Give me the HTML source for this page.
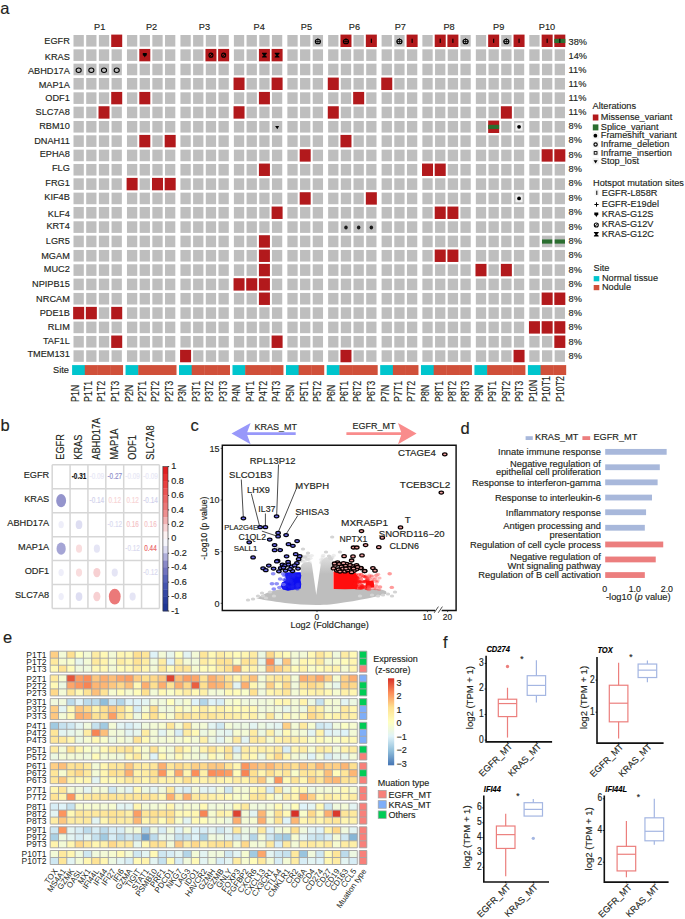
<!DOCTYPE html>
<html><head><meta charset="utf-8"><style>
html,body{margin:0;padding:0;background:#fff;}
svg{display:block;font-family:"Liberation Sans", sans-serif;}
</style></head><body>
<svg width="685" height="919" viewBox="0 0 685 919">
<rect width="685" height="919" fill="#fff"/>
<text x="0.30" y="14.00" font-size="16.5" text-anchor="start" fill="#231F20"  stroke="#231F20" stroke-width="0.15">a</text>
<text x="99.70" y="30.40" font-size="9.2" text-anchor="middle" fill="#231F20"  stroke="#231F20" stroke-width="0.15">P1</text>
<text x="151.60" y="30.40" font-size="9.2" text-anchor="middle" fill="#231F20"  stroke="#231F20" stroke-width="0.15">P2</text>
<text x="204.40" y="30.40" font-size="9.2" text-anchor="middle" fill="#231F20"  stroke="#231F20" stroke-width="0.15">P3</text>
<text x="259.20" y="30.40" font-size="9.2" text-anchor="middle" fill="#231F20"  stroke="#231F20" stroke-width="0.15">P4</text>
<text x="306.40" y="30.40" font-size="9.2" text-anchor="middle" fill="#231F20"  stroke="#231F20" stroke-width="0.15">P5</text>
<text x="354.40" y="30.40" font-size="9.2" text-anchor="middle" fill="#231F20"  stroke="#231F20" stroke-width="0.15">P6</text>
<text x="400.30" y="30.40" font-size="9.2" text-anchor="middle" fill="#231F20"  stroke="#231F20" stroke-width="0.15">P7</text>
<text x="449.00" y="30.40" font-size="9.2" text-anchor="middle" fill="#231F20"  stroke="#231F20" stroke-width="0.15">P8</text>
<text x="498.70" y="30.40" font-size="9.2" text-anchor="middle" fill="#231F20"  stroke="#231F20" stroke-width="0.15">P9</text>
<text x="547.00" y="30.40" font-size="9.2" text-anchor="middle" fill="#231F20"  stroke="#231F20" stroke-width="0.15">P10</text>
<text x="69.80" y="43.90" font-size="9.2" text-anchor="end" fill="#231F20"  stroke="#231F20" stroke-width="0.15">EGFR</text>
<text x="568.60" y="44.80" font-size="9.2" text-anchor="start" fill="#231F20"  stroke="#231F20" stroke-width="0.15">38%</text>
<rect x="73.50" y="35.00" width="10.30" height="11.60" fill="#BEBEBE" />
<rect x="86.19" y="35.00" width="10.30" height="11.60" fill="#BEBEBE" />
<rect x="98.87" y="35.00" width="10.30" height="11.60" fill="#BEBEBE" />
<rect x="111.21" y="34.60" width="11.00" height="12.40" fill="#B2191C" />
<rect x="126.96" y="35.00" width="10.30" height="11.60" fill="#BEBEBE" />
<rect x="139.65" y="35.00" width="10.30" height="11.60" fill="#BEBEBE" />
<rect x="152.34" y="35.00" width="10.30" height="11.60" fill="#BEBEBE" />
<rect x="165.03" y="35.00" width="10.30" height="11.60" fill="#BEBEBE" />
<rect x="180.43" y="35.00" width="10.30" height="11.60" fill="#BEBEBE" />
<rect x="193.11" y="35.00" width="10.30" height="11.60" fill="#BEBEBE" />
<rect x="205.80" y="35.00" width="10.30" height="11.60" fill="#BEBEBE" />
<rect x="218.49" y="35.00" width="10.30" height="11.60" fill="#BEBEBE" />
<rect x="233.89" y="35.00" width="10.30" height="11.60" fill="#BEBEBE" />
<rect x="246.58" y="35.00" width="10.30" height="11.60" fill="#BEBEBE" />
<rect x="259.27" y="35.00" width="10.30" height="11.60" fill="#BEBEBE" />
<rect x="271.95" y="35.00" width="10.30" height="11.60" fill="#BEBEBE" />
<rect x="287.36" y="35.00" width="10.30" height="11.60" fill="#BEBEBE" />
<rect x="300.04" y="35.00" width="10.30" height="11.60" fill="#BEBEBE" />
<rect x="312.73" y="35.00" width="10.30" height="11.60" fill="#BEBEBE" />
<ellipse cx="317.88" cy="41.50" rx="2.55" ry="2.3" fill="none" stroke="#000" stroke-width="1.1"/>
<path d="M315.28 41.50H320.48M317.88 38.20V43.90" stroke="#000" stroke-width="0.75"/>
<rect x="328.13" y="35.00" width="10.30" height="11.60" fill="#BEBEBE" />
<rect x="340.47" y="34.60" width="11.00" height="12.40" fill="#B2191C" />
<ellipse cx="345.97" cy="41.50" rx="2.55" ry="2.3" fill="none" stroke="#000" stroke-width="1.1"/>
<path d="M343.37 41.50H348.57M345.97 38.20V43.90" stroke="#000" stroke-width="0.75"/>
<rect x="353.51" y="35.00" width="10.30" height="11.60" fill="#BEBEBE" />
<rect x="365.84" y="34.60" width="11.00" height="12.40" fill="#B2191C" />
<rect x="370.79" y="38.70" width="1.1" height="4.2" fill="#000"/>
<rect x="381.60" y="35.00" width="10.30" height="11.60" fill="#BEBEBE" />
<rect x="394.28" y="35.00" width="10.30" height="11.60" fill="#BEBEBE" />
<ellipse cx="399.43" cy="41.50" rx="2.55" ry="2.3" fill="none" stroke="#000" stroke-width="1.1"/>
<path d="M396.83 41.50H402.03M399.43 38.20V43.90" stroke="#000" stroke-width="0.75"/>
<rect x="406.62" y="34.60" width="11.00" height="12.40" fill="#B2191C" />
<rect x="411.57" y="38.70" width="1.1" height="4.2" fill="#000"/>
<rect x="422.37" y="35.00" width="10.30" height="11.60" fill="#BEBEBE" />
<rect x="434.71" y="34.60" width="11.00" height="12.40" fill="#B2191C" />
<rect x="439.66" y="38.70" width="1.1" height="4.2" fill="#000"/>
<rect x="447.40" y="34.60" width="11.00" height="12.40" fill="#B2191C" />
<rect x="452.35" y="38.70" width="1.1" height="4.2" fill="#000"/>
<rect x="460.44" y="35.00" width="10.30" height="11.60" fill="#BEBEBE" />
<ellipse cx="465.58" cy="41.50" rx="2.55" ry="2.3" fill="none" stroke="#000" stroke-width="1.1"/>
<path d="M462.98 41.50H468.19M465.58 38.20V43.90" stroke="#000" stroke-width="0.75"/>
<rect x="475.84" y="35.00" width="10.30" height="11.60" fill="#BEBEBE" />
<rect x="488.17" y="34.60" width="11.00" height="12.40" fill="#B2191C" />
<rect x="493.12" y="38.70" width="1.1" height="4.2" fill="#000"/>
<rect x="501.21" y="35.00" width="10.30" height="11.60" fill="#BEBEBE" />
<ellipse cx="506.36" cy="41.50" rx="2.55" ry="2.3" fill="none" stroke="#000" stroke-width="1.1"/>
<path d="M503.76 41.50H508.96M506.36 38.20V43.90" stroke="#000" stroke-width="0.75"/>
<rect x="513.55" y="34.60" width="11.00" height="12.40" fill="#B2191C" />
<rect x="518.50" y="38.70" width="1.1" height="4.2" fill="#000"/>
<rect x="529.30" y="35.00" width="10.30" height="11.60" fill="#BEBEBE" />
<rect x="541.64" y="34.60" width="11.00" height="12.40" fill="#B2191C" />
<rect x="546.59" y="38.70" width="1.1" height="4.2" fill="#000"/>
<rect x="554.33" y="34.60" width="11.00" height="12.40" fill="#B2191C" />
<rect x="554.33" y="38.83" width="11.00" height="4.18" fill="#2B6E30" />
<rect x="559.28" y="38.70" width="1.1" height="4.2" fill="#000"/>
<text x="69.80" y="59.60" font-size="9.2" text-anchor="end" fill="#231F20"  stroke="#231F20" stroke-width="0.15">KRAS</text>
<text x="568.60" y="59.10" font-size="9.2" text-anchor="start" fill="#231F20"  stroke="#231F20" stroke-width="0.15">14%</text>
<rect x="73.50" y="49.33" width="10.30" height="11.60" fill="#BEBEBE" />
<rect x="86.19" y="49.33" width="10.30" height="11.60" fill="#BEBEBE" />
<rect x="98.87" y="49.33" width="10.30" height="11.60" fill="#BEBEBE" />
<rect x="111.56" y="49.33" width="10.30" height="11.60" fill="#BEBEBE" />
<rect x="126.96" y="49.33" width="10.30" height="11.60" fill="#BEBEBE" />
<rect x="139.30" y="48.93" width="11.00" height="12.40" fill="#B2191C" />
<path d="M142.80 52.93h4v2.4l-1.2 0.6l-0.8 1.6l-0.8-1.6l-1.2-0.6z" fill="#000"/>
<rect x="152.34" y="49.33" width="10.30" height="11.60" fill="#BEBEBE" />
<rect x="165.03" y="49.33" width="10.30" height="11.60" fill="#BEBEBE" />
<rect x="180.43" y="49.33" width="10.30" height="11.60" fill="#BEBEBE" />
<rect x="193.11" y="49.33" width="10.30" height="11.60" fill="#BEBEBE" />
<rect x="205.45" y="48.93" width="11.00" height="12.40" fill="#B2191C" />
<circle cx="210.95" cy="55.13" r="2.0" fill="none" stroke="#000" stroke-width="1.1"/>
<path d="M209.45 56.63L212.45 53.63" stroke="#000" stroke-width="1.0"/>
<rect x="218.14" y="48.93" width="11.00" height="12.40" fill="#B2191C" />
<circle cx="223.64" cy="55.13" r="2.0" fill="none" stroke="#000" stroke-width="1.1"/>
<path d="M222.14 56.63L225.14 53.63" stroke="#000" stroke-width="1.0"/>
<rect x="233.89" y="49.33" width="10.30" height="11.60" fill="#BEBEBE" />
<rect x="246.58" y="49.33" width="10.30" height="11.60" fill="#BEBEBE" />
<rect x="258.92" y="48.93" width="11.00" height="12.40" fill="#B2191C" />
<path d="M262.02 52.83h4.8v0.8l-1.6 1.5l1.6 1.5v0.8h-4.8v-0.8l1.6-1.5l-1.6-1.5z" fill="#000"/>
<rect x="271.60" y="48.93" width="11.00" height="12.40" fill="#B2191C" />
<path d="M274.70 52.83h4.8v0.8l-1.6 1.5l1.6 1.5v0.8h-4.8v-0.8l1.6-1.5l-1.6-1.5z" fill="#000"/>
<rect x="287.36" y="49.33" width="10.30" height="11.60" fill="#BEBEBE" />
<rect x="300.04" y="49.33" width="10.30" height="11.60" fill="#BEBEBE" />
<rect x="312.73" y="49.33" width="10.30" height="11.60" fill="#BEBEBE" />
<rect x="328.13" y="49.33" width="10.30" height="11.60" fill="#BEBEBE" />
<rect x="340.82" y="49.33" width="10.30" height="11.60" fill="#BEBEBE" />
<rect x="353.51" y="49.33" width="10.30" height="11.60" fill="#BEBEBE" />
<rect x="366.19" y="49.33" width="10.30" height="11.60" fill="#BEBEBE" />
<rect x="381.60" y="49.33" width="10.30" height="11.60" fill="#BEBEBE" />
<rect x="394.28" y="49.33" width="10.30" height="11.60" fill="#BEBEBE" />
<rect x="406.97" y="49.33" width="10.30" height="11.60" fill="#BEBEBE" />
<rect x="422.37" y="49.33" width="10.30" height="11.60" fill="#BEBEBE" />
<rect x="435.06" y="49.33" width="10.30" height="11.60" fill="#BEBEBE" />
<rect x="447.75" y="49.33" width="10.30" height="11.60" fill="#BEBEBE" />
<rect x="460.44" y="49.33" width="10.30" height="11.60" fill="#BEBEBE" />
<rect x="475.84" y="49.33" width="10.30" height="11.60" fill="#BEBEBE" />
<rect x="488.52" y="49.33" width="10.30" height="11.60" fill="#BEBEBE" />
<rect x="501.21" y="49.33" width="10.30" height="11.60" fill="#BEBEBE" />
<rect x="513.90" y="49.33" width="10.30" height="11.60" fill="#BEBEBE" />
<rect x="529.30" y="49.33" width="10.30" height="11.60" fill="#BEBEBE" />
<rect x="541.99" y="49.33" width="10.30" height="11.60" fill="#BEBEBE" />
<rect x="554.68" y="49.33" width="10.30" height="11.60" fill="#BEBEBE" />
<text x="69.80" y="73.80" font-size="9.2" text-anchor="end" fill="#231F20"  stroke="#231F20" stroke-width="0.15">ABHD17A</text>
<text x="568.60" y="73.00" font-size="9.2" text-anchor="start" fill="#231F20"  stroke="#231F20" stroke-width="0.15">11%</text>
<rect x="73.50" y="63.66" width="10.30" height="11.60" fill="#BEBEBE" />
<ellipse cx="78.65" cy="70.26" rx="2.55" ry="2.25" fill="none" stroke="#000" stroke-width="1.05"/>
<rect x="86.19" y="63.66" width="10.30" height="11.60" fill="#BEBEBE" />
<ellipse cx="91.34" cy="70.26" rx="2.55" ry="2.25" fill="none" stroke="#000" stroke-width="1.05"/>
<rect x="98.87" y="63.66" width="10.30" height="11.60" fill="#BEBEBE" />
<ellipse cx="104.02" cy="70.26" rx="2.55" ry="2.25" fill="none" stroke="#000" stroke-width="1.05"/>
<rect x="111.56" y="63.66" width="10.30" height="11.60" fill="#BEBEBE" />
<ellipse cx="116.71" cy="70.26" rx="2.55" ry="2.25" fill="none" stroke="#000" stroke-width="1.05"/>
<rect x="126.96" y="63.66" width="10.30" height="11.60" fill="#BEBEBE" />
<rect x="139.65" y="63.66" width="10.30" height="11.60" fill="#BEBEBE" />
<rect x="152.34" y="63.66" width="10.30" height="11.60" fill="#BEBEBE" />
<rect x="165.03" y="63.66" width="10.30" height="11.60" fill="#BEBEBE" />
<rect x="180.43" y="63.66" width="10.30" height="11.60" fill="#BEBEBE" />
<rect x="193.11" y="63.66" width="10.30" height="11.60" fill="#BEBEBE" />
<rect x="205.80" y="63.66" width="10.30" height="11.60" fill="#BEBEBE" />
<rect x="218.49" y="63.66" width="10.30" height="11.60" fill="#BEBEBE" />
<rect x="233.89" y="63.66" width="10.30" height="11.60" fill="#BEBEBE" />
<rect x="246.58" y="63.66" width="10.30" height="11.60" fill="#BEBEBE" />
<rect x="259.27" y="63.66" width="10.30" height="11.60" fill="#BEBEBE" />
<rect x="271.95" y="63.66" width="10.30" height="11.60" fill="#BEBEBE" />
<rect x="287.36" y="63.66" width="10.30" height="11.60" fill="#BEBEBE" />
<rect x="300.04" y="63.66" width="10.30" height="11.60" fill="#BEBEBE" />
<rect x="312.73" y="63.66" width="10.30" height="11.60" fill="#BEBEBE" />
<rect x="328.13" y="63.66" width="10.30" height="11.60" fill="#BEBEBE" />
<rect x="340.82" y="63.66" width="10.30" height="11.60" fill="#BEBEBE" />
<rect x="353.51" y="63.66" width="10.30" height="11.60" fill="#BEBEBE" />
<rect x="366.19" y="63.66" width="10.30" height="11.60" fill="#BEBEBE" />
<rect x="381.60" y="63.66" width="10.30" height="11.60" fill="#BEBEBE" />
<rect x="394.28" y="63.66" width="10.30" height="11.60" fill="#BEBEBE" />
<rect x="406.97" y="63.66" width="10.30" height="11.60" fill="#BEBEBE" />
<rect x="422.37" y="63.66" width="10.30" height="11.60" fill="#BEBEBE" />
<rect x="435.06" y="63.66" width="10.30" height="11.60" fill="#BEBEBE" />
<rect x="447.75" y="63.66" width="10.30" height="11.60" fill="#BEBEBE" />
<rect x="460.44" y="63.66" width="10.30" height="11.60" fill="#BEBEBE" />
<rect x="475.84" y="63.66" width="10.30" height="11.60" fill="#BEBEBE" />
<rect x="488.52" y="63.66" width="10.30" height="11.60" fill="#BEBEBE" />
<rect x="501.21" y="63.66" width="10.30" height="11.60" fill="#BEBEBE" />
<rect x="513.90" y="63.66" width="10.30" height="11.60" fill="#BEBEBE" />
<rect x="529.30" y="63.66" width="10.30" height="11.60" fill="#BEBEBE" />
<rect x="541.99" y="63.66" width="10.30" height="11.60" fill="#BEBEBE" />
<rect x="554.68" y="63.66" width="10.30" height="11.60" fill="#BEBEBE" />
<text x="69.80" y="87.70" font-size="9.2" text-anchor="end" fill="#231F20"  stroke="#231F20" stroke-width="0.15">MAP1A</text>
<text x="568.60" y="86.80" font-size="9.2" text-anchor="start" fill="#231F20"  stroke="#231F20" stroke-width="0.15">11%</text>
<rect x="73.50" y="77.99" width="10.30" height="11.60" fill="#BEBEBE" />
<rect x="86.19" y="77.99" width="10.30" height="11.60" fill="#BEBEBE" />
<rect x="98.87" y="77.99" width="10.30" height="11.60" fill="#BEBEBE" />
<rect x="111.56" y="77.99" width="10.30" height="11.60" fill="#BEBEBE" />
<rect x="126.96" y="77.99" width="10.30" height="11.60" fill="#BEBEBE" />
<rect x="139.65" y="77.99" width="10.30" height="11.60" fill="#BEBEBE" />
<rect x="152.34" y="77.99" width="10.30" height="11.60" fill="#BEBEBE" />
<rect x="165.03" y="77.99" width="10.30" height="11.60" fill="#BEBEBE" />
<rect x="180.43" y="77.99" width="10.30" height="11.60" fill="#BEBEBE" />
<rect x="193.11" y="77.99" width="10.30" height="11.60" fill="#BEBEBE" />
<rect x="205.80" y="77.99" width="10.30" height="11.60" fill="#BEBEBE" />
<rect x="218.49" y="77.99" width="10.30" height="11.60" fill="#BEBEBE" />
<rect x="233.54" y="77.59" width="11.00" height="12.40" fill="#B2191C" />
<rect x="246.58" y="77.99" width="10.30" height="11.60" fill="#BEBEBE" />
<rect x="259.27" y="77.99" width="10.30" height="11.60" fill="#BEBEBE" />
<rect x="271.60" y="77.59" width="11.00" height="12.40" fill="#B2191C" />
<rect x="287.36" y="77.99" width="10.30" height="11.60" fill="#BEBEBE" />
<rect x="300.04" y="77.99" width="10.30" height="11.60" fill="#BEBEBE" />
<rect x="312.73" y="77.99" width="10.30" height="11.60" fill="#BEBEBE" />
<rect x="327.78" y="77.59" width="11.00" height="12.40" fill="#B2191C" />
<rect x="340.82" y="77.99" width="10.30" height="11.60" fill="#BEBEBE" />
<rect x="353.51" y="77.99" width="10.30" height="11.60" fill="#BEBEBE" />
<rect x="366.19" y="77.99" width="10.30" height="11.60" fill="#BEBEBE" />
<rect x="381.25" y="77.59" width="11.00" height="12.40" fill="#B2191C" />
<rect x="394.28" y="77.99" width="10.30" height="11.60" fill="#BEBEBE" />
<rect x="406.97" y="77.99" width="10.30" height="11.60" fill="#BEBEBE" />
<rect x="422.37" y="77.99" width="10.30" height="11.60" fill="#BEBEBE" />
<rect x="435.06" y="77.99" width="10.30" height="11.60" fill="#BEBEBE" />
<rect x="447.75" y="77.99" width="10.30" height="11.60" fill="#BEBEBE" />
<rect x="460.44" y="77.99" width="10.30" height="11.60" fill="#BEBEBE" />
<rect x="475.84" y="77.99" width="10.30" height="11.60" fill="#BEBEBE" />
<rect x="488.52" y="77.99" width="10.30" height="11.60" fill="#BEBEBE" />
<rect x="501.21" y="77.99" width="10.30" height="11.60" fill="#BEBEBE" />
<rect x="513.90" y="77.99" width="10.30" height="11.60" fill="#BEBEBE" />
<rect x="529.30" y="77.99" width="10.30" height="11.60" fill="#BEBEBE" />
<rect x="541.99" y="77.99" width="10.30" height="11.60" fill="#BEBEBE" />
<rect x="554.68" y="77.99" width="10.30" height="11.60" fill="#BEBEBE" />
<text x="69.80" y="101.40" font-size="9.2" text-anchor="end" fill="#231F20"  stroke="#231F20" stroke-width="0.15">ODF1</text>
<text x="568.60" y="100.90" font-size="9.2" text-anchor="start" fill="#231F20"  stroke="#231F20" stroke-width="0.15">11%</text>
<rect x="73.50" y="92.32" width="10.30" height="11.60" fill="#BEBEBE" />
<rect x="86.19" y="92.32" width="10.30" height="11.60" fill="#BEBEBE" />
<rect x="98.87" y="92.32" width="10.30" height="11.60" fill="#BEBEBE" />
<rect x="111.21" y="91.92" width="11.00" height="12.40" fill="#B2191C" />
<rect x="126.96" y="92.32" width="10.30" height="11.60" fill="#BEBEBE" />
<rect x="139.30" y="91.92" width="11.00" height="12.40" fill="#B2191C" />
<rect x="152.34" y="92.32" width="10.30" height="11.60" fill="#BEBEBE" />
<rect x="165.03" y="92.32" width="10.30" height="11.60" fill="#BEBEBE" />
<rect x="180.43" y="92.32" width="10.30" height="11.60" fill="#BEBEBE" />
<rect x="193.11" y="92.32" width="10.30" height="11.60" fill="#BEBEBE" />
<rect x="205.80" y="92.32" width="10.30" height="11.60" fill="#BEBEBE" />
<rect x="218.49" y="92.32" width="10.30" height="11.60" fill="#BEBEBE" />
<rect x="233.89" y="92.32" width="10.30" height="11.60" fill="#BEBEBE" />
<rect x="246.58" y="92.32" width="10.30" height="11.60" fill="#BEBEBE" />
<rect x="258.92" y="91.92" width="11.00" height="12.40" fill="#B2191C" />
<rect x="271.95" y="92.32" width="10.30" height="11.60" fill="#BEBEBE" />
<rect x="287.36" y="92.32" width="10.30" height="11.60" fill="#BEBEBE" />
<rect x="300.04" y="92.32" width="10.30" height="11.60" fill="#BEBEBE" />
<rect x="312.73" y="92.32" width="10.30" height="11.60" fill="#BEBEBE" />
<rect x="328.13" y="92.32" width="10.30" height="11.60" fill="#BEBEBE" />
<rect x="340.82" y="92.32" width="10.30" height="11.60" fill="#BEBEBE" />
<rect x="353.16" y="91.92" width="11.00" height="12.40" fill="#B2191C" />
<rect x="366.19" y="92.32" width="10.30" height="11.60" fill="#BEBEBE" />
<rect x="381.60" y="92.32" width="10.30" height="11.60" fill="#BEBEBE" />
<rect x="394.28" y="92.32" width="10.30" height="11.60" fill="#BEBEBE" />
<rect x="406.97" y="92.32" width="10.30" height="11.60" fill="#BEBEBE" />
<rect x="422.37" y="92.32" width="10.30" height="11.60" fill="#BEBEBE" />
<rect x="435.06" y="92.32" width="10.30" height="11.60" fill="#BEBEBE" />
<rect x="447.75" y="92.32" width="10.30" height="11.60" fill="#BEBEBE" />
<rect x="460.44" y="92.32" width="10.30" height="11.60" fill="#BEBEBE" />
<rect x="475.84" y="92.32" width="10.30" height="11.60" fill="#BEBEBE" />
<rect x="488.52" y="92.32" width="10.30" height="11.60" fill="#BEBEBE" />
<rect x="501.21" y="92.32" width="10.30" height="11.60" fill="#BEBEBE" />
<rect x="513.90" y="92.32" width="10.30" height="11.60" fill="#BEBEBE" />
<rect x="529.30" y="92.32" width="10.30" height="11.60" fill="#BEBEBE" />
<rect x="541.99" y="92.32" width="10.30" height="11.60" fill="#BEBEBE" />
<rect x="554.68" y="92.32" width="10.30" height="11.60" fill="#BEBEBE" />
<text x="69.80" y="114.90" font-size="9.2" text-anchor="end" fill="#231F20"  stroke="#231F20" stroke-width="0.15">SLC7A8</text>
<text x="568.60" y="114.90" font-size="9.2" text-anchor="start" fill="#231F20"  stroke="#231F20" stroke-width="0.15">11%</text>
<rect x="73.50" y="106.65" width="10.30" height="11.60" fill="#BEBEBE" />
<rect x="86.19" y="106.65" width="10.30" height="11.60" fill="#BEBEBE" />
<rect x="98.52" y="106.25" width="11.00" height="12.40" fill="#B2191C" />
<rect x="111.56" y="106.65" width="10.30" height="11.60" fill="#BEBEBE" />
<rect x="126.96" y="106.65" width="10.30" height="11.60" fill="#BEBEBE" />
<rect x="139.65" y="106.65" width="10.30" height="11.60" fill="#BEBEBE" />
<rect x="152.34" y="106.65" width="10.30" height="11.60" fill="#BEBEBE" />
<rect x="165.03" y="106.65" width="10.30" height="11.60" fill="#BEBEBE" />
<rect x="180.43" y="106.65" width="10.30" height="11.60" fill="#BEBEBE" />
<rect x="193.11" y="106.65" width="10.30" height="11.60" fill="#BEBEBE" />
<rect x="205.80" y="106.65" width="10.30" height="11.60" fill="#BEBEBE" />
<rect x="218.49" y="106.65" width="10.30" height="11.60" fill="#BEBEBE" />
<rect x="233.54" y="106.25" width="11.00" height="12.40" fill="#B2191C" />
<rect x="246.58" y="106.65" width="10.30" height="11.60" fill="#BEBEBE" />
<rect x="259.27" y="106.65" width="10.30" height="11.60" fill="#BEBEBE" />
<rect x="271.95" y="106.65" width="10.30" height="11.60" fill="#BEBEBE" />
<rect x="287.36" y="106.65" width="10.30" height="11.60" fill="#BEBEBE" />
<rect x="300.04" y="106.65" width="10.30" height="11.60" fill="#BEBEBE" />
<rect x="312.73" y="106.65" width="10.30" height="11.60" fill="#BEBEBE" />
<rect x="327.78" y="106.25" width="11.00" height="12.40" fill="#B2191C" />
<rect x="340.82" y="106.65" width="10.30" height="11.60" fill="#BEBEBE" />
<rect x="353.51" y="106.65" width="10.30" height="11.60" fill="#BEBEBE" />
<rect x="366.19" y="106.65" width="10.30" height="11.60" fill="#BEBEBE" />
<rect x="381.60" y="106.65" width="10.30" height="11.60" fill="#BEBEBE" />
<rect x="394.28" y="106.65" width="10.30" height="11.60" fill="#BEBEBE" />
<rect x="406.97" y="106.65" width="10.30" height="11.60" fill="#BEBEBE" />
<rect x="422.37" y="106.65" width="10.30" height="11.60" fill="#BEBEBE" />
<rect x="435.06" y="106.65" width="10.30" height="11.60" fill="#BEBEBE" />
<rect x="447.75" y="106.65" width="10.30" height="11.60" fill="#BEBEBE" />
<rect x="460.44" y="106.65" width="10.30" height="11.60" fill="#BEBEBE" />
<rect x="475.84" y="106.65" width="10.30" height="11.60" fill="#BEBEBE" />
<rect x="488.52" y="106.65" width="10.30" height="11.60" fill="#BEBEBE" />
<rect x="500.86" y="106.25" width="11.00" height="12.40" fill="#B2191C" />
<rect x="513.90" y="106.65" width="10.30" height="11.60" fill="#BEBEBE" />
<rect x="529.30" y="106.65" width="10.30" height="11.60" fill="#BEBEBE" />
<rect x="541.99" y="106.65" width="10.30" height="11.60" fill="#BEBEBE" />
<rect x="554.68" y="106.65" width="10.30" height="11.60" fill="#BEBEBE" />
<text x="69.80" y="129.30" font-size="9.2" text-anchor="end" fill="#231F20"  stroke="#231F20" stroke-width="0.15">RBM10</text>
<text x="568.60" y="129.10" font-size="9.2" text-anchor="start" fill="#231F20"  stroke="#231F20" stroke-width="0.15">8%</text>
<rect x="73.50" y="120.98" width="10.30" height="11.60" fill="#BEBEBE" />
<rect x="86.19" y="120.98" width="10.30" height="11.60" fill="#BEBEBE" />
<rect x="98.87" y="120.98" width="10.30" height="11.60" fill="#BEBEBE" />
<rect x="111.56" y="120.98" width="10.30" height="11.60" fill="#BEBEBE" />
<rect x="126.96" y="120.98" width="10.30" height="11.60" fill="#BEBEBE" />
<rect x="139.65" y="120.98" width="10.30" height="11.60" fill="#BEBEBE" />
<rect x="152.34" y="120.98" width="10.30" height="11.60" fill="#BEBEBE" />
<rect x="165.03" y="120.98" width="10.30" height="11.60" fill="#BEBEBE" />
<rect x="180.43" y="120.98" width="10.30" height="11.60" fill="#BEBEBE" />
<rect x="193.11" y="120.98" width="10.30" height="11.60" fill="#BEBEBE" />
<rect x="205.80" y="120.98" width="10.30" height="11.60" fill="#BEBEBE" />
<rect x="218.49" y="120.98" width="10.30" height="11.60" fill="#BEBEBE" />
<rect x="233.89" y="120.98" width="10.30" height="11.60" fill="#BEBEBE" />
<rect x="246.58" y="120.98" width="10.30" height="11.60" fill="#BEBEBE" />
<rect x="259.27" y="120.98" width="10.30" height="11.60" fill="#BEBEBE" />
<rect x="271.95" y="120.98" width="10.30" height="11.60" fill="#BEBEBE" />
<path d="M275.10 125.88h4.0l-1.8 3.4z" fill="#000"/>
<rect x="287.36" y="120.98" width="10.30" height="11.60" fill="#BEBEBE" />
<rect x="300.04" y="120.98" width="10.30" height="11.60" fill="#BEBEBE" />
<rect x="312.73" y="120.98" width="10.30" height="11.60" fill="#BEBEBE" />
<rect x="328.13" y="120.98" width="10.30" height="11.60" fill="#BEBEBE" />
<rect x="340.82" y="120.98" width="10.30" height="11.60" fill="#BEBEBE" />
<rect x="353.51" y="120.98" width="10.30" height="11.60" fill="#BEBEBE" />
<rect x="366.19" y="120.98" width="10.30" height="11.60" fill="#BEBEBE" />
<rect x="381.60" y="120.98" width="10.30" height="11.60" fill="#BEBEBE" />
<rect x="394.28" y="120.98" width="10.30" height="11.60" fill="#BEBEBE" />
<rect x="406.97" y="120.98" width="10.30" height="11.60" fill="#BEBEBE" />
<rect x="422.37" y="120.98" width="10.30" height="11.60" fill="#BEBEBE" />
<rect x="435.06" y="120.98" width="10.30" height="11.60" fill="#BEBEBE" />
<rect x="447.75" y="120.98" width="10.30" height="11.60" fill="#BEBEBE" />
<rect x="460.44" y="120.98" width="10.30" height="11.60" fill="#BEBEBE" />
<rect x="475.84" y="120.98" width="10.30" height="11.60" fill="#BEBEBE" />
<rect x="488.17" y="120.58" width="11.00" height="12.40" fill="#B2191C" />
<rect x="488.17" y="124.81" width="11.00" height="4.18" fill="#2B6E30" />
<rect x="501.21" y="120.98" width="10.30" height="11.60" fill="#BEBEBE" />
<rect x="513.90" y="120.98" width="10.30" height="11.60" fill="#BEBEBE" />
<rect x="515.50" y="122.88" width="7.10" height="7.80" fill="#EFEFEF" />
<circle cx="519.05" cy="126.78" r="1.9" fill="#000"/>
<rect x="529.30" y="120.98" width="10.30" height="11.60" fill="#BEBEBE" />
<rect x="541.99" y="120.98" width="10.30" height="11.60" fill="#BEBEBE" />
<rect x="554.68" y="120.98" width="10.30" height="11.60" fill="#BEBEBE" />
<text x="69.80" y="143.50" font-size="9.2" text-anchor="end" fill="#231F20"  stroke="#231F20" stroke-width="0.15">DNAH11</text>
<text x="568.60" y="143.30" font-size="9.2" text-anchor="start" fill="#231F20"  stroke="#231F20" stroke-width="0.15">8%</text>
<rect x="73.50" y="135.31" width="10.30" height="11.60" fill="#BEBEBE" />
<rect x="86.19" y="135.31" width="10.30" height="11.60" fill="#BEBEBE" />
<rect x="98.87" y="135.31" width="10.30" height="11.60" fill="#BEBEBE" />
<rect x="111.56" y="135.31" width="10.30" height="11.60" fill="#BEBEBE" />
<rect x="126.96" y="135.31" width="10.30" height="11.60" fill="#BEBEBE" />
<rect x="139.30" y="134.91" width="11.00" height="12.40" fill="#B2191C" />
<rect x="152.34" y="135.31" width="10.30" height="11.60" fill="#BEBEBE" />
<rect x="164.68" y="134.91" width="11.00" height="12.40" fill="#B2191C" />
<rect x="180.43" y="135.31" width="10.30" height="11.60" fill="#BEBEBE" />
<rect x="193.11" y="135.31" width="10.30" height="11.60" fill="#BEBEBE" />
<rect x="205.80" y="135.31" width="10.30" height="11.60" fill="#BEBEBE" />
<rect x="218.49" y="135.31" width="10.30" height="11.60" fill="#BEBEBE" />
<rect x="233.89" y="135.31" width="10.30" height="11.60" fill="#BEBEBE" />
<rect x="246.58" y="135.31" width="10.30" height="11.60" fill="#BEBEBE" />
<rect x="259.27" y="135.31" width="10.30" height="11.60" fill="#BEBEBE" />
<rect x="271.95" y="135.31" width="10.30" height="11.60" fill="#BEBEBE" />
<rect x="287.36" y="135.31" width="10.30" height="11.60" fill="#BEBEBE" />
<rect x="300.04" y="135.31" width="10.30" height="11.60" fill="#BEBEBE" />
<rect x="312.73" y="135.31" width="10.30" height="11.60" fill="#BEBEBE" />
<rect x="328.13" y="135.31" width="10.30" height="11.60" fill="#BEBEBE" />
<rect x="340.47" y="134.91" width="11.00" height="12.40" fill="#B2191C" />
<rect x="353.51" y="135.31" width="10.30" height="11.60" fill="#BEBEBE" />
<rect x="366.19" y="135.31" width="10.30" height="11.60" fill="#BEBEBE" />
<rect x="381.60" y="135.31" width="10.30" height="11.60" fill="#BEBEBE" />
<rect x="394.28" y="135.31" width="10.30" height="11.60" fill="#BEBEBE" />
<rect x="406.97" y="135.31" width="10.30" height="11.60" fill="#BEBEBE" />
<rect x="422.37" y="135.31" width="10.30" height="11.60" fill="#BEBEBE" />
<rect x="435.06" y="135.31" width="10.30" height="11.60" fill="#BEBEBE" />
<rect x="447.75" y="135.31" width="10.30" height="11.60" fill="#BEBEBE" />
<rect x="460.44" y="135.31" width="10.30" height="11.60" fill="#BEBEBE" />
<rect x="475.84" y="135.31" width="10.30" height="11.60" fill="#BEBEBE" />
<rect x="488.52" y="135.31" width="10.30" height="11.60" fill="#BEBEBE" />
<rect x="501.21" y="135.31" width="10.30" height="11.60" fill="#BEBEBE" />
<rect x="513.90" y="135.31" width="10.30" height="11.60" fill="#BEBEBE" />
<rect x="529.30" y="135.31" width="10.30" height="11.60" fill="#BEBEBE" />
<rect x="541.99" y="135.31" width="10.30" height="11.60" fill="#BEBEBE" />
<rect x="554.68" y="135.31" width="10.30" height="11.60" fill="#BEBEBE" />
<text x="69.80" y="157.00" font-size="9.2" text-anchor="end" fill="#231F20"  stroke="#231F20" stroke-width="0.15">EPHA8</text>
<text x="568.60" y="157.60" font-size="9.2" text-anchor="start" fill="#231F20"  stroke="#231F20" stroke-width="0.15">8%</text>
<rect x="73.50" y="149.64" width="10.30" height="11.60" fill="#BEBEBE" />
<rect x="86.19" y="149.64" width="10.30" height="11.60" fill="#BEBEBE" />
<rect x="98.87" y="149.64" width="10.30" height="11.60" fill="#BEBEBE" />
<rect x="111.56" y="149.64" width="10.30" height="11.60" fill="#BEBEBE" />
<rect x="126.96" y="149.64" width="10.30" height="11.60" fill="#BEBEBE" />
<rect x="139.65" y="149.64" width="10.30" height="11.60" fill="#BEBEBE" />
<rect x="152.34" y="149.64" width="10.30" height="11.60" fill="#BEBEBE" />
<rect x="165.03" y="149.64" width="10.30" height="11.60" fill="#BEBEBE" />
<rect x="180.43" y="149.64" width="10.30" height="11.60" fill="#BEBEBE" />
<rect x="193.11" y="149.64" width="10.30" height="11.60" fill="#BEBEBE" />
<rect x="205.80" y="149.64" width="10.30" height="11.60" fill="#BEBEBE" />
<rect x="218.49" y="149.64" width="10.30" height="11.60" fill="#BEBEBE" />
<rect x="233.89" y="149.64" width="10.30" height="11.60" fill="#BEBEBE" />
<rect x="246.58" y="149.64" width="10.30" height="11.60" fill="#BEBEBE" />
<rect x="259.27" y="149.64" width="10.30" height="11.60" fill="#BEBEBE" />
<rect x="271.95" y="149.64" width="10.30" height="11.60" fill="#BEBEBE" />
<rect x="287.36" y="149.64" width="10.30" height="11.60" fill="#BEBEBE" />
<rect x="299.69" y="149.24" width="11.00" height="12.40" fill="#B2191C" />
<rect x="312.73" y="149.64" width="10.30" height="11.60" fill="#BEBEBE" />
<rect x="328.13" y="149.64" width="10.30" height="11.60" fill="#BEBEBE" />
<rect x="340.82" y="149.64" width="10.30" height="11.60" fill="#BEBEBE" />
<rect x="353.51" y="149.64" width="10.30" height="11.60" fill="#BEBEBE" />
<rect x="366.19" y="149.64" width="10.30" height="11.60" fill="#BEBEBE" />
<rect x="381.60" y="149.64" width="10.30" height="11.60" fill="#BEBEBE" />
<rect x="394.28" y="149.64" width="10.30" height="11.60" fill="#BEBEBE" />
<rect x="406.97" y="149.64" width="10.30" height="11.60" fill="#BEBEBE" />
<rect x="422.37" y="149.64" width="10.30" height="11.60" fill="#BEBEBE" />
<rect x="435.06" y="149.64" width="10.30" height="11.60" fill="#BEBEBE" />
<rect x="447.75" y="149.64" width="10.30" height="11.60" fill="#BEBEBE" />
<rect x="460.44" y="149.64" width="10.30" height="11.60" fill="#BEBEBE" />
<rect x="475.84" y="149.64" width="10.30" height="11.60" fill="#BEBEBE" />
<rect x="488.52" y="149.64" width="10.30" height="11.60" fill="#BEBEBE" />
<rect x="501.21" y="149.64" width="10.30" height="11.60" fill="#BEBEBE" />
<rect x="513.90" y="149.64" width="10.30" height="11.60" fill="#BEBEBE" />
<rect x="529.30" y="149.64" width="10.30" height="11.60" fill="#BEBEBE" />
<rect x="541.64" y="149.24" width="11.00" height="12.40" fill="#B2191C" />
<rect x="554.33" y="149.24" width="11.00" height="12.40" fill="#B2191C" />
<text x="69.80" y="170.80" font-size="9.2" text-anchor="end" fill="#231F20"  stroke="#231F20" stroke-width="0.15">FLG</text>
<text x="568.60" y="172.00" font-size="9.2" text-anchor="start" fill="#231F20"  stroke="#231F20" stroke-width="0.15">8%</text>
<rect x="73.50" y="163.97" width="10.30" height="11.60" fill="#BEBEBE" />
<rect x="86.19" y="163.97" width="10.30" height="11.60" fill="#BEBEBE" />
<rect x="98.87" y="163.97" width="10.30" height="11.60" fill="#BEBEBE" />
<rect x="111.56" y="163.97" width="10.30" height="11.60" fill="#BEBEBE" />
<rect x="126.96" y="163.97" width="10.30" height="11.60" fill="#BEBEBE" />
<rect x="139.65" y="163.97" width="10.30" height="11.60" fill="#BEBEBE" />
<rect x="152.34" y="163.97" width="10.30" height="11.60" fill="#BEBEBE" />
<rect x="165.03" y="163.97" width="10.30" height="11.60" fill="#BEBEBE" />
<rect x="180.43" y="163.97" width="10.30" height="11.60" fill="#BEBEBE" />
<rect x="193.11" y="163.97" width="10.30" height="11.60" fill="#BEBEBE" />
<rect x="205.80" y="163.97" width="10.30" height="11.60" fill="#BEBEBE" />
<rect x="218.49" y="163.97" width="10.30" height="11.60" fill="#BEBEBE" />
<rect x="233.89" y="163.97" width="10.30" height="11.60" fill="#BEBEBE" />
<rect x="246.58" y="163.97" width="10.30" height="11.60" fill="#BEBEBE" />
<rect x="258.92" y="163.57" width="11.00" height="12.40" fill="#B2191C" />
<rect x="271.95" y="163.97" width="10.30" height="11.60" fill="#BEBEBE" />
<rect x="287.36" y="163.97" width="10.30" height="11.60" fill="#BEBEBE" />
<rect x="300.04" y="163.97" width="10.30" height="11.60" fill="#BEBEBE" />
<rect x="312.73" y="163.97" width="10.30" height="11.60" fill="#BEBEBE" />
<rect x="328.13" y="163.97" width="10.30" height="11.60" fill="#BEBEBE" />
<rect x="340.82" y="163.97" width="10.30" height="11.60" fill="#BEBEBE" />
<rect x="353.51" y="163.97" width="10.30" height="11.60" fill="#BEBEBE" />
<rect x="366.19" y="163.97" width="10.30" height="11.60" fill="#BEBEBE" />
<rect x="381.60" y="163.97" width="10.30" height="11.60" fill="#BEBEBE" />
<rect x="394.28" y="163.97" width="10.30" height="11.60" fill="#BEBEBE" />
<rect x="406.97" y="163.97" width="10.30" height="11.60" fill="#BEBEBE" />
<rect x="422.02" y="163.57" width="11.00" height="12.40" fill="#B2191C" />
<rect x="434.71" y="163.57" width="11.00" height="12.40" fill="#B2191C" />
<rect x="447.75" y="163.97" width="10.30" height="11.60" fill="#BEBEBE" />
<rect x="460.44" y="163.97" width="10.30" height="11.60" fill="#BEBEBE" />
<rect x="475.84" y="163.97" width="10.30" height="11.60" fill="#BEBEBE" />
<rect x="488.52" y="163.97" width="10.30" height="11.60" fill="#BEBEBE" />
<rect x="501.21" y="163.97" width="10.30" height="11.60" fill="#BEBEBE" />
<rect x="513.90" y="163.97" width="10.30" height="11.60" fill="#BEBEBE" />
<rect x="529.30" y="163.97" width="10.30" height="11.60" fill="#BEBEBE" />
<rect x="541.99" y="163.97" width="10.30" height="11.60" fill="#BEBEBE" />
<rect x="554.68" y="163.97" width="10.30" height="11.60" fill="#BEBEBE" />
<text x="69.80" y="185.60" font-size="9.2" text-anchor="end" fill="#231F20"  stroke="#231F20" stroke-width="0.15">FRG1</text>
<text x="568.60" y="186.40" font-size="9.2" text-anchor="start" fill="#231F20"  stroke="#231F20" stroke-width="0.15">8%</text>
<rect x="73.50" y="178.30" width="10.30" height="11.60" fill="#BEBEBE" />
<rect x="86.19" y="178.30" width="10.30" height="11.60" fill="#BEBEBE" />
<rect x="98.87" y="178.30" width="10.30" height="11.60" fill="#BEBEBE" />
<rect x="111.56" y="178.30" width="10.30" height="11.60" fill="#BEBEBE" />
<rect x="126.61" y="177.90" width="11.00" height="12.40" fill="#B2191C" />
<rect x="139.65" y="178.30" width="10.30" height="11.60" fill="#BEBEBE" />
<rect x="151.99" y="177.90" width="11.00" height="12.40" fill="#B2191C" />
<rect x="164.68" y="177.90" width="11.00" height="12.40" fill="#B2191C" />
<rect x="180.43" y="178.30" width="10.30" height="11.60" fill="#BEBEBE" />
<rect x="193.11" y="178.30" width="10.30" height="11.60" fill="#BEBEBE" />
<rect x="205.80" y="178.30" width="10.30" height="11.60" fill="#BEBEBE" />
<rect x="218.49" y="178.30" width="10.30" height="11.60" fill="#BEBEBE" />
<rect x="233.89" y="178.30" width="10.30" height="11.60" fill="#BEBEBE" />
<rect x="246.58" y="178.30" width="10.30" height="11.60" fill="#BEBEBE" />
<rect x="259.27" y="178.30" width="10.30" height="11.60" fill="#BEBEBE" />
<rect x="271.95" y="178.30" width="10.30" height="11.60" fill="#BEBEBE" />
<rect x="287.36" y="178.30" width="10.30" height="11.60" fill="#BEBEBE" />
<rect x="300.04" y="178.30" width="10.30" height="11.60" fill="#BEBEBE" />
<rect x="312.73" y="178.30" width="10.30" height="11.60" fill="#BEBEBE" />
<rect x="328.13" y="178.30" width="10.30" height="11.60" fill="#BEBEBE" />
<rect x="340.82" y="178.30" width="10.30" height="11.60" fill="#BEBEBE" />
<rect x="353.51" y="178.30" width="10.30" height="11.60" fill="#BEBEBE" />
<rect x="366.19" y="178.30" width="10.30" height="11.60" fill="#BEBEBE" />
<rect x="381.60" y="178.30" width="10.30" height="11.60" fill="#BEBEBE" />
<rect x="394.28" y="178.30" width="10.30" height="11.60" fill="#BEBEBE" />
<rect x="406.97" y="178.30" width="10.30" height="11.60" fill="#BEBEBE" />
<rect x="422.37" y="178.30" width="10.30" height="11.60" fill="#BEBEBE" />
<rect x="435.06" y="178.30" width="10.30" height="11.60" fill="#BEBEBE" />
<rect x="447.75" y="178.30" width="10.30" height="11.60" fill="#BEBEBE" />
<rect x="460.44" y="178.30" width="10.30" height="11.60" fill="#BEBEBE" />
<rect x="475.84" y="178.30" width="10.30" height="11.60" fill="#BEBEBE" />
<rect x="488.52" y="178.30" width="10.30" height="11.60" fill="#BEBEBE" />
<rect x="501.21" y="178.30" width="10.30" height="11.60" fill="#BEBEBE" />
<rect x="513.90" y="178.30" width="10.30" height="11.60" fill="#BEBEBE" />
<rect x="529.30" y="178.30" width="10.30" height="11.60" fill="#BEBEBE" />
<rect x="541.99" y="178.30" width="10.30" height="11.60" fill="#BEBEBE" />
<rect x="554.68" y="178.30" width="10.30" height="11.60" fill="#BEBEBE" />
<text x="69.80" y="200.30" font-size="9.2" text-anchor="end" fill="#231F20"  stroke="#231F20" stroke-width="0.15">KIF4B</text>
<text x="568.60" y="200.90" font-size="9.2" text-anchor="start" fill="#231F20"  stroke="#231F20" stroke-width="0.15">8%</text>
<rect x="73.50" y="192.63" width="10.30" height="11.60" fill="#BEBEBE" />
<rect x="86.19" y="192.63" width="10.30" height="11.60" fill="#BEBEBE" />
<rect x="98.87" y="192.63" width="10.30" height="11.60" fill="#BEBEBE" />
<rect x="111.56" y="192.63" width="10.30" height="11.60" fill="#BEBEBE" />
<rect x="126.96" y="192.63" width="10.30" height="11.60" fill="#BEBEBE" />
<rect x="139.65" y="192.63" width="10.30" height="11.60" fill="#BEBEBE" />
<rect x="152.34" y="192.63" width="10.30" height="11.60" fill="#BEBEBE" />
<rect x="165.03" y="192.63" width="10.30" height="11.60" fill="#BEBEBE" />
<rect x="180.43" y="192.63" width="10.30" height="11.60" fill="#BEBEBE" />
<rect x="193.11" y="192.63" width="10.30" height="11.60" fill="#BEBEBE" />
<rect x="205.80" y="192.63" width="10.30" height="11.60" fill="#BEBEBE" />
<rect x="218.49" y="192.63" width="10.30" height="11.60" fill="#BEBEBE" />
<rect x="233.89" y="192.63" width="10.30" height="11.60" fill="#BEBEBE" />
<rect x="246.58" y="192.63" width="10.30" height="11.60" fill="#BEBEBE" />
<rect x="259.27" y="192.63" width="10.30" height="11.60" fill="#BEBEBE" />
<rect x="271.95" y="192.63" width="10.30" height="11.60" fill="#BEBEBE" />
<rect x="287.36" y="192.63" width="10.30" height="11.60" fill="#BEBEBE" />
<rect x="299.69" y="192.23" width="11.00" height="12.40" fill="#B2191C" />
<rect x="312.73" y="192.63" width="10.30" height="11.60" fill="#BEBEBE" />
<rect x="328.13" y="192.63" width="10.30" height="11.60" fill="#BEBEBE" />
<rect x="340.82" y="192.63" width="10.30" height="11.60" fill="#BEBEBE" />
<rect x="353.51" y="192.63" width="10.30" height="11.60" fill="#BEBEBE" />
<rect x="365.84" y="192.23" width="11.00" height="12.40" fill="#B2191C" />
<rect x="381.60" y="192.63" width="10.30" height="11.60" fill="#BEBEBE" />
<rect x="394.28" y="192.63" width="10.30" height="11.60" fill="#BEBEBE" />
<rect x="406.97" y="192.63" width="10.30" height="11.60" fill="#BEBEBE" />
<rect x="422.37" y="192.63" width="10.30" height="11.60" fill="#BEBEBE" />
<rect x="435.06" y="192.63" width="10.30" height="11.60" fill="#BEBEBE" />
<rect x="447.75" y="192.63" width="10.30" height="11.60" fill="#BEBEBE" />
<rect x="460.44" y="192.63" width="10.30" height="11.60" fill="#BEBEBE" />
<rect x="475.84" y="192.63" width="10.30" height="11.60" fill="#BEBEBE" />
<rect x="488.52" y="192.63" width="10.30" height="11.60" fill="#BEBEBE" />
<rect x="501.21" y="192.63" width="10.30" height="11.60" fill="#BEBEBE" />
<rect x="513.90" y="192.63" width="10.30" height="11.60" fill="#BEBEBE" />
<rect x="515.50" y="194.53" width="7.10" height="7.80" fill="#EFEFEF" />
<circle cx="519.05" cy="198.43" r="1.9" fill="#000"/>
<rect x="529.30" y="192.63" width="10.30" height="11.60" fill="#BEBEBE" />
<rect x="541.99" y="192.63" width="10.30" height="11.60" fill="#BEBEBE" />
<rect x="554.68" y="192.63" width="10.30" height="11.60" fill="#BEBEBE" />
<text x="69.80" y="216.60" font-size="9.2" text-anchor="end" fill="#231F20"  stroke="#231F20" stroke-width="0.15">KLF4</text>
<text x="568.60" y="215.40" font-size="9.2" text-anchor="start" fill="#231F20"  stroke="#231F20" stroke-width="0.15">8%</text>
<rect x="73.50" y="206.96" width="10.30" height="11.60" fill="#BEBEBE" />
<rect x="86.19" y="206.96" width="10.30" height="11.60" fill="#BEBEBE" />
<rect x="98.87" y="206.96" width="10.30" height="11.60" fill="#BEBEBE" />
<rect x="111.56" y="206.96" width="10.30" height="11.60" fill="#BEBEBE" />
<rect x="126.96" y="206.96" width="10.30" height="11.60" fill="#BEBEBE" />
<rect x="139.65" y="206.96" width="10.30" height="11.60" fill="#BEBEBE" />
<rect x="152.34" y="206.96" width="10.30" height="11.60" fill="#BEBEBE" />
<rect x="165.03" y="206.96" width="10.30" height="11.60" fill="#BEBEBE" />
<rect x="180.43" y="206.96" width="10.30" height="11.60" fill="#BEBEBE" />
<rect x="193.11" y="206.96" width="10.30" height="11.60" fill="#BEBEBE" />
<rect x="205.80" y="206.96" width="10.30" height="11.60" fill="#BEBEBE" />
<rect x="218.49" y="206.96" width="10.30" height="11.60" fill="#BEBEBE" />
<rect x="233.89" y="206.96" width="10.30" height="11.60" fill="#BEBEBE" />
<rect x="246.58" y="206.96" width="10.30" height="11.60" fill="#BEBEBE" />
<rect x="259.27" y="206.96" width="10.30" height="11.60" fill="#BEBEBE" />
<rect x="271.60" y="206.56" width="11.00" height="12.40" fill="#B2191C" />
<rect x="287.36" y="206.96" width="10.30" height="11.60" fill="#BEBEBE" />
<rect x="300.04" y="206.96" width="10.30" height="11.60" fill="#BEBEBE" />
<rect x="312.73" y="206.96" width="10.30" height="11.60" fill="#BEBEBE" />
<rect x="328.13" y="206.96" width="10.30" height="11.60" fill="#BEBEBE" />
<rect x="340.82" y="206.96" width="10.30" height="11.60" fill="#BEBEBE" />
<rect x="353.51" y="206.96" width="10.30" height="11.60" fill="#BEBEBE" />
<rect x="366.19" y="206.96" width="10.30" height="11.60" fill="#BEBEBE" />
<rect x="381.60" y="206.96" width="10.30" height="11.60" fill="#BEBEBE" />
<rect x="394.28" y="206.96" width="10.30" height="11.60" fill="#BEBEBE" />
<rect x="406.97" y="206.96" width="10.30" height="11.60" fill="#BEBEBE" />
<rect x="422.37" y="206.96" width="10.30" height="11.60" fill="#BEBEBE" />
<rect x="434.71" y="206.56" width="11.00" height="12.40" fill="#B2191C" />
<rect x="447.40" y="206.56" width="11.00" height="12.40" fill="#B2191C" />
<rect x="460.44" y="206.96" width="10.30" height="11.60" fill="#BEBEBE" />
<rect x="475.84" y="206.96" width="10.30" height="11.60" fill="#BEBEBE" />
<rect x="488.52" y="206.96" width="10.30" height="11.60" fill="#BEBEBE" />
<rect x="501.21" y="206.96" width="10.30" height="11.60" fill="#BEBEBE" />
<rect x="513.90" y="206.96" width="10.30" height="11.60" fill="#BEBEBE" />
<rect x="529.30" y="206.96" width="10.30" height="11.60" fill="#BEBEBE" />
<rect x="541.99" y="206.96" width="10.30" height="11.60" fill="#BEBEBE" />
<rect x="554.68" y="206.96" width="10.30" height="11.60" fill="#BEBEBE" />
<text x="69.80" y="229.00" font-size="9.2" text-anchor="end" fill="#231F20"  stroke="#231F20" stroke-width="0.15">KRT4</text>
<text x="568.60" y="229.60" font-size="9.2" text-anchor="start" fill="#231F20"  stroke="#231F20" stroke-width="0.15">8%</text>
<rect x="73.50" y="221.29" width="10.30" height="11.60" fill="#BEBEBE" />
<rect x="86.19" y="221.29" width="10.30" height="11.60" fill="#BEBEBE" />
<rect x="98.87" y="221.29" width="10.30" height="11.60" fill="#BEBEBE" />
<rect x="111.56" y="221.29" width="10.30" height="11.60" fill="#BEBEBE" />
<rect x="126.96" y="221.29" width="10.30" height="11.60" fill="#BEBEBE" />
<rect x="139.65" y="221.29" width="10.30" height="11.60" fill="#BEBEBE" />
<rect x="152.34" y="221.29" width="10.30" height="11.60" fill="#BEBEBE" />
<rect x="165.03" y="221.29" width="10.30" height="11.60" fill="#BEBEBE" />
<rect x="180.43" y="221.29" width="10.30" height="11.60" fill="#BEBEBE" />
<rect x="193.11" y="221.29" width="10.30" height="11.60" fill="#BEBEBE" />
<rect x="205.80" y="221.29" width="10.30" height="11.60" fill="#BEBEBE" />
<rect x="218.49" y="221.29" width="10.30" height="11.60" fill="#BEBEBE" />
<rect x="233.89" y="221.29" width="10.30" height="11.60" fill="#BEBEBE" />
<rect x="246.58" y="221.29" width="10.30" height="11.60" fill="#BEBEBE" />
<rect x="259.27" y="221.29" width="10.30" height="11.60" fill="#BEBEBE" />
<rect x="271.95" y="221.29" width="10.30" height="11.60" fill="#BEBEBE" />
<rect x="287.36" y="221.29" width="10.30" height="11.60" fill="#BEBEBE" />
<rect x="300.04" y="221.29" width="10.30" height="11.60" fill="#BEBEBE" />
<rect x="312.73" y="221.29" width="10.30" height="11.60" fill="#BEBEBE" />
<rect x="328.13" y="221.29" width="10.30" height="11.60" fill="#BEBEBE" />
<rect x="340.82" y="221.29" width="10.30" height="11.60" fill="#BEBEBE" />
<ellipse cx="345.97" cy="227.39" rx="1.75" ry="2.0" fill="#1A1A1A"/>
<rect x="353.51" y="221.29" width="10.30" height="11.60" fill="#BEBEBE" />
<ellipse cx="358.66" cy="227.39" rx="1.75" ry="2.0" fill="#1A1A1A"/>
<rect x="366.19" y="221.29" width="10.30" height="11.60" fill="#BEBEBE" />
<ellipse cx="371.34" cy="227.39" rx="1.75" ry="2.0" fill="#1A1A1A"/>
<rect x="381.60" y="221.29" width="10.30" height="11.60" fill="#BEBEBE" />
<rect x="394.28" y="221.29" width="10.30" height="11.60" fill="#BEBEBE" />
<rect x="406.97" y="221.29" width="10.30" height="11.60" fill="#BEBEBE" />
<rect x="422.37" y="221.29" width="10.30" height="11.60" fill="#BEBEBE" />
<rect x="435.06" y="221.29" width="10.30" height="11.60" fill="#BEBEBE" />
<rect x="447.75" y="221.29" width="10.30" height="11.60" fill="#BEBEBE" />
<rect x="460.44" y="221.29" width="10.30" height="11.60" fill="#BEBEBE" />
<rect x="475.84" y="221.29" width="10.30" height="11.60" fill="#BEBEBE" />
<rect x="488.52" y="221.29" width="10.30" height="11.60" fill="#BEBEBE" />
<rect x="501.21" y="221.29" width="10.30" height="11.60" fill="#BEBEBE" />
<rect x="513.90" y="221.29" width="10.30" height="11.60" fill="#BEBEBE" />
<rect x="529.30" y="221.29" width="10.30" height="11.60" fill="#BEBEBE" />
<rect x="541.99" y="221.29" width="10.30" height="11.60" fill="#BEBEBE" />
<rect x="554.68" y="221.29" width="10.30" height="11.60" fill="#BEBEBE" />
<text x="69.80" y="244.30" font-size="9.2" text-anchor="end" fill="#231F20"  stroke="#231F20" stroke-width="0.15">LGR5</text>
<text x="568.60" y="244.10" font-size="9.2" text-anchor="start" fill="#231F20"  stroke="#231F20" stroke-width="0.15">8%</text>
<rect x="73.50" y="235.62" width="10.30" height="11.60" fill="#BEBEBE" />
<rect x="86.19" y="235.62" width="10.30" height="11.60" fill="#BEBEBE" />
<rect x="98.87" y="235.62" width="10.30" height="11.60" fill="#BEBEBE" />
<rect x="111.56" y="235.62" width="10.30" height="11.60" fill="#BEBEBE" />
<rect x="126.96" y="235.62" width="10.30" height="11.60" fill="#BEBEBE" />
<rect x="139.65" y="235.62" width="10.30" height="11.60" fill="#BEBEBE" />
<rect x="152.34" y="235.62" width="10.30" height="11.60" fill="#BEBEBE" />
<rect x="165.03" y="235.62" width="10.30" height="11.60" fill="#BEBEBE" />
<rect x="180.43" y="235.62" width="10.30" height="11.60" fill="#BEBEBE" />
<rect x="193.11" y="235.62" width="10.30" height="11.60" fill="#BEBEBE" />
<rect x="205.80" y="235.62" width="10.30" height="11.60" fill="#BEBEBE" />
<rect x="218.49" y="235.62" width="10.30" height="11.60" fill="#BEBEBE" />
<rect x="233.89" y="235.62" width="10.30" height="11.60" fill="#BEBEBE" />
<rect x="246.58" y="235.62" width="10.30" height="11.60" fill="#BEBEBE" />
<rect x="258.92" y="235.22" width="11.00" height="12.40" fill="#B2191C" />
<rect x="271.95" y="235.62" width="10.30" height="11.60" fill="#BEBEBE" />
<rect x="287.36" y="235.62" width="10.30" height="11.60" fill="#BEBEBE" />
<rect x="300.04" y="235.62" width="10.30" height="11.60" fill="#BEBEBE" />
<rect x="312.73" y="235.62" width="10.30" height="11.60" fill="#BEBEBE" />
<rect x="328.13" y="235.62" width="10.30" height="11.60" fill="#BEBEBE" />
<rect x="340.82" y="235.62" width="10.30" height="11.60" fill="#BEBEBE" />
<rect x="353.51" y="235.62" width="10.30" height="11.60" fill="#BEBEBE" />
<rect x="366.19" y="235.62" width="10.30" height="11.60" fill="#BEBEBE" />
<rect x="381.60" y="235.62" width="10.30" height="11.60" fill="#BEBEBE" />
<rect x="394.28" y="235.62" width="10.30" height="11.60" fill="#BEBEBE" />
<rect x="406.97" y="235.62" width="10.30" height="11.60" fill="#BEBEBE" />
<rect x="422.37" y="235.62" width="10.30" height="11.60" fill="#BEBEBE" />
<rect x="435.06" y="235.62" width="10.30" height="11.60" fill="#BEBEBE" />
<rect x="447.75" y="235.62" width="10.30" height="11.60" fill="#BEBEBE" />
<rect x="460.44" y="235.62" width="10.30" height="11.60" fill="#BEBEBE" />
<rect x="475.84" y="235.62" width="10.30" height="11.60" fill="#BEBEBE" />
<rect x="488.52" y="235.62" width="10.30" height="11.60" fill="#BEBEBE" />
<rect x="501.21" y="235.62" width="10.30" height="11.60" fill="#BEBEBE" />
<rect x="513.90" y="235.62" width="10.30" height="11.60" fill="#BEBEBE" />
<rect x="529.30" y="235.62" width="10.30" height="11.60" fill="#BEBEBE" />
<rect x="541.99" y="235.62" width="10.30" height="11.60" fill="#BEBEBE" />
<rect x="541.99" y="239.45" width="10.30" height="4.18" fill="#2B6E30" />
<rect x="554.68" y="235.62" width="10.30" height="11.60" fill="#BEBEBE" />
<rect x="554.68" y="239.45" width="10.30" height="4.18" fill="#2B6E30" />
<text x="69.80" y="258.80" font-size="9.2" text-anchor="end" fill="#231F20"  stroke="#231F20" stroke-width="0.15">MGAM</text>
<text x="568.60" y="258.40" font-size="9.2" text-anchor="start" fill="#231F20"  stroke="#231F20" stroke-width="0.15">8%</text>
<rect x="73.50" y="249.95" width="10.30" height="11.60" fill="#BEBEBE" />
<rect x="86.19" y="249.95" width="10.30" height="11.60" fill="#BEBEBE" />
<rect x="98.87" y="249.95" width="10.30" height="11.60" fill="#BEBEBE" />
<rect x="111.56" y="249.95" width="10.30" height="11.60" fill="#BEBEBE" />
<rect x="126.96" y="249.95" width="10.30" height="11.60" fill="#BEBEBE" />
<rect x="139.65" y="249.95" width="10.30" height="11.60" fill="#BEBEBE" />
<rect x="152.34" y="249.95" width="10.30" height="11.60" fill="#BEBEBE" />
<rect x="165.03" y="249.95" width="10.30" height="11.60" fill="#BEBEBE" />
<rect x="180.43" y="249.95" width="10.30" height="11.60" fill="#BEBEBE" />
<rect x="193.11" y="249.95" width="10.30" height="11.60" fill="#BEBEBE" />
<rect x="205.80" y="249.95" width="10.30" height="11.60" fill="#BEBEBE" />
<rect x="218.49" y="249.95" width="10.30" height="11.60" fill="#BEBEBE" />
<rect x="233.89" y="249.95" width="10.30" height="11.60" fill="#BEBEBE" />
<rect x="246.58" y="249.95" width="10.30" height="11.60" fill="#BEBEBE" />
<rect x="258.92" y="249.55" width="11.00" height="12.40" fill="#B2191C" />
<rect x="271.95" y="249.95" width="10.30" height="11.60" fill="#BEBEBE" />
<rect x="287.36" y="249.95" width="10.30" height="11.60" fill="#BEBEBE" />
<rect x="300.04" y="249.95" width="10.30" height="11.60" fill="#BEBEBE" />
<rect x="312.73" y="249.95" width="10.30" height="11.60" fill="#BEBEBE" />
<rect x="328.13" y="249.95" width="10.30" height="11.60" fill="#BEBEBE" />
<rect x="340.82" y="249.95" width="10.30" height="11.60" fill="#BEBEBE" />
<rect x="353.51" y="249.95" width="10.30" height="11.60" fill="#BEBEBE" />
<rect x="366.19" y="249.95" width="10.30" height="11.60" fill="#BEBEBE" />
<rect x="381.60" y="249.95" width="10.30" height="11.60" fill="#BEBEBE" />
<rect x="394.28" y="249.95" width="10.30" height="11.60" fill="#BEBEBE" />
<rect x="406.97" y="249.95" width="10.30" height="11.60" fill="#BEBEBE" />
<rect x="422.37" y="249.95" width="10.30" height="11.60" fill="#BEBEBE" />
<rect x="434.71" y="249.55" width="11.00" height="12.40" fill="#B2191C" />
<rect x="447.40" y="249.55" width="11.00" height="12.40" fill="#B2191C" />
<rect x="460.44" y="249.95" width="10.30" height="11.60" fill="#BEBEBE" />
<rect x="475.84" y="249.95" width="10.30" height="11.60" fill="#BEBEBE" />
<rect x="488.52" y="249.95" width="10.30" height="11.60" fill="#BEBEBE" />
<rect x="501.21" y="249.95" width="10.30" height="11.60" fill="#BEBEBE" />
<rect x="513.90" y="249.95" width="10.30" height="11.60" fill="#BEBEBE" />
<rect x="529.30" y="249.95" width="10.30" height="11.60" fill="#BEBEBE" />
<rect x="541.99" y="249.95" width="10.30" height="11.60" fill="#BEBEBE" />
<rect x="554.68" y="249.95" width="10.30" height="11.60" fill="#BEBEBE" />
<text x="69.80" y="272.00" font-size="9.2" text-anchor="end" fill="#231F20"  stroke="#231F20" stroke-width="0.15">MUC2</text>
<text x="568.60" y="272.70" font-size="9.2" text-anchor="start" fill="#231F20"  stroke="#231F20" stroke-width="0.15">8%</text>
<rect x="73.50" y="264.28" width="10.30" height="11.60" fill="#BEBEBE" />
<rect x="86.19" y="264.28" width="10.30" height="11.60" fill="#BEBEBE" />
<rect x="98.87" y="264.28" width="10.30" height="11.60" fill="#BEBEBE" />
<rect x="111.56" y="264.28" width="10.30" height="11.60" fill="#BEBEBE" />
<rect x="126.96" y="264.28" width="10.30" height="11.60" fill="#BEBEBE" />
<rect x="139.65" y="264.28" width="10.30" height="11.60" fill="#BEBEBE" />
<rect x="152.34" y="264.28" width="10.30" height="11.60" fill="#BEBEBE" />
<rect x="165.03" y="264.28" width="10.30" height="11.60" fill="#BEBEBE" />
<rect x="180.43" y="264.28" width="10.30" height="11.60" fill="#BEBEBE" />
<rect x="193.11" y="264.28" width="10.30" height="11.60" fill="#BEBEBE" />
<rect x="205.80" y="264.28" width="10.30" height="11.60" fill="#BEBEBE" />
<rect x="218.49" y="264.28" width="10.30" height="11.60" fill="#BEBEBE" />
<rect x="233.89" y="264.28" width="10.30" height="11.60" fill="#BEBEBE" />
<rect x="246.58" y="264.28" width="10.30" height="11.60" fill="#BEBEBE" />
<rect x="258.92" y="263.88" width="11.00" height="12.40" fill="#B2191C" />
<rect x="271.95" y="264.28" width="10.30" height="11.60" fill="#BEBEBE" />
<rect x="287.36" y="264.28" width="10.30" height="11.60" fill="#BEBEBE" />
<rect x="300.04" y="264.28" width="10.30" height="11.60" fill="#BEBEBE" />
<rect x="312.73" y="264.28" width="10.30" height="11.60" fill="#BEBEBE" />
<rect x="328.13" y="264.28" width="10.30" height="11.60" fill="#BEBEBE" />
<rect x="340.82" y="264.28" width="10.30" height="11.60" fill="#BEBEBE" />
<rect x="353.51" y="264.28" width="10.30" height="11.60" fill="#BEBEBE" />
<rect x="366.19" y="264.28" width="10.30" height="11.60" fill="#BEBEBE" />
<rect x="381.60" y="264.28" width="10.30" height="11.60" fill="#BEBEBE" />
<rect x="394.28" y="264.28" width="10.30" height="11.60" fill="#BEBEBE" />
<rect x="406.97" y="264.28" width="10.30" height="11.60" fill="#BEBEBE" />
<rect x="422.37" y="264.28" width="10.30" height="11.60" fill="#BEBEBE" />
<rect x="435.06" y="264.28" width="10.30" height="11.60" fill="#BEBEBE" />
<rect x="447.75" y="264.28" width="10.30" height="11.60" fill="#BEBEBE" />
<rect x="460.44" y="264.28" width="10.30" height="11.60" fill="#BEBEBE" />
<rect x="475.49" y="263.88" width="11.00" height="12.40" fill="#B2191C" />
<rect x="488.52" y="264.28" width="10.30" height="11.60" fill="#BEBEBE" />
<rect x="500.86" y="263.88" width="11.00" height="12.40" fill="#B2191C" />
<rect x="513.90" y="264.28" width="10.30" height="11.60" fill="#BEBEBE" />
<rect x="529.30" y="264.28" width="10.30" height="11.60" fill="#BEBEBE" />
<rect x="541.99" y="264.28" width="10.30" height="11.60" fill="#BEBEBE" />
<rect x="554.68" y="264.28" width="10.30" height="11.60" fill="#BEBEBE" />
<text x="69.80" y="286.80" font-size="9.2" text-anchor="end" fill="#231F20"  stroke="#231F20" stroke-width="0.15">NPIPB15</text>
<text x="568.60" y="287.00" font-size="9.2" text-anchor="start" fill="#231F20"  stroke="#231F20" stroke-width="0.15">8%</text>
<rect x="73.50" y="278.61" width="10.30" height="11.60" fill="#BEBEBE" />
<rect x="86.19" y="278.61" width="10.30" height="11.60" fill="#BEBEBE" />
<rect x="98.87" y="278.61" width="10.30" height="11.60" fill="#BEBEBE" />
<rect x="111.56" y="278.61" width="10.30" height="11.60" fill="#BEBEBE" />
<rect x="126.96" y="278.61" width="10.30" height="11.60" fill="#BEBEBE" />
<rect x="139.65" y="278.61" width="10.30" height="11.60" fill="#BEBEBE" />
<rect x="152.34" y="278.61" width="10.30" height="11.60" fill="#BEBEBE" />
<rect x="165.03" y="278.61" width="10.30" height="11.60" fill="#BEBEBE" />
<rect x="180.43" y="278.61" width="10.30" height="11.60" fill="#BEBEBE" />
<rect x="193.11" y="278.61" width="10.30" height="11.60" fill="#BEBEBE" />
<rect x="205.80" y="278.61" width="10.30" height="11.60" fill="#BEBEBE" />
<rect x="218.49" y="278.61" width="10.30" height="11.60" fill="#BEBEBE" />
<rect x="233.54" y="278.21" width="11.00" height="12.40" fill="#B2191C" />
<rect x="246.23" y="278.21" width="11.00" height="12.40" fill="#B2191C" />
<rect x="258.92" y="278.21" width="11.00" height="12.40" fill="#B2191C" />
<rect x="271.95" y="278.61" width="10.30" height="11.60" fill="#BEBEBE" />
<rect x="287.36" y="278.61" width="10.30" height="11.60" fill="#BEBEBE" />
<rect x="300.04" y="278.61" width="10.30" height="11.60" fill="#BEBEBE" />
<rect x="312.73" y="278.61" width="10.30" height="11.60" fill="#BEBEBE" />
<rect x="328.13" y="278.61" width="10.30" height="11.60" fill="#BEBEBE" />
<rect x="340.82" y="278.61" width="10.30" height="11.60" fill="#BEBEBE" />
<rect x="353.51" y="278.61" width="10.30" height="11.60" fill="#BEBEBE" />
<rect x="366.19" y="278.61" width="10.30" height="11.60" fill="#BEBEBE" />
<rect x="381.60" y="278.61" width="10.30" height="11.60" fill="#BEBEBE" />
<rect x="394.28" y="278.61" width="10.30" height="11.60" fill="#BEBEBE" />
<rect x="406.97" y="278.61" width="10.30" height="11.60" fill="#BEBEBE" />
<rect x="422.37" y="278.61" width="10.30" height="11.60" fill="#BEBEBE" />
<rect x="435.06" y="278.61" width="10.30" height="11.60" fill="#BEBEBE" />
<rect x="447.75" y="278.61" width="10.30" height="11.60" fill="#BEBEBE" />
<rect x="460.44" y="278.61" width="10.30" height="11.60" fill="#BEBEBE" />
<rect x="475.84" y="278.61" width="10.30" height="11.60" fill="#BEBEBE" />
<rect x="488.52" y="278.61" width="10.30" height="11.60" fill="#BEBEBE" />
<rect x="501.21" y="278.61" width="10.30" height="11.60" fill="#BEBEBE" />
<rect x="513.90" y="278.61" width="10.30" height="11.60" fill="#BEBEBE" />
<rect x="529.30" y="278.61" width="10.30" height="11.60" fill="#BEBEBE" />
<rect x="541.99" y="278.61" width="10.30" height="11.60" fill="#BEBEBE" />
<rect x="554.68" y="278.61" width="10.30" height="11.60" fill="#BEBEBE" />
<text x="69.80" y="301.60" font-size="9.2" text-anchor="end" fill="#231F20"  stroke="#231F20" stroke-width="0.15">NRCAM</text>
<text x="568.60" y="301.60" font-size="9.2" text-anchor="start" fill="#231F20"  stroke="#231F20" stroke-width="0.15">8%</text>
<rect x="73.50" y="292.94" width="10.30" height="11.60" fill="#BEBEBE" />
<rect x="86.19" y="292.94" width="10.30" height="11.60" fill="#BEBEBE" />
<rect x="98.87" y="292.94" width="10.30" height="11.60" fill="#BEBEBE" />
<rect x="111.56" y="292.94" width="10.30" height="11.60" fill="#BEBEBE" />
<rect x="126.96" y="292.94" width="10.30" height="11.60" fill="#BEBEBE" />
<rect x="139.65" y="292.94" width="10.30" height="11.60" fill="#BEBEBE" />
<rect x="152.34" y="292.94" width="10.30" height="11.60" fill="#BEBEBE" />
<rect x="165.03" y="292.94" width="10.30" height="11.60" fill="#BEBEBE" />
<rect x="180.43" y="292.94" width="10.30" height="11.60" fill="#BEBEBE" />
<rect x="193.11" y="292.94" width="10.30" height="11.60" fill="#BEBEBE" />
<rect x="205.80" y="292.94" width="10.30" height="11.60" fill="#BEBEBE" />
<rect x="218.49" y="292.94" width="10.30" height="11.60" fill="#BEBEBE" />
<rect x="233.89" y="292.94" width="10.30" height="11.60" fill="#BEBEBE" />
<rect x="246.58" y="292.94" width="10.30" height="11.60" fill="#BEBEBE" />
<rect x="258.92" y="292.54" width="11.00" height="12.40" fill="#B2191C" />
<rect x="271.95" y="292.94" width="10.30" height="11.60" fill="#BEBEBE" />
<rect x="287.36" y="292.94" width="10.30" height="11.60" fill="#BEBEBE" />
<rect x="300.04" y="292.94" width="10.30" height="11.60" fill="#BEBEBE" />
<rect x="312.73" y="292.94" width="10.30" height="11.60" fill="#BEBEBE" />
<rect x="328.13" y="292.94" width="10.30" height="11.60" fill="#BEBEBE" />
<rect x="340.82" y="292.94" width="10.30" height="11.60" fill="#BEBEBE" />
<rect x="353.51" y="292.94" width="10.30" height="11.60" fill="#BEBEBE" />
<rect x="366.19" y="292.94" width="10.30" height="11.60" fill="#BEBEBE" />
<rect x="381.60" y="292.94" width="10.30" height="11.60" fill="#BEBEBE" />
<rect x="394.28" y="292.94" width="10.30" height="11.60" fill="#BEBEBE" />
<rect x="406.97" y="292.94" width="10.30" height="11.60" fill="#BEBEBE" />
<rect x="422.37" y="292.94" width="10.30" height="11.60" fill="#BEBEBE" />
<rect x="435.06" y="292.94" width="10.30" height="11.60" fill="#BEBEBE" />
<rect x="447.75" y="292.94" width="10.30" height="11.60" fill="#BEBEBE" />
<rect x="460.44" y="292.94" width="10.30" height="11.60" fill="#BEBEBE" />
<rect x="475.84" y="292.94" width="10.30" height="11.60" fill="#BEBEBE" />
<rect x="488.52" y="292.94" width="10.30" height="11.60" fill="#BEBEBE" />
<rect x="501.21" y="292.94" width="10.30" height="11.60" fill="#BEBEBE" />
<rect x="513.90" y="292.94" width="10.30" height="11.60" fill="#BEBEBE" />
<rect x="529.30" y="292.94" width="10.30" height="11.60" fill="#BEBEBE" />
<rect x="541.64" y="292.54" width="11.00" height="12.40" fill="#B2191C" />
<rect x="554.33" y="292.54" width="11.00" height="12.40" fill="#B2191C" />
<text x="69.80" y="316.30" font-size="9.2" text-anchor="end" fill="#231F20"  stroke="#231F20" stroke-width="0.15">PDE1B</text>
<text x="568.60" y="316.00" font-size="9.2" text-anchor="start" fill="#231F20"  stroke="#231F20" stroke-width="0.15">8%</text>
<rect x="73.15" y="306.87" width="11.00" height="12.40" fill="#B2191C" />
<rect x="85.84" y="306.87" width="11.00" height="12.40" fill="#B2191C" />
<rect x="98.87" y="307.27" width="10.30" height="11.60" fill="#BEBEBE" />
<rect x="111.21" y="306.87" width="11.00" height="12.40" fill="#B2191C" />
<rect x="126.96" y="307.27" width="10.30" height="11.60" fill="#BEBEBE" />
<rect x="139.65" y="307.27" width="10.30" height="11.60" fill="#BEBEBE" />
<rect x="152.34" y="307.27" width="10.30" height="11.60" fill="#BEBEBE" />
<rect x="165.03" y="307.27" width="10.30" height="11.60" fill="#BEBEBE" />
<rect x="180.43" y="307.27" width="10.30" height="11.60" fill="#BEBEBE" />
<rect x="193.11" y="307.27" width="10.30" height="11.60" fill="#BEBEBE" />
<rect x="205.80" y="307.27" width="10.30" height="11.60" fill="#BEBEBE" />
<rect x="218.49" y="307.27" width="10.30" height="11.60" fill="#BEBEBE" />
<rect x="233.89" y="307.27" width="10.30" height="11.60" fill="#BEBEBE" />
<rect x="246.58" y="307.27" width="10.30" height="11.60" fill="#BEBEBE" />
<rect x="259.27" y="307.27" width="10.30" height="11.60" fill="#BEBEBE" />
<rect x="271.95" y="307.27" width="10.30" height="11.60" fill="#BEBEBE" />
<rect x="287.36" y="307.27" width="10.30" height="11.60" fill="#BEBEBE" />
<rect x="300.04" y="307.27" width="10.30" height="11.60" fill="#BEBEBE" />
<rect x="312.73" y="307.27" width="10.30" height="11.60" fill="#BEBEBE" />
<rect x="328.13" y="307.27" width="10.30" height="11.60" fill="#BEBEBE" />
<rect x="340.82" y="307.27" width="10.30" height="11.60" fill="#BEBEBE" />
<rect x="353.51" y="307.27" width="10.30" height="11.60" fill="#BEBEBE" />
<rect x="366.19" y="307.27" width="10.30" height="11.60" fill="#BEBEBE" />
<rect x="381.60" y="307.27" width="10.30" height="11.60" fill="#BEBEBE" />
<rect x="394.28" y="307.27" width="10.30" height="11.60" fill="#BEBEBE" />
<rect x="406.97" y="307.27" width="10.30" height="11.60" fill="#BEBEBE" />
<rect x="422.37" y="307.27" width="10.30" height="11.60" fill="#BEBEBE" />
<rect x="435.06" y="307.27" width="10.30" height="11.60" fill="#BEBEBE" />
<rect x="447.75" y="307.27" width="10.30" height="11.60" fill="#BEBEBE" />
<rect x="460.44" y="307.27" width="10.30" height="11.60" fill="#BEBEBE" />
<rect x="475.84" y="307.27" width="10.30" height="11.60" fill="#BEBEBE" />
<rect x="488.52" y="307.27" width="10.30" height="11.60" fill="#BEBEBE" />
<rect x="501.21" y="307.27" width="10.30" height="11.60" fill="#BEBEBE" />
<rect x="513.90" y="307.27" width="10.30" height="11.60" fill="#BEBEBE" />
<rect x="529.30" y="307.27" width="10.30" height="11.60" fill="#BEBEBE" />
<rect x="541.99" y="307.27" width="10.30" height="11.60" fill="#BEBEBE" />
<rect x="554.68" y="307.27" width="10.30" height="11.60" fill="#BEBEBE" />
<text x="69.80" y="329.90" font-size="9.2" text-anchor="end" fill="#231F20"  stroke="#231F20" stroke-width="0.15">RLIM</text>
<text x="568.60" y="330.30" font-size="9.2" text-anchor="start" fill="#231F20"  stroke="#231F20" stroke-width="0.15">8%</text>
<rect x="73.50" y="321.60" width="10.30" height="11.60" fill="#BEBEBE" />
<rect x="86.19" y="321.60" width="10.30" height="11.60" fill="#BEBEBE" />
<rect x="98.87" y="321.60" width="10.30" height="11.60" fill="#BEBEBE" />
<rect x="111.56" y="321.60" width="10.30" height="11.60" fill="#BEBEBE" />
<rect x="126.96" y="321.60" width="10.30" height="11.60" fill="#BEBEBE" />
<rect x="139.65" y="321.60" width="10.30" height="11.60" fill="#BEBEBE" />
<rect x="152.34" y="321.60" width="10.30" height="11.60" fill="#BEBEBE" />
<rect x="165.03" y="321.60" width="10.30" height="11.60" fill="#BEBEBE" />
<rect x="180.43" y="321.60" width="10.30" height="11.60" fill="#BEBEBE" />
<rect x="193.11" y="321.60" width="10.30" height="11.60" fill="#BEBEBE" />
<rect x="205.80" y="321.60" width="10.30" height="11.60" fill="#BEBEBE" />
<rect x="218.49" y="321.60" width="10.30" height="11.60" fill="#BEBEBE" />
<rect x="233.89" y="321.60" width="10.30" height="11.60" fill="#BEBEBE" />
<rect x="246.58" y="321.60" width="10.30" height="11.60" fill="#BEBEBE" />
<rect x="259.27" y="321.60" width="10.30" height="11.60" fill="#BEBEBE" />
<rect x="271.95" y="321.60" width="10.30" height="11.60" fill="#BEBEBE" />
<rect x="287.36" y="321.60" width="10.30" height="11.60" fill="#BEBEBE" />
<rect x="300.04" y="321.60" width="10.30" height="11.60" fill="#BEBEBE" />
<rect x="312.73" y="321.60" width="10.30" height="11.60" fill="#BEBEBE" />
<rect x="328.13" y="321.60" width="10.30" height="11.60" fill="#BEBEBE" />
<rect x="340.82" y="321.60" width="10.30" height="11.60" fill="#BEBEBE" />
<rect x="353.51" y="321.60" width="10.30" height="11.60" fill="#BEBEBE" />
<rect x="366.19" y="321.60" width="10.30" height="11.60" fill="#BEBEBE" />
<rect x="381.60" y="321.60" width="10.30" height="11.60" fill="#BEBEBE" />
<rect x="394.28" y="321.60" width="10.30" height="11.60" fill="#BEBEBE" />
<rect x="406.97" y="321.60" width="10.30" height="11.60" fill="#BEBEBE" />
<rect x="422.37" y="321.60" width="10.30" height="11.60" fill="#BEBEBE" />
<rect x="435.06" y="321.60" width="10.30" height="11.60" fill="#BEBEBE" />
<rect x="447.75" y="321.60" width="10.30" height="11.60" fill="#BEBEBE" />
<rect x="460.44" y="321.60" width="10.30" height="11.60" fill="#BEBEBE" />
<rect x="475.84" y="321.60" width="10.30" height="11.60" fill="#BEBEBE" />
<rect x="488.52" y="321.60" width="10.30" height="11.60" fill="#BEBEBE" />
<rect x="501.21" y="321.60" width="10.30" height="11.60" fill="#BEBEBE" />
<rect x="513.90" y="321.60" width="10.30" height="11.60" fill="#BEBEBE" />
<rect x="528.95" y="321.20" width="11.00" height="12.40" fill="#B2191C" />
<rect x="541.64" y="321.20" width="11.00" height="12.40" fill="#B2191C" />
<rect x="554.33" y="321.20" width="11.00" height="12.40" fill="#B2191C" />
<text x="69.80" y="343.70" font-size="9.2" text-anchor="end" fill="#231F20"  stroke="#231F20" stroke-width="0.15">TAF1L</text>
<text x="568.60" y="344.50" font-size="9.2" text-anchor="start" fill="#231F20"  stroke="#231F20" stroke-width="0.15">8%</text>
<rect x="73.50" y="335.93" width="10.30" height="11.60" fill="#BEBEBE" />
<rect x="86.19" y="335.93" width="10.30" height="11.60" fill="#BEBEBE" />
<rect x="98.87" y="335.93" width="10.30" height="11.60" fill="#BEBEBE" />
<rect x="111.21" y="335.53" width="11.00" height="12.40" fill="#B2191C" />
<rect x="126.96" y="335.93" width="10.30" height="11.60" fill="#BEBEBE" />
<rect x="139.65" y="335.93" width="10.30" height="11.60" fill="#BEBEBE" />
<rect x="152.34" y="335.93" width="10.30" height="11.60" fill="#BEBEBE" />
<rect x="165.03" y="335.93" width="10.30" height="11.60" fill="#BEBEBE" />
<rect x="180.43" y="335.93" width="10.30" height="11.60" fill="#BEBEBE" />
<rect x="193.11" y="335.93" width="10.30" height="11.60" fill="#BEBEBE" />
<rect x="205.80" y="335.93" width="10.30" height="11.60" fill="#BEBEBE" />
<rect x="218.49" y="335.93" width="10.30" height="11.60" fill="#BEBEBE" />
<rect x="233.89" y="335.93" width="10.30" height="11.60" fill="#BEBEBE" />
<rect x="246.58" y="335.93" width="10.30" height="11.60" fill="#BEBEBE" />
<rect x="259.27" y="335.93" width="10.30" height="11.60" fill="#BEBEBE" />
<rect x="271.60" y="335.53" width="11.00" height="12.40" fill="#B2191C" />
<rect x="287.36" y="335.93" width="10.30" height="11.60" fill="#BEBEBE" />
<rect x="300.04" y="335.93" width="10.30" height="11.60" fill="#BEBEBE" />
<rect x="312.73" y="335.93" width="10.30" height="11.60" fill="#BEBEBE" />
<rect x="328.13" y="335.93" width="10.30" height="11.60" fill="#BEBEBE" />
<rect x="340.82" y="335.93" width="10.30" height="11.60" fill="#BEBEBE" />
<rect x="353.51" y="335.93" width="10.30" height="11.60" fill="#BEBEBE" />
<rect x="366.19" y="335.93" width="10.30" height="11.60" fill="#BEBEBE" />
<rect x="381.60" y="335.93" width="10.30" height="11.60" fill="#BEBEBE" />
<rect x="394.28" y="335.93" width="10.30" height="11.60" fill="#BEBEBE" />
<rect x="406.97" y="335.93" width="10.30" height="11.60" fill="#BEBEBE" />
<rect x="422.37" y="335.93" width="10.30" height="11.60" fill="#BEBEBE" />
<rect x="435.06" y="335.93" width="10.30" height="11.60" fill="#BEBEBE" />
<rect x="447.75" y="335.93" width="10.30" height="11.60" fill="#BEBEBE" />
<rect x="460.44" y="335.93" width="10.30" height="11.60" fill="#BEBEBE" />
<rect x="475.84" y="335.93" width="10.30" height="11.60" fill="#BEBEBE" />
<rect x="488.52" y="335.93" width="10.30" height="11.60" fill="#BEBEBE" />
<rect x="501.21" y="335.93" width="10.30" height="11.60" fill="#BEBEBE" />
<rect x="513.90" y="335.93" width="10.30" height="11.60" fill="#BEBEBE" />
<rect x="529.30" y="335.93" width="10.30" height="11.60" fill="#BEBEBE" />
<rect x="541.99" y="335.93" width="10.30" height="11.60" fill="#BEBEBE" />
<rect x="554.33" y="335.53" width="11.00" height="12.40" fill="#B2191C" />
<text x="69.80" y="356.90" font-size="9.2" text-anchor="end" fill="#231F20"  stroke="#231F20" stroke-width="0.15">TMEM131</text>
<text x="568.60" y="358.70" font-size="9.2" text-anchor="start" fill="#231F20"  stroke="#231F20" stroke-width="0.15">8%</text>
<rect x="73.50" y="350.26" width="10.30" height="11.60" fill="#BEBEBE" />
<rect x="86.19" y="350.26" width="10.30" height="11.60" fill="#BEBEBE" />
<rect x="98.87" y="350.26" width="10.30" height="11.60" fill="#BEBEBE" />
<rect x="111.56" y="350.26" width="10.30" height="11.60" fill="#BEBEBE" />
<rect x="126.96" y="350.26" width="10.30" height="11.60" fill="#BEBEBE" />
<rect x="139.65" y="350.26" width="10.30" height="11.60" fill="#BEBEBE" />
<rect x="152.34" y="350.26" width="10.30" height="11.60" fill="#BEBEBE" />
<rect x="165.03" y="350.26" width="10.30" height="11.60" fill="#BEBEBE" />
<rect x="180.08" y="349.86" width="11.00" height="12.40" fill="#B2191C" />
<rect x="193.11" y="350.26" width="10.30" height="11.60" fill="#BEBEBE" />
<rect x="205.80" y="350.26" width="10.30" height="11.60" fill="#BEBEBE" />
<rect x="218.49" y="350.26" width="10.30" height="11.60" fill="#BEBEBE" />
<rect x="233.89" y="350.26" width="10.30" height="11.60" fill="#BEBEBE" />
<rect x="246.58" y="350.26" width="10.30" height="11.60" fill="#BEBEBE" />
<rect x="259.27" y="350.26" width="10.30" height="11.60" fill="#BEBEBE" />
<rect x="271.95" y="350.26" width="10.30" height="11.60" fill="#BEBEBE" />
<rect x="287.36" y="350.26" width="10.30" height="11.60" fill="#BEBEBE" />
<rect x="300.04" y="350.26" width="10.30" height="11.60" fill="#BEBEBE" />
<rect x="312.73" y="350.26" width="10.30" height="11.60" fill="#BEBEBE" />
<rect x="328.13" y="350.26" width="10.30" height="11.60" fill="#BEBEBE" />
<rect x="340.47" y="349.86" width="11.00" height="12.40" fill="#B2191C" />
<rect x="353.51" y="350.26" width="10.30" height="11.60" fill="#BEBEBE" />
<rect x="366.19" y="350.26" width="10.30" height="11.60" fill="#BEBEBE" />
<rect x="381.60" y="350.26" width="10.30" height="11.60" fill="#BEBEBE" />
<rect x="394.28" y="350.26" width="10.30" height="11.60" fill="#BEBEBE" />
<rect x="406.97" y="350.26" width="10.30" height="11.60" fill="#BEBEBE" />
<rect x="422.37" y="350.26" width="10.30" height="11.60" fill="#BEBEBE" />
<rect x="435.06" y="350.26" width="10.30" height="11.60" fill="#BEBEBE" />
<rect x="447.75" y="350.26" width="10.30" height="11.60" fill="#BEBEBE" />
<rect x="460.44" y="350.26" width="10.30" height="11.60" fill="#BEBEBE" />
<rect x="475.84" y="350.26" width="10.30" height="11.60" fill="#BEBEBE" />
<rect x="488.52" y="350.26" width="10.30" height="11.60" fill="#BEBEBE" />
<rect x="501.21" y="350.26" width="10.30" height="11.60" fill="#BEBEBE" />
<rect x="513.55" y="349.86" width="11.00" height="12.40" fill="#B2191C" />
<rect x="529.30" y="350.26" width="10.30" height="11.60" fill="#BEBEBE" />
<rect x="541.99" y="350.26" width="10.30" height="11.60" fill="#BEBEBE" />
<rect x="554.68" y="350.26" width="10.30" height="11.60" fill="#BEBEBE" />
<text x="68.90" y="372.60" font-size="9.2" text-anchor="end" fill="#231F20"  stroke="#231F20" stroke-width="0.15">Site</text>
<rect x="72.10" y="365.10" width="13.04" height="9.90" fill="#00C5CD" />
<rect x="84.79" y="365.10" width="13.04" height="9.90" fill="#D0503A" />
<rect x="97.47" y="365.10" width="13.04" height="9.90" fill="#D0503A" />
<rect x="110.16" y="365.10" width="12.90" height="9.90" fill="#D0503A" />
<rect x="125.56" y="365.10" width="13.04" height="9.90" fill="#00C5CD" />
<rect x="138.25" y="365.10" width="13.04" height="9.90" fill="#D0503A" />
<rect x="150.94" y="365.10" width="13.04" height="9.90" fill="#D0503A" />
<rect x="163.62" y="365.10" width="12.90" height="9.90" fill="#D0503A" />
<rect x="179.03" y="365.10" width="13.04" height="9.90" fill="#00C5CD" />
<rect x="191.71" y="365.10" width="13.04" height="9.90" fill="#D0503A" />
<rect x="204.40" y="365.10" width="13.04" height="9.90" fill="#D0503A" />
<rect x="217.09" y="365.10" width="12.90" height="9.90" fill="#D0503A" />
<rect x="232.49" y="365.10" width="13.04" height="9.90" fill="#00C5CD" />
<rect x="245.18" y="365.10" width="13.04" height="9.90" fill="#D0503A" />
<rect x="257.87" y="365.10" width="13.04" height="9.90" fill="#D0503A" />
<rect x="270.55" y="365.10" width="12.90" height="9.90" fill="#D0503A" />
<rect x="285.96" y="365.10" width="13.04" height="9.90" fill="#00C5CD" />
<rect x="298.64" y="365.10" width="13.04" height="9.90" fill="#D0503A" />
<rect x="311.33" y="365.10" width="12.90" height="9.90" fill="#D0503A" />
<rect x="326.73" y="365.10" width="13.04" height="9.90" fill="#00C5CD" />
<rect x="339.42" y="365.10" width="13.04" height="9.90" fill="#D0503A" />
<rect x="352.11" y="365.10" width="13.04" height="9.90" fill="#D0503A" />
<rect x="364.79" y="365.10" width="12.90" height="9.90" fill="#D0503A" />
<rect x="380.20" y="365.10" width="13.04" height="9.90" fill="#00C5CD" />
<rect x="392.88" y="365.10" width="13.04" height="9.90" fill="#D0503A" />
<rect x="405.57" y="365.10" width="12.90" height="9.90" fill="#D0503A" />
<rect x="420.97" y="365.10" width="13.04" height="9.90" fill="#00C5CD" />
<rect x="433.66" y="365.10" width="13.04" height="9.90" fill="#D0503A" />
<rect x="446.35" y="365.10" width="13.04" height="9.90" fill="#D0503A" />
<rect x="459.04" y="365.10" width="12.90" height="9.90" fill="#D0503A" />
<rect x="474.44" y="365.10" width="13.04" height="9.90" fill="#00C5CD" />
<rect x="487.12" y="365.10" width="13.04" height="9.90" fill="#D0503A" />
<rect x="499.81" y="365.10" width="13.04" height="9.90" fill="#D0503A" />
<rect x="512.50" y="365.10" width="12.90" height="9.90" fill="#D0503A" />
<rect x="527.90" y="365.10" width="13.04" height="9.90" fill="#00C5CD" />
<rect x="540.59" y="365.10" width="13.04" height="9.90" fill="#D0503A" />
<rect x="553.28" y="365.10" width="12.90" height="9.90" fill="#D0503A" />
<text transform="translate(78.71,402.0) rotate(-90) scale(0.96,1.12)" font-size="9.2" fill="#231F20" stroke="#231F20" stroke-width="0.15">P1N</text>
<text transform="translate(92.06,402.0) rotate(-90) scale(0.96,1.12)" font-size="9.2" fill="#231F20" stroke="#231F20" stroke-width="0.15">P1T1</text>
<text transform="translate(105.40,402.0) rotate(-90) scale(0.96,1.12)" font-size="9.2" fill="#231F20" stroke="#231F20" stroke-width="0.15">P1T2</text>
<text transform="translate(118.75,402.0) rotate(-90) scale(0.96,1.12)" font-size="9.2" fill="#231F20" stroke="#231F20" stroke-width="0.15">P1T3</text>
<text transform="translate(132.59,402.0) rotate(-90) scale(0.96,1.12)" font-size="9.2" fill="#231F20" stroke="#231F20" stroke-width="0.15">P2N</text>
<text transform="translate(145.93,402.0) rotate(-90) scale(0.96,1.12)" font-size="9.2" fill="#231F20" stroke="#231F20" stroke-width="0.15">P2T1</text>
<text transform="translate(159.28,402.0) rotate(-90) scale(0.96,1.12)" font-size="9.2" fill="#231F20" stroke="#231F20" stroke-width="0.15">P2T2</text>
<text transform="translate(172.62,402.0) rotate(-90) scale(0.96,1.12)" font-size="9.2" fill="#231F20" stroke="#231F20" stroke-width="0.15">P2T3</text>
<text transform="translate(186.46,402.0) rotate(-90) scale(0.96,1.12)" font-size="9.2" fill="#231F20" stroke="#231F20" stroke-width="0.15">P3N</text>
<text transform="translate(199.81,402.0) rotate(-90) scale(0.96,1.12)" font-size="9.2" fill="#231F20" stroke="#231F20" stroke-width="0.15">P3T1</text>
<text transform="translate(213.15,402.0) rotate(-90) scale(0.96,1.12)" font-size="9.2" fill="#231F20" stroke="#231F20" stroke-width="0.15">P3T2</text>
<text transform="translate(226.50,402.0) rotate(-90) scale(0.96,1.12)" font-size="9.2" fill="#231F20" stroke="#231F20" stroke-width="0.15">P3T3</text>
<text transform="translate(240.34,402.0) rotate(-90) scale(0.96,1.12)" font-size="9.2" fill="#231F20" stroke="#231F20" stroke-width="0.15">P4N</text>
<text transform="translate(253.68,402.0) rotate(-90) scale(0.96,1.12)" font-size="9.2" fill="#231F20" stroke="#231F20" stroke-width="0.15">P4T1</text>
<text transform="translate(267.03,402.0) rotate(-90) scale(0.96,1.12)" font-size="9.2" fill="#231F20" stroke="#231F20" stroke-width="0.15">P4T2</text>
<text transform="translate(280.38,402.0) rotate(-90) scale(0.96,1.12)" font-size="9.2" fill="#231F20" stroke="#231F20" stroke-width="0.15">P4T3</text>
<text transform="translate(294.21,402.0) rotate(-90) scale(0.96,1.12)" font-size="9.2" fill="#231F20" stroke="#231F20" stroke-width="0.15">P5N</text>
<text transform="translate(307.56,402.0) rotate(-90) scale(0.96,1.12)" font-size="9.2" fill="#231F20" stroke="#231F20" stroke-width="0.15">P5T1</text>
<text transform="translate(320.91,402.0) rotate(-90) scale(0.96,1.12)" font-size="9.2" fill="#231F20" stroke="#231F20" stroke-width="0.15">P5T2</text>
<text transform="translate(334.74,402.0) rotate(-90) scale(0.96,1.12)" font-size="9.2" fill="#231F20" stroke="#231F20" stroke-width="0.15">P6N</text>
<text transform="translate(348.09,402.0) rotate(-90) scale(0.96,1.12)" font-size="9.2" fill="#231F20" stroke="#231F20" stroke-width="0.15">P6T1</text>
<text transform="translate(361.44,402.0) rotate(-90) scale(0.96,1.12)" font-size="9.2" fill="#231F20" stroke="#231F20" stroke-width="0.15">P6T2</text>
<text transform="translate(374.78,402.0) rotate(-90) scale(0.96,1.12)" font-size="9.2" fill="#231F20" stroke="#231F20" stroke-width="0.15">P6T3</text>
<text transform="translate(388.62,402.0) rotate(-90) scale(0.96,1.12)" font-size="9.2" fill="#231F20" stroke="#231F20" stroke-width="0.15">P7N</text>
<text transform="translate(401.97,402.0) rotate(-90) scale(0.96,1.12)" font-size="9.2" fill="#231F20" stroke="#231F20" stroke-width="0.15">P7T1</text>
<text transform="translate(415.31,402.0) rotate(-90) scale(0.96,1.12)" font-size="9.2" fill="#231F20" stroke="#231F20" stroke-width="0.15">P7T2</text>
<text transform="translate(429.15,402.0) rotate(-90) scale(0.96,1.12)" font-size="9.2" fill="#231F20" stroke="#231F20" stroke-width="0.15">P8N</text>
<text transform="translate(442.50,402.0) rotate(-90) scale(0.96,1.12)" font-size="9.2" fill="#231F20" stroke="#231F20" stroke-width="0.15">P8T1</text>
<text transform="translate(455.84,402.0) rotate(-90) scale(0.96,1.12)" font-size="9.2" fill="#231F20" stroke="#231F20" stroke-width="0.15">P8T2</text>
<text transform="translate(469.19,402.0) rotate(-90) scale(0.96,1.12)" font-size="9.2" fill="#231F20" stroke="#231F20" stroke-width="0.15">P8T3</text>
<text transform="translate(483.03,402.0) rotate(-90) scale(0.96,1.12)" font-size="9.2" fill="#231F20" stroke="#231F20" stroke-width="0.15">P9N</text>
<text transform="translate(496.37,402.0) rotate(-90) scale(0.96,1.12)" font-size="9.2" fill="#231F20" stroke="#231F20" stroke-width="0.15">P9T1</text>
<text transform="translate(509.72,402.0) rotate(-90) scale(0.96,1.12)" font-size="9.2" fill="#231F20" stroke="#231F20" stroke-width="0.15">P9T2</text>
<text transform="translate(523.06,402.0) rotate(-90) scale(0.96,1.12)" font-size="9.2" fill="#231F20" stroke="#231F20" stroke-width="0.15">P9T3</text>
<text transform="translate(536.90,402.0) rotate(-90) scale(0.96,1.12)" font-size="9.2" fill="#231F20" stroke="#231F20" stroke-width="0.15">P10N</text>
<text transform="translate(550.25,402.0) rotate(-90) scale(0.96,1.12)" font-size="9.2" fill="#231F20" stroke="#231F20" stroke-width="0.15">P10T1</text>
<text transform="translate(563.59,402.0) rotate(-90) scale(0.96,1.12)" font-size="9.2" fill="#231F20" stroke="#231F20" stroke-width="0.15">P10T2</text>
<text x="592.60" y="109.30" font-size="9.2" text-anchor="start" fill="#231F20"  stroke="#231F20" stroke-width="0.15">Alterations</text>
<rect x="592.80" y="114.50" width="5.60" height="6.00" fill="#B2191C" />
<text x="600.80" y="119.90" font-size="9.2" text-anchor="start" fill="#231F20"  stroke="#231F20" stroke-width="0.15">Missense_variant</text>
<rect x="592.80" y="124.40" width="5.60" height="6.00" fill="#2B6E30" />
<text x="600.80" y="129.80" font-size="9.2" text-anchor="start" fill="#231F20"  stroke="#231F20" stroke-width="0.15">Splice_variant</text>
<rect x="592.60" y="132.20" width="6.20" height="6.40" fill="#F2F2F2" />
<circle cx="595.4" cy="135.70" r="1.85" fill="#000"/>
<text x="600.80" y="138.40" font-size="9.2" text-anchor="start" fill="#231F20"  stroke="#231F20" stroke-width="0.15">Frameshift_variant</text>
<rect x="592.60" y="141.20" width="6.20" height="6.40" fill="#F2F2F2" />
<circle cx="595.6" cy="144.50" r="1.65" fill="none" stroke="#000" stroke-width="1.15"/>
<text x="600.80" y="147.40" font-size="9.2" text-anchor="start" fill="#231F20"  stroke="#231F20" stroke-width="0.15">Inframe_deletion</text>
<rect x="592.60" y="149.40" width="6.20" height="6.40" fill="#F2F2F2" />
<rect x="594.2" y="151.60" width="2.8" height="2.6" fill="none" stroke="#000" stroke-width="0.9"/>
<text x="600.80" y="155.60" font-size="9.2" text-anchor="start" fill="#231F20"  stroke="#231F20" stroke-width="0.15">Inframe_insertion</text>
<rect x="592.60" y="158.00" width="6.20" height="6.40" fill="#F2F2F2" />
<path d="M593.6 160.20h4.0l-2.0 3.4z" fill="#000"/>
<text x="600.80" y="164.20" font-size="9.2" text-anchor="start" fill="#231F20"  stroke="#231F20" stroke-width="0.15">Stop_lost</text>
<text x="593.00" y="186.30" font-size="9.2" text-anchor="start" fill="#231F20"  stroke="#231F20" stroke-width="0.15">Hotspot mutation sites</text>
<rect x="594.60" y="189.40" width="4.40" height="6.00" fill="#F2F2F2" />
<rect x="596.30" y="190.70" width="1.00" height="4.20" fill="#000" />
<text x="601.80" y="196.00" font-size="9.2" text-anchor="start" fill="#231F20"  stroke="#231F20" stroke-width="0.15">EGFR-L858R</text>
<path d="M594.4 204.50H598.6M596.5 202.30V206.70" stroke="#000" stroke-width="1.0"/>
<text x="601.80" y="206.90" font-size="9.2" text-anchor="start" fill="#231F20"  stroke="#231F20" stroke-width="0.15">EGFR-E19del</text>
<path d="M594.30 212.60h4v2.4l-1.2 0.6l-0.8 1.6l-0.8-1.6l-1.2-0.6z" fill="#000"/>
<text x="601.80" y="217.20" font-size="9.2" text-anchor="start" fill="#231F20"  stroke="#231F20" stroke-width="0.15">KRAS-G12S</text>
<circle cx="596.30" cy="225.00" r="2.0" fill="none" stroke="#000" stroke-width="1.1"/>
<path d="M594.80 226.50L597.80 223.50" stroke="#000" stroke-width="1.0"/>
<text x="601.80" y="227.40" font-size="9.2" text-anchor="start" fill="#231F20"  stroke="#231F20" stroke-width="0.15">KRAS-G12V</text>
<path d="M593.90 231.90h4.8v0.8l-1.6 1.5l1.6 1.5v0.8h-4.8v-0.8l1.6-1.5l-1.6-1.5z" fill="#000"/>
<text x="601.80" y="236.60" font-size="9.2" text-anchor="start" fill="#231F20"  stroke="#231F20" stroke-width="0.15">KRAS-G12C</text>
<text x="593.60" y="271.40" font-size="9.2" text-anchor="start" fill="#231F20"  stroke="#231F20" stroke-width="0.15">Site</text>
<rect x="593.70" y="276.10" width="5.60" height="5.20" fill="#00C5CD" />
<text x="601.90" y="280.80" font-size="9.2" text-anchor="start" fill="#231F20"  stroke="#231F20" stroke-width="0.15">Normal tissue</text>
<rect x="593.70" y="285.00" width="5.60" height="5.20" fill="#D0503A" />
<text x="601.90" y="289.60" font-size="9.2" text-anchor="start" fill="#231F20"  stroke="#231F20" stroke-width="0.15">Nodule</text>
<text x="0.40" y="431.10" font-size="16.5" text-anchor="start" fill="#231F20"  stroke="#231F20" stroke-width="0.15">b</text>
<line x1="52.20" y1="464.70" x2="52.20" y2="608.58" stroke="#D6D6D6" stroke-width="1.5"/>
<line x1="52.20" y1="464.70" x2="159.42" y2="464.70" stroke="#D6D6D6" stroke-width="1.5"/>
<line x1="70.07" y1="464.70" x2="70.07" y2="608.58" stroke="#D6D6D6" stroke-width="1.5"/>
<line x1="52.20" y1="488.68" x2="159.42" y2="488.68" stroke="#D6D6D6" stroke-width="1.5"/>
<line x1="87.94" y1="464.70" x2="87.94" y2="608.58" stroke="#D6D6D6" stroke-width="1.5"/>
<line x1="52.20" y1="512.66" x2="159.42" y2="512.66" stroke="#D6D6D6" stroke-width="1.5"/>
<line x1="105.81" y1="464.70" x2="105.81" y2="608.58" stroke="#D6D6D6" stroke-width="1.5"/>
<line x1="52.20" y1="536.64" x2="159.42" y2="536.64" stroke="#D6D6D6" stroke-width="1.5"/>
<line x1="123.68" y1="464.70" x2="123.68" y2="608.58" stroke="#D6D6D6" stroke-width="1.5"/>
<line x1="52.20" y1="560.62" x2="159.42" y2="560.62" stroke="#D6D6D6" stroke-width="1.5"/>
<line x1="141.55" y1="464.70" x2="141.55" y2="608.58" stroke="#D6D6D6" stroke-width="1.5"/>
<line x1="52.20" y1="584.60" x2="159.42" y2="584.60" stroke="#D6D6D6" stroke-width="1.5"/>
<line x1="159.42" y1="464.70" x2="159.42" y2="608.58" stroke="#D6D6D6" stroke-width="1.5"/>
<line x1="52.20" y1="608.58" x2="159.42" y2="608.58" stroke="#D6D6D6" stroke-width="1.5"/>
<text x="49.20" y="478.10" font-size="9.2" text-anchor="end" fill="#231F20"  stroke="#231F20" stroke-width="0.15">EGFR</text>
<text transform="translate(64.44,459.7) rotate(-90) scale(1,1.1)" font-size="9.2" fill="#231F20" stroke="#231F20" stroke-width="0.15">EGFR</text>
<text x="49.20" y="502.08" font-size="9.2" text-anchor="end" fill="#231F20"  stroke="#231F20" stroke-width="0.15">KRAS</text>
<text transform="translate(82.31,459.7) rotate(-90) scale(1,1.1)" font-size="9.2" fill="#231F20" stroke="#231F20" stroke-width="0.15">KRAS</text>
<text x="49.20" y="526.06" font-size="9.2" text-anchor="end" fill="#231F20"  stroke="#231F20" stroke-width="0.15">ABHD17A</text>
<text transform="translate(100.17,459.7) rotate(-90) scale(1,1.1)" font-size="9.2" fill="#231F20" stroke="#231F20" stroke-width="0.15">ABHD17A</text>
<text x="49.20" y="550.04" font-size="9.2" text-anchor="end" fill="#231F20"  stroke="#231F20" stroke-width="0.15">MAP1A</text>
<text transform="translate(118.05,459.7) rotate(-90) scale(1,1.1)" font-size="9.2" fill="#231F20" stroke="#231F20" stroke-width="0.15">MAP1A</text>
<text x="49.20" y="574.02" font-size="9.2" text-anchor="end" fill="#231F20"  stroke="#231F20" stroke-width="0.15">ODF1</text>
<text transform="translate(135.92,459.7) rotate(-90) scale(1,1.1)" font-size="9.2" fill="#231F20" stroke="#231F20" stroke-width="0.15">ODF1</text>
<text x="49.20" y="598.00" font-size="9.2" text-anchor="end" fill="#231F20"  stroke="#231F20" stroke-width="0.15">SLC7A8</text>
<text transform="translate(153.79,459.7) rotate(-90) scale(1,1.1)" font-size="9.2" fill="#231F20" stroke="#231F20" stroke-width="0.15">SLC7A8</text>
<ellipse cx="61.14" cy="500.67" rx="4.96" ry="6.57" fill="#9494CC"/>
<text transform="translate(79.01,478.69) scale(0.78,1)" font-size="8.2" font-weight="bold" text-anchor="middle" fill="#111" stroke="#111" stroke-width="0.15">-0.31</text>
<ellipse cx="61.14" cy="524.65" rx="2.67" ry="3.54" fill="#EEEEF9"/>
<text transform="translate(96.88,478.69) scale(0.78,1)" font-size="8.2" text-anchor="middle" fill="#E8E8F6" stroke="#E8E8F6" stroke-width="0.15">-0.09</text>
<ellipse cx="61.14" cy="548.63" rx="4.62" ry="6.13" fill="#A5A5D5"/>
<text transform="translate(114.75,478.69) scale(0.78,1)" font-size="8.2" text-anchor="middle" fill="#8D8DC9" stroke="#8D8DC9" stroke-width="0.15">-0.27</text>
<ellipse cx="61.14" cy="572.61" rx="2.67" ry="3.54" fill="#EEEEF9"/>
<text transform="translate(132.62,478.69) scale(0.78,1)" font-size="8.2" text-anchor="middle" fill="#E8E8F6" stroke="#E8E8F6" stroke-width="0.15">-0.09</text>
<ellipse cx="61.14" cy="596.59" rx="2.67" ry="3.54" fill="#EEEEF9"/>
<text transform="translate(150.49,478.69) scale(0.78,1)" font-size="8.2" text-anchor="middle" fill="#E8E8F6" stroke="#E8E8F6" stroke-width="0.15">-0.09</text>
<ellipse cx="79.01" cy="524.65" rx="3.33" ry="4.42" fill="#DEDEF2"/>
<text transform="translate(96.88,502.67) scale(0.78,1)" font-size="8.2" text-anchor="middle" fill="#D1D1EC" stroke="#D1D1EC" stroke-width="0.15">-0.14</text>
<ellipse cx="79.01" cy="548.63" rx="3.08" ry="4.09" fill="#F9DDDE"/>
<text transform="translate(114.75,502.67) scale(0.78,1)" font-size="8.2" text-anchor="middle" fill="#F8D4D5" stroke="#F8D4D5" stroke-width="0.15">0.12</text>
<ellipse cx="79.01" cy="572.61" rx="3.08" ry="4.09" fill="#F9DDDE"/>
<text transform="translate(132.62,502.67) scale(0.78,1)" font-size="8.2" text-anchor="middle" fill="#F8D4D5" stroke="#F8D4D5" stroke-width="0.15">0.12</text>
<ellipse cx="79.01" cy="596.59" rx="3.33" ry="4.42" fill="#DEDEF2"/>
<text transform="translate(150.49,502.67) scale(0.78,1)" font-size="8.2" text-anchor="middle" fill="#D1D1EC" stroke="#D1D1EC" stroke-width="0.15">-0.14</text>
<ellipse cx="96.88" cy="548.63" rx="3.08" ry="4.09" fill="#E5E5F5"/>
<text transform="translate(114.75,526.65) scale(0.78,1)" font-size="8.2" text-anchor="middle" fill="#DADAF0" stroke="#DADAF0" stroke-width="0.15">-0.12</text>
<ellipse cx="96.88" cy="572.61" rx="3.56" ry="4.72" fill="#F7D0D2"/>
<text transform="translate(132.62,526.65) scale(0.78,1)" font-size="8.2" text-anchor="middle" fill="#F5C3C6" stroke="#F5C3C6" stroke-width="0.15">0.16</text>
<ellipse cx="96.88" cy="596.59" rx="3.56" ry="4.72" fill="#F7D0D2"/>
<text transform="translate(150.49,526.65) scale(0.78,1)" font-size="8.2" text-anchor="middle" fill="#F5C3C6" stroke="#F5C3C6" stroke-width="0.15">0.16</text>
<ellipse cx="114.75" cy="572.61" rx="3.08" ry="4.09" fill="#E5E5F5"/>
<text transform="translate(132.62,550.63) scale(0.78,1)" font-size="8.2" text-anchor="middle" fill="#DADAF0" stroke="#DADAF0" stroke-width="0.15">-0.12</text>
<ellipse cx="114.75" cy="596.59" rx="5.90" ry="7.83" fill="#EB7979"/>
<text transform="translate(150.49,550.63) scale(0.78,1)" font-size="8.2" text-anchor="middle" fill="#EB6565" stroke="#EB6565" stroke-width="0.15">0.44</text>
<ellipse cx="132.62" cy="596.59" rx="3.08" ry="4.09" fill="#E5E5F5"/>
<text transform="translate(150.49,574.61) scale(0.78,1)" font-size="8.2" text-anchor="middle" fill="#DADAF0" stroke="#DADAF0" stroke-width="0.15">-0.12</text>
<rect x="162.90" y="466.60" width="5.10" height="7.52" fill="#E01E21" />
<rect x="162.90" y="473.82" width="5.10" height="7.52" fill="#E62F30" />
<rect x="162.90" y="481.04" width="5.10" height="7.52" fill="#E94040" />
<rect x="162.90" y="488.26" width="5.10" height="7.52" fill="#EB5353" />
<rect x="162.90" y="495.48" width="5.10" height="7.52" fill="#EB6565" />
<rect x="162.90" y="502.70" width="5.10" height="7.52" fill="#EB7777" />
<rect x="162.90" y="509.92" width="5.10" height="7.52" fill="#EE9090" />
<rect x="162.90" y="517.14" width="5.10" height="7.52" fill="#F2B2B3" />
<rect x="162.90" y="524.36" width="5.10" height="7.52" fill="#F8D4D5" />
<rect x="162.90" y="531.58" width="5.10" height="7.52" fill="#FCF2F2" />
<rect x="162.90" y="538.80" width="5.10" height="7.52" fill="#F6F6FC" />
<rect x="162.90" y="546.02" width="5.10" height="7.52" fill="#DADAF0" />
<rect x="162.90" y="553.24" width="5.10" height="7.52" fill="#AFAFDA" />
<rect x="162.90" y="560.46" width="5.10" height="7.52" fill="#8989C8" />
<rect x="162.90" y="567.68" width="5.10" height="7.52" fill="#7174BF" />
<rect x="162.90" y="574.90" width="5.10" height="7.52" fill="#5763B8" />
<rect x="162.90" y="582.12" width="5.10" height="7.52" fill="#4454AF" />
<rect x="162.90" y="589.34" width="5.10" height="7.52" fill="#3447A5" />
<rect x="162.90" y="596.56" width="5.10" height="7.52" fill="#283D9C" />
<rect x="162.90" y="603.78" width="5.10" height="7.52" fill="#1E3695" />
<rect x="162.90" y="466.60" width="5.10" height="144.40" fill="none" stroke="#333" stroke-width="0.6"/>
<line x1="168.00" y1="466.60" x2="169.20" y2="466.60" stroke="#000" stroke-width="0.7"/>
<text x="171.20" y="469.20" font-size="9.1" text-anchor="start" fill="#231F20"  stroke="#231F20" stroke-width="0.15">1</text>
<line x1="168.00" y1="481.04" x2="169.20" y2="481.04" stroke="#000" stroke-width="0.7"/>
<text x="171.20" y="483.64" font-size="9.1" text-anchor="start" fill="#231F20"  stroke="#231F20" stroke-width="0.15">0.8</text>
<line x1="168.00" y1="495.48" x2="169.20" y2="495.48" stroke="#000" stroke-width="0.7"/>
<text x="171.20" y="498.08" font-size="9.1" text-anchor="start" fill="#231F20"  stroke="#231F20" stroke-width="0.15">0.6</text>
<line x1="168.00" y1="509.92" x2="169.20" y2="509.92" stroke="#000" stroke-width="0.7"/>
<text x="171.20" y="512.52" font-size="9.1" text-anchor="start" fill="#231F20"  stroke="#231F20" stroke-width="0.15">0.4</text>
<line x1="168.00" y1="524.36" x2="169.20" y2="524.36" stroke="#000" stroke-width="0.7"/>
<text x="171.20" y="526.96" font-size="9.1" text-anchor="start" fill="#231F20"  stroke="#231F20" stroke-width="0.15">0.2</text>
<line x1="168.00" y1="538.80" x2="169.20" y2="538.80" stroke="#000" stroke-width="0.7"/>
<text x="171.20" y="541.40" font-size="9.1" text-anchor="start" fill="#231F20"  stroke="#231F20" stroke-width="0.15">0</text>
<line x1="168.00" y1="553.24" x2="169.20" y2="553.24" stroke="#000" stroke-width="0.7"/>
<text x="171.20" y="555.84" font-size="9.1" text-anchor="start" fill="#231F20"  stroke="#231F20" stroke-width="0.15">-0.2</text>
<line x1="168.00" y1="567.68" x2="169.20" y2="567.68" stroke="#000" stroke-width="0.7"/>
<text x="171.20" y="570.28" font-size="9.1" text-anchor="start" fill="#231F20"  stroke="#231F20" stroke-width="0.15">-0.4</text>
<line x1="168.00" y1="582.12" x2="169.20" y2="582.12" stroke="#000" stroke-width="0.7"/>
<text x="171.20" y="584.72" font-size="9.1" text-anchor="start" fill="#231F20"  stroke="#231F20" stroke-width="0.15">-0.6</text>
<line x1="168.00" y1="596.56" x2="169.20" y2="596.56" stroke="#000" stroke-width="0.7"/>
<text x="171.20" y="599.16" font-size="9.1" text-anchor="start" fill="#231F20"  stroke="#231F20" stroke-width="0.15">-0.8</text>
<line x1="168.00" y1="611.00" x2="169.20" y2="611.00" stroke="#000" stroke-width="0.7"/>
<text x="171.20" y="613.60" font-size="9.1" text-anchor="start" fill="#231F20"  stroke="#231F20" stroke-width="0.15">-1</text>
<text x="190.50" y="430.70" font-size="16.5" text-anchor="start" fill="#231F20"  stroke="#231F20" stroke-width="0.15">c</text>
<path d="M231.5 433.6 L250.6 423.0 L247.2 432.3 L295.7 432.3 L295.7 434.9 L247.2 434.9 L250.6 444.2 Z" fill="#9898FA"/>
<path d="M416.6 433.6 L398.0 423.0 L401.2 432.3 L346.4 432.3 L346.4 434.9 L401.2 434.9 L398.0 444.2 Z" fill="#F98C8C"/>
<text x="254.60" y="429.60" font-size="9.0" text-anchor="start" fill="#231F20"  stroke="#231F20" stroke-width="0.15">KRAS_MT</text>
<text x="352.60" y="429.20" font-size="9.0" text-anchor="start" fill="#231F20"  stroke="#231F20" stroke-width="0.15">EGFR_MT</text>
<defs><clipPath id="cc"><rect x="223" y="446" width="232.5" height="164"/></clipPath><filter id="bl" x="-20%" y="-20%" width="140%" height="140%"><feGaussianBlur stdDeviation="0.7"/></filter></defs>
<g clip-path="url(#cc)">
<ellipse cx="304.6" cy="556.7" rx="2.2" ry="1.6" fill="#DCDCDC" opacity="0.5"/>
<ellipse cx="308.2" cy="555.8" rx="2.2" ry="1.6" fill="#DCDCDC" opacity="0.5"/>
<ellipse cx="306.9" cy="559.0" rx="2.2" ry="1.6" fill="#DCDCDC" opacity="0.5"/>
<ellipse cx="301.6" cy="560.6" rx="2.2" ry="1.6" fill="#DCDCDC" opacity="0.5"/>
<ellipse cx="301.4" cy="559.8" rx="2.2" ry="1.6" fill="#DCDCDC" opacity="0.5"/>
<ellipse cx="301.8" cy="556.0" rx="2.2" ry="1.6" fill="#DCDCDC" opacity="0.5"/>
<ellipse cx="305.7" cy="564.1" rx="2.2" ry="1.6" fill="#DCDCDC" opacity="0.5"/>
<ellipse cx="302.4" cy="557.5" rx="2.2" ry="1.6" fill="#DCDCDC" opacity="0.5"/>
<ellipse cx="307.9" cy="565.4" rx="2.2" ry="1.6" fill="#DCDCDC" opacity="0.5"/>
<ellipse cx="307.3" cy="559.4" rx="2.2" ry="1.6" fill="#DCDCDC" opacity="0.5"/>
<ellipse cx="311.7" cy="555.5" rx="2.2" ry="1.6" fill="#DCDCDC" opacity="0.5"/>
<ellipse cx="310.4" cy="558.2" rx="2.2" ry="1.6" fill="#DCDCDC" opacity="0.5"/>
<ellipse cx="302.6" cy="556.3" rx="2.2" ry="1.6" fill="#DCDCDC" opacity="0.5"/>
<ellipse cx="304.4" cy="564.0" rx="2.2" ry="1.6" fill="#DCDCDC" opacity="0.5"/>
<ellipse cx="303.0" cy="561.4" rx="2.2" ry="1.6" fill="#DCDCDC" opacity="0.5"/>
<ellipse cx="308.0" cy="559.1" rx="2.2" ry="1.6" fill="#DCDCDC" opacity="0.5"/>
<ellipse cx="307.0" cy="555.7" rx="2.2" ry="1.6" fill="#DCDCDC" opacity="0.5"/>
<ellipse cx="301.7" cy="557.3" rx="2.2" ry="1.6" fill="#DCDCDC" opacity="0.5"/>
<ellipse cx="308.5" cy="559.7" rx="2.2" ry="1.6" fill="#DCDCDC" opacity="0.5"/>
<ellipse cx="304.5" cy="561.4" rx="2.2" ry="1.6" fill="#DCDCDC" opacity="0.5"/>
<ellipse cx="306.0" cy="558.3" rx="2.2" ry="1.6" fill="#DCDCDC" opacity="0.5"/>
<ellipse cx="309.7" cy="562.7" rx="2.2" ry="1.6" fill="#DCDCDC" opacity="0.5"/>
<ellipse cx="324.2" cy="560.9" rx="2.2" ry="1.6" fill="#DCDCDC" opacity="0.5"/>
<ellipse cx="327.8" cy="564.5" rx="2.2" ry="1.6" fill="#DCDCDC" opacity="0.5"/>
<ellipse cx="330.5" cy="557.5" rx="2.2" ry="1.6" fill="#DCDCDC" opacity="0.5"/>
<ellipse cx="333.7" cy="555.4" rx="2.2" ry="1.6" fill="#DCDCDC" opacity="0.5"/>
<ellipse cx="326.4" cy="563.1" rx="2.2" ry="1.6" fill="#DCDCDC" opacity="0.5"/>
<ellipse cx="323.0" cy="559.9" rx="2.2" ry="1.6" fill="#DCDCDC" opacity="0.5"/>
<ellipse cx="321.5" cy="562.0" rx="2.2" ry="1.6" fill="#DCDCDC" opacity="0.5"/>
<ellipse cx="330.9" cy="560.9" rx="2.2" ry="1.6" fill="#DCDCDC" opacity="0.5"/>
<ellipse cx="332.4" cy="557.8" rx="2.2" ry="1.6" fill="#DCDCDC" opacity="0.5"/>
<ellipse cx="330.0" cy="561.1" rx="2.2" ry="1.6" fill="#DCDCDC" opacity="0.5"/>
<ellipse cx="328.5" cy="559.5" rx="2.2" ry="1.6" fill="#DCDCDC" opacity="0.5"/>
<ellipse cx="331.9" cy="565.3" rx="2.2" ry="1.6" fill="#DCDCDC" opacity="0.5"/>
<ellipse cx="327.2" cy="562.0" rx="2.2" ry="1.6" fill="#DCDCDC" opacity="0.5"/>
<ellipse cx="321.8" cy="562.4" rx="2.2" ry="1.6" fill="#DCDCDC" opacity="0.5"/>
<ellipse cx="329.4" cy="565.9" rx="2.2" ry="1.6" fill="#DCDCDC" opacity="0.5"/>
<ellipse cx="331.7" cy="557.4" rx="2.2" ry="1.6" fill="#DCDCDC" opacity="0.5"/>
<ellipse cx="326.0" cy="562.0" rx="2.2" ry="1.6" fill="#DCDCDC" opacity="0.5"/>
<ellipse cx="321.3" cy="559.5" rx="2.2" ry="1.6" fill="#DCDCDC" opacity="0.5"/>
<ellipse cx="323.2" cy="555.4" rx="2.2" ry="1.6" fill="#DCDCDC" opacity="0.5"/>
<ellipse cx="321.8" cy="563.2" rx="2.2" ry="1.6" fill="#DCDCDC" opacity="0.5"/>
<ellipse cx="322.7" cy="557.0" rx="2.2" ry="1.6" fill="#DCDCDC" opacity="0.5"/>
<ellipse cx="326.1" cy="564.5" rx="2.2" ry="1.6" fill="#DCDCDC" opacity="0.5"/>
<defs><linearGradient id="gg" gradientUnits="userSpaceOnUse" x1="0" y1="559" x2="0" y2="574"><stop offset="0" stop-color="#DADADA"/><stop offset="1" stop-color="#BEBEBE"/></linearGradient></defs>
<path d="M258 598 C263 594 270 591 282 589 L300.8 588 L300.8 566 C302 563.5 305 562 308 562 C310 562 311 562.5 311.8 564 C313 572 314.8 584 316.3 595 C317.8 584 319.6 572 320.8 564 C321.6 560 324 557.5 327 557 C330 559 332 565 333 570 L333 589 L378 589 C384 590 388 591 386 594 C372 598 350 602 330 604.5 C318 605.5 300 605 285 603 C272 601 262 600 256 598 Z" fill="url(#gg)" filter="url(#bl)"/>
<ellipse cx="258" cy="596" rx="2.2" ry="1.6" fill="#D4D4D4"/>
<ellipse cx="262" cy="593" rx="2.2" ry="1.6" fill="#D4D4D4"/>
<ellipse cx="266" cy="598" rx="2.2" ry="1.6" fill="#D4D4D4"/>
<ellipse cx="270" cy="592" rx="2.2" ry="1.6" fill="#D4D4D4"/>
<ellipse cx="274" cy="596" rx="2.2" ry="1.6" fill="#D4D4D4"/>
<ellipse cx="305" cy="557" rx="2.2" ry="1.6" fill="#D4D4D4"/>
<ellipse cx="300" cy="561" rx="2.2" ry="1.6" fill="#D4D4D4"/>
<ellipse cx="329" cy="556" rx="2.2" ry="1.6" fill="#D4D4D4"/>
<ellipse cx="331" cy="559" rx="2.2" ry="1.6" fill="#D4D4D4"/>
<ellipse cx="308" cy="553" rx="2.2" ry="1.6" fill="#D4D4D4"/>
<ellipse cx="326" cy="552" rx="2.2" ry="1.6" fill="#D4D4D4"/>
<ellipse cx="395" cy="592" rx="2.2" ry="1.6" fill="#D4D4D4"/>
<ellipse cx="388" cy="594" rx="2.2" ry="1.6" fill="#D4D4D4"/>
<ellipse cx="392" cy="596" rx="2.2" ry="1.6" fill="#D4D4D4"/>
<ellipse cx="383" cy="595" rx="2.2" ry="1.6" fill="#D4D4D4"/>
<ellipse cx="378" cy="596" rx="2.2" ry="1.6" fill="#D4D4D4"/>
<ellipse cx="248" cy="600" rx="2.2" ry="1.6" fill="#D4D4D4"/>
<ellipse cx="253" cy="599" rx="2.2" ry="1.6" fill="#D4D4D4"/>
<ellipse cx="263" cy="596" rx="2.2" ry="1.6" fill="#D4D4D4"/>
<ellipse cx="278" cy="548" rx="2.2" ry="1.6" fill="#D4D4D4"/>
<ellipse cx="303" cy="549" rx="2.2" ry="1.6" fill="#D4D4D4"/>
<ellipse cx="340" cy="552" rx="2.2" ry="1.6" fill="#D4D4D4"/>
<ellipse cx="360" cy="596" rx="2.2" ry="1.6" fill="#D4D4D4"/>
<ellipse cx="372" cy="595" rx="2.2" ry="1.6" fill="#D4D4D4"/>
<ellipse cx="332.2" cy="537" rx="2.2" ry="1.6" fill="#D4D4D4"/>
<ellipse cx="329.8" cy="558" rx="2.2" ry="1.6" fill="#D4D4D4"/>
<path d="M284.5 572.6 L300.6 572.3 L301.2 576 L300.6 580 L301.2 584 L300.8 588.5 L293 589.8 L288 590.8 L283 589.5 L280.5 586.5 L282 582.5 L286.5 580 L285.5 576.5 Z" fill="#0808F2" filter="url(#bl)"/>
<ellipse cx="285.3" cy="580.2" rx="2.1" ry="1.5" fill="#2626F0" opacity="0.45"/>
<ellipse cx="292.8" cy="587.1" rx="2.1" ry="1.5" fill="#2626F0" opacity="0.45"/>
<ellipse cx="297.1" cy="586.8" rx="2.1" ry="1.5" fill="#2626F0" opacity="0.45"/>
<ellipse cx="288.5" cy="579.6" rx="2.1" ry="1.5" fill="#2626F0" opacity="0.45"/>
<ellipse cx="289.7" cy="587.1" rx="2.1" ry="1.5" fill="#2626F0" opacity="0.45"/>
<ellipse cx="299.3" cy="575.4" rx="2.1" ry="1.5" fill="#2626F0" opacity="0.45"/>
<ellipse cx="286.8" cy="576.7" rx="2.1" ry="1.5" fill="#2626F0" opacity="0.45"/>
<ellipse cx="287.7" cy="580.8" rx="2.1" ry="1.5" fill="#2626F0" opacity="0.45"/>
<ellipse cx="293.4" cy="577.2" rx="2.1" ry="1.5" fill="#2626F0" opacity="0.45"/>
<ellipse cx="284.1" cy="579.7" rx="2.1" ry="1.5" fill="#2626F0" opacity="0.45"/>
<ellipse cx="289.9" cy="582.1" rx="2.1" ry="1.5" fill="#2626F0" opacity="0.45"/>
<ellipse cx="299.2" cy="584.0" rx="2.1" ry="1.5" fill="#2626F0" opacity="0.45"/>
<ellipse cx="292.2" cy="582.9" rx="2.1" ry="1.5" fill="#2626F0" opacity="0.45"/>
<ellipse cx="294.8" cy="573.9" rx="2.1" ry="1.5" fill="#2626F0" opacity="0.45"/>
<ellipse cx="298.4" cy="585.5" rx="2.1" ry="1.5" fill="#2626F0" opacity="0.45"/>
<ellipse cx="298.0" cy="585.8" rx="2.1" ry="1.5" fill="#2626F0" opacity="0.45"/>
<ellipse cx="290.3" cy="579.4" rx="2.1" ry="1.5" fill="#2626F0" opacity="0.45"/>
<ellipse cx="285.7" cy="583.1" rx="2.1" ry="1.5" fill="#2626F0" opacity="0.45"/>
<ellipse cx="285.0" cy="574.1" rx="2.1" ry="1.5" fill="#2626F0" opacity="0.45"/>
<ellipse cx="287.3" cy="575.6" rx="2.1" ry="1.5" fill="#2626F0" opacity="0.45"/>
<ellipse cx="289.4" cy="573.8" rx="2.1" ry="1.5" fill="#2626F0" opacity="0.45"/>
<ellipse cx="284.0" cy="575.4" rx="2.1" ry="1.5" fill="#2626F0" opacity="0.45"/>
<ellipse cx="285.6" cy="578.8" rx="2.1" ry="1.5" fill="#2626F0" opacity="0.45"/>
<ellipse cx="284.4" cy="587.0" rx="2.1" ry="1.5" fill="#2626F0" opacity="0.45"/>
<ellipse cx="293.8" cy="575.4" rx="2.1" ry="1.5" fill="#2626F0" opacity="0.45"/>
<ellipse cx="288.0" cy="578.6" rx="2.1" ry="1.5" fill="#2626F0" opacity="0.45"/>
<ellipse cx="289.8" cy="575.0" rx="2.1" ry="1.5" fill="#2626F0" opacity="0.45"/>
<ellipse cx="297.6" cy="588.9" rx="2.1" ry="1.5" fill="#2626F0" opacity="0.45"/>
<ellipse cx="291.5" cy="580.7" rx="2.1" ry="1.5" fill="#2626F0" opacity="0.45"/>
<ellipse cx="285.4" cy="574.6" rx="2.1" ry="1.5" fill="#2626F0" opacity="0.45"/>
<ellipse cx="289.5" cy="577.2" rx="2.1" ry="1.5" fill="#2626F0" opacity="0.45"/>
<ellipse cx="297.3" cy="575.6" rx="2.1" ry="1.5" fill="#2626F0" opacity="0.45"/>
<ellipse cx="284.4" cy="588.2" rx="2.1" ry="1.5" fill="#2626F0" opacity="0.45"/>
<ellipse cx="292.5" cy="575.3" rx="2.1" ry="1.5" fill="#2626F0" opacity="0.45"/>
<ellipse cx="292.7" cy="573.4" rx="2.1" ry="1.5" fill="#2626F0" opacity="0.45"/>
<ellipse cx="292.4" cy="588.7" rx="2.1" ry="1.5" fill="#2626F0" opacity="0.45"/>
<ellipse cx="297.8" cy="584.1" rx="2.1" ry="1.5" fill="#2626F0" opacity="0.45"/>
<ellipse cx="288.2" cy="578.9" rx="2.1" ry="1.5" fill="#2626F0" opacity="0.45"/>
<ellipse cx="286.7" cy="585.4" rx="2.1" ry="1.5" fill="#2626F0" opacity="0.45"/>
<ellipse cx="292.5" cy="585.5" rx="2.1" ry="1.5" fill="#2626F0" opacity="0.45"/>
<ellipse cx="289.3" cy="576.6" rx="2.1" ry="1.5" fill="#2626F0" opacity="0.45"/>
<ellipse cx="297.0" cy="588.8" rx="2.1" ry="1.5" fill="#2626F0" opacity="0.45"/>
<ellipse cx="297.6" cy="585.9" rx="2.1" ry="1.5" fill="#2626F0" opacity="0.45"/>
<ellipse cx="297.1" cy="584.8" rx="2.1" ry="1.5" fill="#2626F0" opacity="0.45"/>
<ellipse cx="287.6" cy="581.3" rx="2.1" ry="1.5" fill="#2626F0" opacity="0.45"/>
<ellipse cx="273.2" cy="573.8" rx="2.4" ry="1.7" fill="#7474F4" opacity="0.8"/>
<ellipse cx="283.1" cy="573.8" rx="2.4" ry="1.7" fill="#7474F4" opacity="0.8"/>
<ellipse cx="280.2" cy="579.0" rx="2.4" ry="1.7" fill="#7474F4" opacity="0.8"/>
<ellipse cx="272.0" cy="583.7" rx="2.4" ry="1.7" fill="#7474F4" opacity="0.8"/>
<ellipse cx="276.7" cy="583.7" rx="2.4" ry="1.7" fill="#7474F4" opacity="0.8"/>
<ellipse cx="273.8" cy="589.0" rx="2.4" ry="1.7" fill="#7474F4" opacity="0.8"/>
<ellipse cx="279.5" cy="587.5" rx="2.4" ry="1.7" fill="#7474F4" opacity="0.8"/>
<ellipse cx="283.5" cy="584.5" rx="2.4" ry="1.7" fill="#7474F4" opacity="0.8"/>
<path d="M333.5 571.6 L349 571.2 L355 572.5 L357.5 576 L357 589 L345 589.2 L333.5 589 Z" fill="#FF0808" filter="url(#bl)"/>
<ellipse cx="359.0" cy="574.4" rx="2.1" ry="1.5" fill="#FF1010" opacity="0.5"/>
<ellipse cx="354.4" cy="578.2" rx="2.1" ry="1.5" fill="#FF1010" opacity="0.5"/>
<ellipse cx="357.6" cy="584.4" rx="2.1" ry="1.5" fill="#FF1010" opacity="0.5"/>
<ellipse cx="367.4" cy="580.7" rx="2.1" ry="1.5" fill="#FF1010" opacity="0.5"/>
<ellipse cx="367.1" cy="588.8" rx="2.1" ry="1.5" fill="#FF1010" opacity="0.5"/>
<ellipse cx="367.4" cy="579.5" rx="2.1" ry="1.5" fill="#FF1010" opacity="0.5"/>
<ellipse cx="357.1" cy="577.4" rx="2.1" ry="1.5" fill="#FF1010" opacity="0.5"/>
<ellipse cx="356.8" cy="577.1" rx="2.1" ry="1.5" fill="#FF1010" opacity="0.5"/>
<ellipse cx="362.7" cy="587.5" rx="2.1" ry="1.5" fill="#FF1010" opacity="0.5"/>
<ellipse cx="365.8" cy="581.2" rx="2.1" ry="1.5" fill="#FF1010" opacity="0.5"/>
<ellipse cx="363.1" cy="586.0" rx="2.1" ry="1.5" fill="#FF1010" opacity="0.5"/>
<ellipse cx="355.2" cy="583.9" rx="2.1" ry="1.5" fill="#FF1010" opacity="0.5"/>
<ellipse cx="366.7" cy="585.7" rx="2.1" ry="1.5" fill="#FF1010" opacity="0.5"/>
<ellipse cx="364.5" cy="581.2" rx="2.1" ry="1.5" fill="#FF1010" opacity="0.5"/>
<ellipse cx="356.5" cy="585.8" rx="2.1" ry="1.5" fill="#FF1010" opacity="0.5"/>
<ellipse cx="358.7" cy="586.0" rx="2.1" ry="1.5" fill="#FF1010" opacity="0.5"/>
<ellipse cx="367.6" cy="579.9" rx="2.1" ry="1.5" fill="#FF1010" opacity="0.5"/>
<ellipse cx="359.6" cy="588.2" rx="2.1" ry="1.5" fill="#FF1010" opacity="0.5"/>
<ellipse cx="364.1" cy="576.6" rx="2.1" ry="1.5" fill="#FF1010" opacity="0.5"/>
<ellipse cx="355.8" cy="576.3" rx="2.1" ry="1.5" fill="#FF1010" opacity="0.5"/>
<ellipse cx="366.7" cy="586.1" rx="2.1" ry="1.5" fill="#FF1010" opacity="0.5"/>
<ellipse cx="356.0" cy="586.4" rx="2.1" ry="1.5" fill="#FF1010" opacity="0.5"/>
<ellipse cx="367.7" cy="583.9" rx="2.1" ry="1.5" fill="#FF1010" opacity="0.5"/>
<ellipse cx="358.9" cy="582.2" rx="2.1" ry="1.5" fill="#FF1010" opacity="0.5"/>
<ellipse cx="355.8" cy="574.2" rx="2.1" ry="1.5" fill="#FF1010" opacity="0.5"/>
<ellipse cx="367.6" cy="583.7" rx="2.1" ry="1.5" fill="#FF1010" opacity="0.5"/>
<ellipse cx="361.4" cy="588.0" rx="2.1" ry="1.5" fill="#FF1010" opacity="0.5"/>
<ellipse cx="360.1" cy="587.1" rx="2.1" ry="1.5" fill="#FF1010" opacity="0.5"/>
<ellipse cx="365.6" cy="577.2" rx="2.1" ry="1.5" fill="#FF1010" opacity="0.5"/>
<ellipse cx="357.5" cy="578.4" rx="2.1" ry="1.5" fill="#FF1010" opacity="0.5"/>
<ellipse cx="357.4" cy="582.8" rx="2.1" ry="1.5" fill="#FF1010" opacity="0.5"/>
<ellipse cx="357.6" cy="580.3" rx="2.1" ry="1.5" fill="#FF1010" opacity="0.5"/>
<ellipse cx="355.8" cy="587.7" rx="2.1" ry="1.5" fill="#FF1010" opacity="0.5"/>
<ellipse cx="359.0" cy="580.9" rx="2.1" ry="1.5" fill="#FF1010" opacity="0.5"/>
<ellipse cx="362.2" cy="587.6" rx="2.1" ry="1.5" fill="#FF1010" opacity="0.5"/>
<ellipse cx="359.9" cy="587.8" rx="2.1" ry="1.5" fill="#FF1010" opacity="0.5"/>
<ellipse cx="361.0" cy="582.0" rx="2.1" ry="1.5" fill="#FF1010" opacity="0.5"/>
<ellipse cx="361.3" cy="574.3" rx="2.1" ry="1.5" fill="#FF1010" opacity="0.5"/>
<ellipse cx="360.2" cy="576.7" rx="2.1" ry="1.5" fill="#FF1010" opacity="0.5"/>
<ellipse cx="354.1" cy="586.0" rx="2.1" ry="1.5" fill="#FF1010" opacity="0.5"/>
<ellipse cx="356.4" cy="581.1" rx="2.1" ry="1.5" fill="#FF1010" opacity="0.5"/>
<ellipse cx="364.2" cy="582.3" rx="2.1" ry="1.5" fill="#FF1010" opacity="0.5"/>
<ellipse cx="358.6" cy="581.8" rx="2.1" ry="1.5" fill="#FF1010" opacity="0.5"/>
<ellipse cx="361.8" cy="585.8" rx="2.1" ry="1.5" fill="#FF1010" opacity="0.5"/>
<ellipse cx="355.5" cy="582.4" rx="2.1" ry="1.5" fill="#FF1010" opacity="0.5"/>
<ellipse cx="357.5" cy="578.2" rx="2.1" ry="1.5" fill="#FF1010" opacity="0.5"/>
<ellipse cx="364.8" cy="581.6" rx="2.1" ry="1.5" fill="#FF1010" opacity="0.5"/>
<ellipse cx="361.9" cy="585.4" rx="2.1" ry="1.5" fill="#FF1010" opacity="0.5"/>
<ellipse cx="366.8" cy="580.6" rx="2.1" ry="1.5" fill="#FF1010" opacity="0.5"/>
<ellipse cx="362.6" cy="581.6" rx="2.1" ry="1.5" fill="#FF1010" opacity="0.5"/>
<ellipse cx="361.2" cy="584.4" rx="2.1" ry="1.5" fill="#FF1010" opacity="0.5"/>
<ellipse cx="360.3" cy="582.0" rx="2.1" ry="1.5" fill="#FF1010" opacity="0.5"/>
<ellipse cx="360.7" cy="588.1" rx="2.1" ry="1.5" fill="#FF1010" opacity="0.5"/>
<ellipse cx="363.8" cy="587.1" rx="2.1" ry="1.5" fill="#FF1010" opacity="0.5"/>
<ellipse cx="367.2" cy="577.9" rx="2.1" ry="1.5" fill="#FF1010" opacity="0.5"/>
<ellipse cx="361.8" cy="588.1" rx="2.1" ry="1.5" fill="#FF1010" opacity="0.5"/>
<ellipse cx="365.8" cy="576.1" rx="2.1" ry="1.5" fill="#FF1010" opacity="0.5"/>
<ellipse cx="355.7" cy="580.6" rx="2.1" ry="1.5" fill="#FF1010" opacity="0.5"/>
<ellipse cx="355.0" cy="577.6" rx="2.1" ry="1.5" fill="#FF1010" opacity="0.5"/>
<ellipse cx="355.0" cy="584.0" rx="2.1" ry="1.5" fill="#FF1010" opacity="0.5"/>
<ellipse cx="365.0" cy="587.5" rx="2.1" ry="1.5" fill="#FF1010" opacity="0.5"/>
<ellipse cx="356.2" cy="584.7" rx="2.1" ry="1.5" fill="#FF1010" opacity="0.5"/>
<ellipse cx="363.2" cy="576.1" rx="2.1" ry="1.5" fill="#FF1010" opacity="0.5"/>
<ellipse cx="366.4" cy="588.5" rx="2.1" ry="1.5" fill="#FF1010" opacity="0.5"/>
<ellipse cx="357.1" cy="588.3" rx="2.1" ry="1.5" fill="#FF1010" opacity="0.5"/>
<ellipse cx="359.6" cy="581.3" rx="2.1" ry="1.5" fill="#FF1010" opacity="0.5"/>
<ellipse cx="367.9" cy="586.5" rx="2.1" ry="1.5" fill="#FF1010" opacity="0.5"/>
<ellipse cx="356.3" cy="580.5" rx="2.1" ry="1.5" fill="#FF1010" opacity="0.5"/>
<ellipse cx="361.2" cy="579.1" rx="2.1" ry="1.5" fill="#FF1010" opacity="0.5"/>
<ellipse cx="356.7" cy="578.8" rx="2.1" ry="1.5" fill="#FF1010" opacity="0.5"/>
<path d="M366 581 L373.5 580.3 L374.5 587.5 L366 588.3 Z" fill="#FF1010" filter="url(#bl)"/>
<ellipse cx="378.1" cy="574.3" rx="2.1" ry="1.5" fill="#FF5050" opacity="0.4"/>
<ellipse cx="375.8" cy="581.0" rx="2.1" ry="1.5" fill="#FF5050" opacity="0.4"/>
<ellipse cx="368.3" cy="579.3" rx="2.1" ry="1.5" fill="#FF5050" opacity="0.4"/>
<ellipse cx="376.7" cy="582.2" rx="2.1" ry="1.5" fill="#FF5050" opacity="0.4"/>
<ellipse cx="368.9" cy="589.8" rx="2.1" ry="1.5" fill="#FF5050" opacity="0.4"/>
<ellipse cx="379.0" cy="589.5" rx="2.1" ry="1.5" fill="#FF5050" opacity="0.4"/>
<ellipse cx="369.5" cy="578.2" rx="2.1" ry="1.5" fill="#FF5050" opacity="0.4"/>
<ellipse cx="368.6" cy="586.5" rx="2.1" ry="1.5" fill="#FF5050" opacity="0.4"/>
<ellipse cx="371.8" cy="576.1" rx="2.1" ry="1.5" fill="#FF5050" opacity="0.4"/>
<ellipse cx="373.9" cy="588.6" rx="2.1" ry="1.5" fill="#FF5050" opacity="0.4"/>
<ellipse cx="379.5" cy="578.1" rx="2.1" ry="1.5" fill="#FF5050" opacity="0.4"/>
<ellipse cx="370.1" cy="588.7" rx="2.1" ry="1.5" fill="#FF5050" opacity="0.4"/>
<ellipse cx="376.0" cy="585.2" rx="2.1" ry="1.5" fill="#FF5050" opacity="0.4"/>
<ellipse cx="369.3" cy="574.9" rx="2.1" ry="1.5" fill="#FF5050" opacity="0.4"/>
<ellipse cx="377.6" cy="580.8" rx="2.1" ry="1.5" fill="#FF5050" opacity="0.4"/>
<ellipse cx="369.0" cy="589.0" rx="2.1" ry="1.5" fill="#FF5050" opacity="0.4"/>
<ellipse cx="376.9" cy="586.8" rx="2.1" ry="1.5" fill="#FF5050" opacity="0.4"/>
<ellipse cx="369.2" cy="587.7" rx="2.1" ry="1.5" fill="#FF5050" opacity="0.4"/>
<ellipse cx="368.9" cy="587.8" rx="2.1" ry="1.5" fill="#FF5050" opacity="0.4"/>
<ellipse cx="374.4" cy="579.4" rx="2.1" ry="1.5" fill="#FF5050" opacity="0.4"/>
<ellipse cx="375.7" cy="588.8" rx="2.1" ry="1.5" fill="#FF5050" opacity="0.4"/>
<ellipse cx="371.8" cy="576.1" rx="2.1" ry="1.5" fill="#FF5050" opacity="0.4"/>
<ellipse cx="375.4" cy="577.8" rx="2.1" ry="1.5" fill="#FF5050" opacity="0.4"/>
<ellipse cx="369.5" cy="576.6" rx="2.1" ry="1.5" fill="#FF5050" opacity="0.4"/>
<ellipse cx="368.7" cy="577.2" rx="2.1" ry="1.5" fill="#FF5050" opacity="0.4"/>
<ellipse cx="372.4" cy="578.9" rx="2.1" ry="1.5" fill="#FF5050" opacity="0.4"/>
<ellipse cx="389.7" cy="573.8" rx="2.3" ry="1.7" fill="#FF8A8A" opacity="0.85"/>
<ellipse cx="391.8" cy="587.4" rx="2.3" ry="1.7" fill="#FF8A8A" opacity="0.85"/>
<ellipse cx="376.5" cy="575.3" rx="2.3" ry="1.7" fill="#FF8A8A" opacity="0.85"/>
<ellipse cx="380" cy="587" rx="2.3" ry="1.7" fill="#FF8A8A" opacity="0.85"/>
</g>
<line x1="241.3" y1="479.5" x2="243.3" y2="517" stroke="#111" stroke-width="0.75"/>
<line x1="251.3" y1="493.6" x2="259.6" y2="526.2" stroke="#111" stroke-width="0.75"/>
<line x1="265.4" y1="513.5" x2="265.4" y2="526" stroke="#111" stroke-width="0.75"/>
<line x1="278.5" y1="464.5" x2="276.7" y2="515" stroke="#111" stroke-width="0.75"/>
<line x1="297.2" y1="486.5" x2="278.4" y2="531.8" stroke="#111" stroke-width="0.75"/>
<line x1="297.8" y1="515.5" x2="286.3" y2="533.8" stroke="#111" stroke-width="0.75"/>
<line x1="261.9" y1="531.1" x2="276.0" y2="535.8" stroke="#111" stroke-width="0.75"/>
<ellipse cx="243.4" cy="518.3" rx="2.25" ry="1.5" fill="#6A6AE8" stroke="#00000A" stroke-width="1.25"/>
<ellipse cx="276.6" cy="516.3" rx="2.25" ry="1.5" fill="#6A6AE8" stroke="#00000A" stroke-width="1.25"/>
<ellipse cx="260.1" cy="527.2" rx="2.25" ry="1.5" fill="#6A6AE8" stroke="#00000A" stroke-width="1.25"/>
<ellipse cx="265.4" cy="527.2" rx="2.25" ry="1.5" fill="#6A6AE8" stroke="#00000A" stroke-width="1.25"/>
<ellipse cx="278.1" cy="532.9" rx="2.25" ry="1.5" fill="#6A6AE8" stroke="#00000A" stroke-width="1.25"/>
<ellipse cx="278.1" cy="536.4" rx="2.25" ry="1.5" fill="#6A6AE8" stroke="#00000A" stroke-width="1.25"/>
<ellipse cx="286.1" cy="535" rx="2.25" ry="1.5" fill="#6A6AE8" stroke="#00000A" stroke-width="1.25"/>
<ellipse cx="269.7" cy="539.5" rx="2.25" ry="1.5" fill="#6A6AE8" stroke="#00000A" stroke-width="1.25"/>
<ellipse cx="249.2" cy="542.3" rx="2.25" ry="1.5" fill="#6A6AE8" stroke="#00000A" stroke-width="1.25"/>
<ellipse cx="274.6" cy="545.1" rx="2.25" ry="1.5" fill="#6A6AE8" stroke="#00000A" stroke-width="1.25"/>
<ellipse cx="274.6" cy="550.2" rx="2.25" ry="1.5" fill="#6A6AE8" stroke="#00000A" stroke-width="1.25"/>
<ellipse cx="280.2" cy="550" rx="2.25" ry="1.5" fill="#6A6AE8" stroke="#00000A" stroke-width="1.25"/>
<ellipse cx="253.1" cy="557.4" rx="2.25" ry="1.5" fill="#6A6AE8" stroke="#00000A" stroke-width="1.25"/>
<ellipse cx="277.6" cy="560.9" rx="2.25" ry="1.5" fill="#6A6AE8" stroke="#00000A" stroke-width="1.25"/>
<ellipse cx="276.8" cy="561.4" rx="2.25" ry="1.5" fill="#6A6AE8" stroke="#00000A" stroke-width="1.25"/>
<ellipse cx="297.1" cy="541" rx="2.25" ry="1.5" fill="#6A6AE8" stroke="#00000A" stroke-width="1.25"/>
<ellipse cx="288.5" cy="544.2" rx="2.25" ry="1.5" fill="#6A6AE8" stroke="#00000A" stroke-width="1.25"/>
<ellipse cx="292.9" cy="545.8" rx="2.25" ry="1.5" fill="#6A6AE8" stroke="#00000A" stroke-width="1.25"/>
<ellipse cx="286.6" cy="556.3" rx="2.25" ry="1.5" fill="#6A6AE8" stroke="#00000A" stroke-width="1.25"/>
<ellipse cx="295.7" cy="554.2" rx="2.25" ry="1.5" fill="#6A6AE8" stroke="#00000A" stroke-width="1.25"/>
<ellipse cx="299.7" cy="556.2" rx="2.25" ry="1.5" fill="#6A6AE8" stroke="#00000A" stroke-width="1.25"/>
<ellipse cx="298.6" cy="559.2" rx="2.25" ry="1.5" fill="#6A6AE8" stroke="#00000A" stroke-width="1.25"/>
<ellipse cx="288.1" cy="561.9" rx="2.25" ry="1.5" fill="#6A6AE8" stroke="#00000A" stroke-width="1.25"/>
<ellipse cx="296.9" cy="563.2" rx="2.25" ry="1.5" fill="#6A6AE8" stroke="#00000A" stroke-width="1.25"/>
<ellipse cx="282.4" cy="564.5" rx="2.25" ry="1.5" fill="#6A6AE8" stroke="#00000A" stroke-width="1.25"/>
<ellipse cx="285" cy="565.4" rx="2.25" ry="1.5" fill="#6A6AE8" stroke="#00000A" stroke-width="1.25"/>
<ellipse cx="288.5" cy="564.5" rx="2.25" ry="1.5" fill="#6A6AE8" stroke="#00000A" stroke-width="1.25"/>
<ellipse cx="291.6" cy="566.7" rx="2.25" ry="1.5" fill="#6A6AE8" stroke="#00000A" stroke-width="1.25"/>
<ellipse cx="294.7" cy="565.4" rx="2.25" ry="1.5" fill="#6A6AE8" stroke="#00000A" stroke-width="1.25"/>
<ellipse cx="268.8" cy="565.6" rx="2.25" ry="1.5" fill="#6A6AE8" stroke="#00000A" stroke-width="1.25"/>
<ellipse cx="263.1" cy="568.3" rx="2.25" ry="1.5" fill="#6A6AE8" stroke="#00000A" stroke-width="1.25"/>
<ellipse cx="265.8" cy="570.2" rx="2.25" ry="1.5" fill="#6A6AE8" stroke="#00000A" stroke-width="1.25"/>
<ellipse cx="273.6" cy="568.6" rx="2.25" ry="1.5" fill="#6A6AE8" stroke="#00000A" stroke-width="1.25"/>
<ellipse cx="280.7" cy="568" rx="2.25" ry="1.5" fill="#6A6AE8" stroke="#00000A" stroke-width="1.25"/>
<ellipse cx="278.9" cy="571.3" rx="2.25" ry="1.5" fill="#6A6AE8" stroke="#00000A" stroke-width="1.25"/>
<ellipse cx="285.5" cy="570.6" rx="2.25" ry="1.5" fill="#6A6AE8" stroke="#00000A" stroke-width="1.25"/>
<ellipse cx="292.5" cy="571" rx="2.25" ry="1.5" fill="#6A6AE8" stroke="#00000A" stroke-width="1.25"/>
<ellipse cx="298" cy="568.6" rx="2.25" ry="1.5" fill="#6A6AE8" stroke="#00000A" stroke-width="1.25"/>
<ellipse cx="283.5" cy="567.5" rx="2.25" ry="1.5" fill="#6A6AE8" stroke="#00000A" stroke-width="1.25"/>
<ellipse cx="290" cy="569" rx="2.25" ry="1.5" fill="#6A6AE8" stroke="#00000A" stroke-width="1.25"/>
<ellipse cx="444.8" cy="454.3" rx="2.2" ry="1.5" fill="#F0A0A0" stroke="#0A0000" stroke-width="1.3"/>
<ellipse cx="441.3" cy="492.6" rx="2.2" ry="1.5" fill="#F0A0A0" stroke="#0A0000" stroke-width="1.3"/>
<ellipse cx="400.5" cy="527.4" rx="2.2" ry="1.5" fill="#F0A0A0" stroke="#0A0000" stroke-width="1.3"/>
<ellipse cx="361.5" cy="531.1" rx="2.2" ry="1.5" fill="#F0A0A0" stroke="#0A0000" stroke-width="1.3"/>
<ellipse cx="382.3" cy="537.7" rx="2.2" ry="1.5" fill="#F0A0A0" stroke="#0A0000" stroke-width="1.3"/>
<ellipse cx="353.5" cy="547.5" rx="2.2" ry="1.5" fill="#F0A0A0" stroke="#0A0000" stroke-width="1.3"/>
<ellipse cx="356.8" cy="547.5" rx="2.2" ry="1.5" fill="#F0A0A0" stroke="#0A0000" stroke-width="1.3"/>
<ellipse cx="365.6" cy="545.1" rx="2.2" ry="1.5" fill="#F0A0A0" stroke="#0A0000" stroke-width="1.3"/>
<ellipse cx="378.8" cy="547.2" rx="2.2" ry="1.5" fill="#F0A0A0" stroke="#0A0000" stroke-width="1.3"/>
<ellipse cx="344.1" cy="556.2" rx="2.2" ry="1.5" fill="#F0A0A0" stroke="#0A0000" stroke-width="1.3"/>
<ellipse cx="353" cy="556.4" rx="2.2" ry="1.5" fill="#F0A0A0" stroke="#0A0000" stroke-width="1.3"/>
<ellipse cx="362" cy="555.4" rx="2.2" ry="1.5" fill="#F0A0A0" stroke="#0A0000" stroke-width="1.3"/>
<ellipse cx="351.6" cy="560.5" rx="2.2" ry="1.5" fill="#F0A0A0" stroke="#0A0000" stroke-width="1.3"/>
<ellipse cx="337.6" cy="562.3" rx="2.2" ry="1.5" fill="#F0A0A0" stroke="#0A0000" stroke-width="1.3"/>
<ellipse cx="335" cy="565.8" rx="2.2" ry="1.5" fill="#F0A0A0" stroke="#0A0000" stroke-width="1.3"/>
<ellipse cx="333.5" cy="568.4" rx="2.2" ry="1.5" fill="#F0A0A0" stroke="#0A0000" stroke-width="1.3"/>
<ellipse cx="336.8" cy="570.5" rx="2.2" ry="1.5" fill="#F0A0A0" stroke="#0A0000" stroke-width="1.3"/>
<ellipse cx="346.7" cy="563.8" rx="2.2" ry="1.5" fill="#F0A0A0" stroke="#0A0000" stroke-width="1.3"/>
<ellipse cx="345.5" cy="565.8" rx="2.2" ry="1.5" fill="#F0A0A0" stroke="#0A0000" stroke-width="1.3"/>
<ellipse cx="341.4" cy="566.7" rx="2.2" ry="1.5" fill="#F0A0A0" stroke="#0A0000" stroke-width="1.3"/>
<ellipse cx="342.9" cy="568.7" rx="2.2" ry="1.5" fill="#F0A0A0" stroke="#0A0000" stroke-width="1.3"/>
<ellipse cx="344.9" cy="571.4" rx="2.2" ry="1.5" fill="#F0A0A0" stroke="#0A0000" stroke-width="1.3"/>
<ellipse cx="347.6" cy="570.2" rx="2.2" ry="1.5" fill="#F0A0A0" stroke="#0A0000" stroke-width="1.3"/>
<ellipse cx="352.5" cy="566.1" rx="2.2" ry="1.5" fill="#F0A0A0" stroke="#0A0000" stroke-width="1.3"/>
<ellipse cx="356.6" cy="565.2" rx="2.2" ry="1.5" fill="#F0A0A0" stroke="#0A0000" stroke-width="1.3"/>
<ellipse cx="355.4" cy="567.8" rx="2.2" ry="1.5" fill="#F0A0A0" stroke="#0A0000" stroke-width="1.3"/>
<ellipse cx="356.6" cy="569.3" rx="2.2" ry="1.5" fill="#F0A0A0" stroke="#0A0000" stroke-width="1.3"/>
<ellipse cx="354" cy="570.8" rx="2.2" ry="1.5" fill="#F0A0A0" stroke="#0A0000" stroke-width="1.3"/>
<ellipse cx="351.6" cy="572.2" rx="2.2" ry="1.5" fill="#F0A0A0" stroke="#0A0000" stroke-width="1.3"/>
<ellipse cx="361" cy="568.1" rx="2.2" ry="1.5" fill="#F0A0A0" stroke="#0A0000" stroke-width="1.3"/>
<ellipse cx="364.5" cy="571.1" rx="2.2" ry="1.5" fill="#F0A0A0" stroke="#0A0000" stroke-width="1.3"/>
<ellipse cx="372.9" cy="568.1" rx="2.2" ry="1.5" fill="#F0A0A0" stroke="#0A0000" stroke-width="1.3"/>
<ellipse cx="375" cy="570.7" rx="2.2" ry="1.5" fill="#F0A0A0" stroke="#0A0000" stroke-width="1.3"/>
<ellipse cx="364.7" cy="571" rx="2.2" ry="1.5" fill="#F0A0A0" stroke="#0A0000" stroke-width="1.3"/>
<ellipse cx="360.7" cy="568" rx="2.2" ry="1.5" fill="#F0A0A0" stroke="#0A0000" stroke-width="1.3"/>
<ellipse cx="339" cy="564" rx="2.2" ry="1.5" fill="#F0A0A0" stroke="#0A0000" stroke-width="1.3"/>
<ellipse cx="349" cy="568" rx="2.2" ry="1.5" fill="#F0A0A0" stroke="#0A0000" stroke-width="1.3"/>
<ellipse cx="334.5" cy="563.5" rx="2.2" ry="1.5" fill="#F0A0A0" stroke="#0A0000" stroke-width="1.3"/>
<ellipse cx="338.5" cy="569.5" rx="2.2" ry="1.5" fill="#F0A0A0" stroke="#0A0000" stroke-width="1.3"/>
<ellipse cx="343.5" cy="563.2" rx="2.2" ry="1.5" fill="#F0A0A0" stroke="#0A0000" stroke-width="1.3"/>
<ellipse cx="350" cy="565" rx="2.2" ry="1.5" fill="#F0A0A0" stroke="#0A0000" stroke-width="1.3"/>
<ellipse cx="353.5" cy="568.5" rx="2.2" ry="1.5" fill="#F0A0A0" stroke="#0A0000" stroke-width="1.3"/>
<ellipse cx="346" cy="568.5" rx="2.2" ry="1.5" fill="#F0A0A0" stroke="#0A0000" stroke-width="1.3"/>
<ellipse cx="340" cy="571.5" rx="2.2" ry="1.5" fill="#F0A0A0" stroke="#0A0000" stroke-width="1.3"/>
<ellipse cx="357.5" cy="567" rx="2.2" ry="1.5" fill="#F0A0A0" stroke="#0A0000" stroke-width="1.3"/>
<text transform="translate(249.75,463.80) scale(1.075,1)" font-size="8.8" fill="#231F20" stroke="#231F20" stroke-width="0.15">RPL13P12</text>
<text transform="translate(229.05,477.80) scale(1.086,1)" font-size="8.8" fill="#231F20" stroke="#231F20" stroke-width="0.15">SLCO1B3</text>
<text transform="translate(247.08,492.50) scale(1.04,1)" font-size="8.8" fill="#231F20" stroke="#231F20" stroke-width="0.15">LHX9</text>
<text transform="translate(258.30,512.40) scale(1.0,1)" font-size="8.8" fill="#231F20" stroke="#231F20" stroke-width="0.15">IL37</text>
<text transform="translate(295.25,488.70) scale(1.08,1)" font-size="8.8" fill="#231F20" stroke="#231F20" stroke-width="0.15">MYBPH</text>
<text transform="translate(295.25,515.00) scale(1.08,1)" font-size="8.8" fill="#231F20" stroke="#231F20" stroke-width="0.15">SHISA3</text>
<text transform="translate(224.30,530.40) scale(1.0,1)" font-size="7.6" fill="#231F20" stroke="#231F20" stroke-width="0.15">PLA2G4E</text>
<text transform="translate(238.50,539.90) scale(1.0,1)" font-size="8.7" fill="#231F20" stroke="#231F20" stroke-width="0.15">C1QL2</text>
<text transform="translate(233.70,550.80) scale(1.0,1)" font-size="7.9" fill="#231F20" stroke="#231F20" stroke-width="0.15">SALL1</text>
<text transform="translate(397.94,455.50) scale(1.1,1)" font-size="8.8" fill="#231F20" stroke="#231F20" stroke-width="0.15">CTAGE4</text>
<text transform="translate(399.82,487.80) scale(1.135,1)" font-size="8.8" fill="#231F20" stroke="#231F20" stroke-width="0.15">TCEB3CL2</text>
<text transform="translate(404.64,522.60) scale(1.1,1)" font-size="8.8" fill="#231F20" stroke="#231F20" stroke-width="0.15">T</text>
<text transform="translate(341.01,525.80) scale(1.146,1)" font-size="8.8" fill="#231F20" stroke="#231F20" stroke-width="0.15">MXRA5P1</text>
<text transform="translate(378.85,536.50) scale(1.084,1)" font-size="8.8" fill="#231F20" stroke="#231F20" stroke-width="0.15">SNORD116−20</text>
<text transform="translate(339.41,541.70) scale(0.98,1)" font-size="8.8" fill="#231F20" stroke="#231F20" stroke-width="0.15">NPTX1</text>
<text transform="translate(389.59,548.90) scale(1.02,1)" font-size="8.8" fill="#231F20" stroke="#231F20" stroke-width="0.15">CLDN6</text>
<path d="M222.3 445.2H456.1V610.5H222.3Z" fill="none" stroke="#111" stroke-width="1.45"/>
<line x1="220.70000000000002" y1="603.30" x2="222.3" y2="603.30" stroke="#222" stroke-width="0.8"/>
<text x="219.40" y="606.50" font-size="9.0" text-anchor="end" fill="#231F20"  stroke="#231F20" stroke-width="0.15">0</text>
<line x1="220.70000000000002" y1="551.65" x2="222.3" y2="551.65" stroke="#222" stroke-width="0.8"/>
<text x="219.40" y="554.85" font-size="9.0" text-anchor="end" fill="#231F20"  stroke="#231F20" stroke-width="0.15">5</text>
<line x1="220.70000000000002" y1="500.00" x2="222.3" y2="500.00" stroke="#222" stroke-width="0.8"/>
<text x="219.40" y="503.20" font-size="9.0" text-anchor="end" fill="#231F20"  stroke="#231F20" stroke-width="0.15">10</text>
<line x1="220.70000000000002" y1="448.35" x2="222.3" y2="448.35" stroke="#222" stroke-width="0.8"/>
<text x="219.40" y="451.55" font-size="9.0" text-anchor="end" fill="#231F20"  stroke="#231F20" stroke-width="0.15">15</text>
<line x1="317.0" y1="610.5" x2="317.0" y2="612.1" stroke="#222" stroke-width="0.8"/>
<line x1="427.4" y1="610.5" x2="427.4" y2="612.1" stroke="#222" stroke-width="0.8"/>
<line x1="447.6" y1="610.5" x2="447.6" y2="612.1" stroke="#222" stroke-width="0.8"/>
<text x="316.80" y="619.60" font-size="8.4" text-anchor="middle" fill="#231F20"  stroke="#231F20" stroke-width="0.15">0</text>
<text x="427.20" y="619.60" font-size="8.4" text-anchor="middle" fill="#231F20"  stroke="#231F20" stroke-width="0.15">10</text>
<text x="447.40" y="619.60" font-size="8.4" text-anchor="middle" fill="#231F20"  stroke="#231F20" stroke-width="0.15">20</text>
<rect x="435.20" y="608.50" width="6.50" height="4.00" fill="#fff" />
<path d="M434.2 612.8L438.4 606.6M438.2 612.8L442.4 606.6" stroke="#222" stroke-width="0.8"/>
<text x="329.60" y="628.00" font-size="9.1" text-anchor="middle" fill="#231F20"  stroke="#231F20" stroke-width="0.15">Log2 (FoldChange)</text>
<text transform="translate(207.0,528.2) rotate(-90)" font-size="8.7" text-anchor="middle" fill="#231F20" stroke="#231F20" stroke-width="0.15">-Log10 (p value)</text>
<text x="460.60" y="433.50" font-size="16.5" text-anchor="start" fill="#231F20"  stroke="#231F20" stroke-width="0.15">d</text>
<rect x="525.60" y="436.20" width="7.20" height="3.80" fill="#A8B8DB" />
<text x="535.00" y="440.30" font-size="9.2" text-anchor="start" fill="#231F20"  stroke="#231F20" stroke-width="0.15">KRAS_MT</text>
<rect x="582.40" y="436.20" width="7.80" height="3.80" fill="#EC7E7E" />
<text x="593.40" y="440.30" font-size="9.2" text-anchor="start" fill="#231F20"  stroke="#231F20" stroke-width="0.15">EGFR_MT</text>
<rect x="605.20" y="448.95" width="61.46" height="5.80" fill="#A8B8DB" />
<text x="600.90" y="455.10" font-size="9.35" text-anchor="end" fill="#231F20"  stroke="#231F20" stroke-width="0.15">Innate immune response</text>
<rect x="605.20" y="464.35" width="54.60" height="5.80" fill="#A8B8DB" />
<text x="600.90" y="467.00" font-size="9.35" text-anchor="end" fill="#231F20"  stroke="#231F20" stroke-width="0.15">Negative regulation of</text>
<text x="600.90" y="475.20" font-size="9.35" text-anchor="end" fill="#231F20"  stroke="#231F20" stroke-width="0.15">epithelial cell proliferation</text>
<rect x="605.20" y="479.45" width="52.42" height="5.80" fill="#A8B8DB" />
<text x="600.90" y="485.60" font-size="9.35" text-anchor="end" fill="#231F20"  stroke="#231F20" stroke-width="0.15">Response to interferon-gamma</text>
<rect x="605.20" y="494.65" width="46.80" height="5.80" fill="#A8B8DB" />
<text x="600.90" y="500.80" font-size="9.35" text-anchor="end" fill="#231F20"  stroke="#231F20" stroke-width="0.15">Response to interleukin-6</text>
<rect x="605.20" y="509.35" width="40.87" height="5.80" fill="#A8B8DB" />
<text x="600.90" y="515.50" font-size="9.35" text-anchor="end" fill="#231F20"  stroke="#231F20" stroke-width="0.15">Inflammatory response</text>
<rect x="605.20" y="524.85" width="39.62" height="5.80" fill="#A8B8DB" />
<text x="600.90" y="529.30" font-size="9.35" text-anchor="end" fill="#231F20"  stroke="#231F20" stroke-width="0.15">Antigen processing and</text>
<text x="600.90" y="537.50" font-size="9.35" text-anchor="end" fill="#231F20"  stroke="#231F20" stroke-width="0.15">presentation</text>
<rect x="605.20" y="541.55" width="58.03" height="5.80" fill="#EC7E7E" />
<text x="600.90" y="547.70" font-size="9.35" text-anchor="end" fill="#231F20"  stroke="#231F20" stroke-width="0.15">Regulation of cell cycle process</text>
<rect x="605.20" y="556.55" width="50.54" height="5.80" fill="#EC7E7E" />
<text x="600.90" y="560.40" font-size="9.35" text-anchor="end" fill="#231F20"  stroke="#231F20" stroke-width="0.15">Negative regulation of</text>
<text x="600.90" y="568.60" font-size="9.35" text-anchor="end" fill="#231F20"  stroke="#231F20" stroke-width="0.15">Wnt signaling pathway</text>
<rect x="605.20" y="572.15" width="39.62" height="5.80" fill="#EC7E7E" />
<text x="600.90" y="578.30" font-size="9.35" text-anchor="end" fill="#231F20"  stroke="#231F20" stroke-width="0.15">Regulation of B cell activation</text>
<text x="604.60" y="591.90" font-size="8.8" text-anchor="middle" fill="#231F20"  stroke="#231F20" stroke-width="0.15">0</text>
<text x="634.80" y="591.90" font-size="8.8" text-anchor="middle" fill="#231F20"  stroke="#231F20" stroke-width="0.15">1.0</text>
<text x="666.90" y="591.90" font-size="8.8" text-anchor="middle" fill="#231F20"  stroke="#231F20" stroke-width="0.15">2.0</text>
<text x="606.0" y="599.6" font-size="9.3" fill="#231F20" stroke="#231F20" stroke-width="0.15">-log10 (<tspan font-style="italic">p</tspan> value)</text>
<text x="3.10" y="642.80" font-size="16.5" text-anchor="start" fill="#231F20"  stroke="#231F20" stroke-width="0.15">e</text>
<rect x="50.20" y="651.20" width="8.30" height="7.00" fill="#FECF85" />
<rect x="58.50" y="651.20" width="8.30" height="7.00" fill="#F3FAD6" />
<rect x="66.80" y="651.20" width="8.30" height="7.00" fill="#FEE090" />
<rect x="75.10" y="651.20" width="8.30" height="7.00" fill="#FFFFBF" />
<rect x="83.40" y="651.20" width="8.30" height="7.00" fill="#F3FAD6" />
<rect x="91.70" y="651.20" width="8.30" height="7.00" fill="#FEECA3" />
<rect x="100.00" y="651.20" width="8.30" height="7.00" fill="#FFF9B6" />
<rect x="108.30" y="651.20" width="8.30" height="7.00" fill="#F3FAD6" />
<rect x="116.60" y="651.20" width="8.30" height="7.00" fill="#FFF6B1" />
<rect x="124.90" y="651.20" width="8.30" height="7.00" fill="#FFF9B6" />
<rect x="133.20" y="651.20" width="8.30" height="7.00" fill="#FEE090" />
<rect x="141.50" y="651.20" width="8.30" height="7.00" fill="#FEE699" />
<rect x="149.80" y="651.20" width="8.30" height="7.00" fill="#DFF3F8" />
<rect x="158.10" y="651.20" width="8.30" height="7.00" fill="#F3FAD6" />
<rect x="166.40" y="651.20" width="8.30" height="7.00" fill="#E7F6EC" />
<rect x="174.70" y="651.20" width="8.30" height="7.00" fill="#FFFFBF" />
<rect x="183.00" y="651.20" width="8.30" height="7.00" fill="#E3F4F2" />
<rect x="191.30" y="651.20" width="8.30" height="7.00" fill="#F3FAD6" />
<rect x="199.60" y="651.20" width="8.30" height="7.00" fill="#FEE699" />
<rect x="207.90" y="651.20" width="8.30" height="7.00" fill="#FFF9B6" />
<rect x="216.20" y="651.20" width="8.30" height="7.00" fill="#FEECA3" />
<rect x="224.50" y="651.20" width="8.30" height="7.00" fill="#FFF6B1" />
<rect x="232.80" y="651.20" width="8.30" height="7.00" fill="#FFFCBA" />
<rect x="241.10" y="651.20" width="8.30" height="7.00" fill="#FFF6B1" />
<rect x="249.40" y="651.20" width="8.30" height="7.00" fill="#FEECA3" />
<rect x="257.70" y="651.20" width="8.30" height="7.00" fill="#ECF8E1" />
<rect x="266.00" y="651.20" width="8.30" height="7.00" fill="#FED88A" />
<rect x="274.30" y="651.20" width="8.30" height="7.00" fill="#FFF6B1" />
<rect x="282.60" y="651.20" width="8.30" height="7.00" fill="#FFFCBA" />
<rect x="290.90" y="651.20" width="8.30" height="7.00" fill="#F3FAD6" />
<rect x="299.20" y="651.20" width="8.30" height="7.00" fill="#F3FAD6" />
<rect x="307.50" y="651.20" width="8.30" height="7.00" fill="#FFF9B6" />
<rect x="315.80" y="651.20" width="8.30" height="7.00" fill="#FEE699" />
<rect x="324.10" y="651.20" width="8.30" height="7.00" fill="#FFF6B1" />
<rect x="332.40" y="651.20" width="8.30" height="7.00" fill="#F0F9DC" />
<rect x="340.70" y="651.20" width="8.30" height="7.00" fill="#FEECA3" />
<rect x="349.00" y="651.20" width="8.30" height="7.00" fill="#FFF9B6" />
<rect x="359.30" y="651.20" width="7.50" height="7.00" fill="#00CC55" />
<text x="46.60" y="657.80" font-size="8.5" text-anchor="end" fill="#231F20" class="ns">P1T1</text>
<rect x="50.20" y="658.20" width="8.30" height="7.00" fill="#FEE99E" />
<rect x="58.50" y="658.20" width="8.30" height="7.00" fill="#F6FBD0" />
<rect x="66.80" y="658.20" width="8.30" height="7.00" fill="#F9FDCA" />
<rect x="75.10" y="658.20" width="8.30" height="7.00" fill="#E7F6EC" />
<rect x="83.40" y="658.20" width="8.30" height="7.00" fill="#F3FAD6" />
<rect x="91.70" y="658.20" width="8.30" height="7.00" fill="#FEE99E" />
<rect x="100.00" y="658.20" width="8.30" height="7.00" fill="#FFF3AC" />
<rect x="108.30" y="658.20" width="8.30" height="7.00" fill="#F6FBD0" />
<rect x="116.60" y="658.20" width="8.30" height="7.00" fill="#FEECA3" />
<rect x="124.90" y="658.20" width="8.30" height="7.00" fill="#FFF6B1" />
<rect x="133.20" y="658.20" width="8.30" height="7.00" fill="#FEE395" />
<rect x="141.50" y="658.20" width="8.30" height="7.00" fill="#FEECA3" />
<rect x="149.80" y="658.20" width="8.30" height="7.00" fill="#F0F9DC" />
<rect x="158.10" y="658.20" width="8.30" height="7.00" fill="#FEECA3" />
<rect x="166.40" y="658.20" width="8.30" height="7.00" fill="#DFF3F8" />
<rect x="174.70" y="658.20" width="8.30" height="7.00" fill="#FEF0A8" />
<rect x="183.00" y="658.20" width="8.30" height="7.00" fill="#F3FAD6" />
<rect x="191.30" y="658.20" width="8.30" height="7.00" fill="#F0F9DC" />
<rect x="199.60" y="658.20" width="8.30" height="7.00" fill="#FEECA3" />
<rect x="207.90" y="658.20" width="8.30" height="7.00" fill="#FFF6B1" />
<rect x="216.20" y="658.20" width="8.30" height="7.00" fill="#FEE395" />
<rect x="224.50" y="658.20" width="8.30" height="7.00" fill="#FEE395" />
<rect x="232.80" y="658.20" width="8.30" height="7.00" fill="#F9FDCA" />
<rect x="241.10" y="658.20" width="8.30" height="7.00" fill="#FEE395" />
<rect x="249.40" y="658.20" width="8.30" height="7.00" fill="#FEE699" />
<rect x="257.70" y="658.20" width="8.30" height="7.00" fill="#E7F6EC" />
<rect x="266.00" y="658.20" width="8.30" height="7.00" fill="#FC8D59" />
<rect x="274.30" y="658.20" width="8.30" height="7.00" fill="#E7F6EC" />
<rect x="282.60" y="658.20" width="8.30" height="7.00" fill="#FDC780" />
<rect x="290.90" y="658.20" width="8.30" height="7.00" fill="#F3FAD6" />
<rect x="299.20" y="658.20" width="8.30" height="7.00" fill="#FFF6B1" />
<rect x="307.50" y="658.20" width="8.30" height="7.00" fill="#FFF9B6" />
<rect x="315.80" y="658.20" width="8.30" height="7.00" fill="#FEE99E" />
<rect x="324.10" y="658.20" width="8.30" height="7.00" fill="#F3FAD6" />
<rect x="332.40" y="658.20" width="8.30" height="7.00" fill="#F6FBD0" />
<rect x="340.70" y="658.20" width="8.30" height="7.00" fill="#FFFCBA" />
<rect x="349.00" y="658.20" width="8.30" height="7.00" fill="#FFF6B1" />
<rect x="359.30" y="658.20" width="7.50" height="7.00" fill="#00CC55" />
<text x="46.60" y="664.80" font-size="8.5" text-anchor="end" fill="#231F20" class="ns">P1T2</text>
<rect x="50.20" y="665.20" width="8.30" height="7.00" fill="#FFF9B6" />
<rect x="58.50" y="665.20" width="8.30" height="7.00" fill="#FEE395" />
<rect x="66.80" y="665.20" width="8.30" height="7.00" fill="#FFFCBA" />
<rect x="75.10" y="665.20" width="8.30" height="7.00" fill="#F0F9DC" />
<rect x="83.40" y="665.20" width="8.30" height="7.00" fill="#F0F9DC" />
<rect x="91.70" y="665.20" width="8.30" height="7.00" fill="#FFF9B6" />
<rect x="100.00" y="665.20" width="8.30" height="7.00" fill="#FFF9B6" />
<rect x="108.30" y="665.20" width="8.30" height="7.00" fill="#F3FAD6" />
<rect x="116.60" y="665.20" width="8.30" height="7.00" fill="#FFFCBA" />
<rect x="124.90" y="665.20" width="8.30" height="7.00" fill="#FFF9B6" />
<rect x="133.20" y="665.20" width="8.30" height="7.00" fill="#FEECA3" />
<rect x="141.50" y="665.20" width="8.30" height="7.00" fill="#FFF6B1" />
<rect x="149.80" y="665.20" width="8.30" height="7.00" fill="#F3FAD6" />
<rect x="158.10" y="665.20" width="8.30" height="7.00" fill="#FEE99E" />
<rect x="166.40" y="665.20" width="8.30" height="7.00" fill="#FFFCBA" />
<rect x="174.70" y="665.20" width="8.30" height="7.00" fill="#FEE699" />
<rect x="183.00" y="665.20" width="8.30" height="7.00" fill="#FEE699" />
<rect x="191.30" y="665.20" width="8.30" height="7.00" fill="#F6FBD0" />
<rect x="199.60" y="665.20" width="8.30" height="7.00" fill="#FFFCBA" />
<rect x="207.90" y="665.20" width="8.30" height="7.00" fill="#FFFCBA" />
<rect x="216.20" y="665.20" width="8.30" height="7.00" fill="#FEECA3" />
<rect x="224.50" y="665.20" width="8.30" height="7.00" fill="#FEE090" />
<rect x="232.80" y="665.20" width="8.30" height="7.00" fill="#FDA66A" />
<rect x="241.10" y="665.20" width="8.30" height="7.00" fill="#FFF6B1" />
<rect x="249.40" y="665.20" width="8.30" height="7.00" fill="#FFF3AC" />
<rect x="257.70" y="665.20" width="8.30" height="7.00" fill="#F3FAD6" />
<rect x="266.00" y="665.20" width="8.30" height="7.00" fill="#FDB674" />
<rect x="274.30" y="665.20" width="8.30" height="7.00" fill="#FECF85" />
<rect x="282.60" y="665.20" width="8.30" height="7.00" fill="#FEE699" />
<rect x="290.90" y="665.20" width="8.30" height="7.00" fill="#FFFCBA" />
<rect x="299.20" y="665.20" width="8.30" height="7.00" fill="#FFF3AC" />
<rect x="307.50" y="665.20" width="8.30" height="7.00" fill="#F9FDCA" />
<rect x="315.80" y="665.20" width="8.30" height="7.00" fill="#FFFCBA" />
<rect x="324.10" y="665.20" width="8.30" height="7.00" fill="#FFF6B1" />
<rect x="332.40" y="665.20" width="8.30" height="7.00" fill="#FFF3AC" />
<rect x="340.70" y="665.20" width="8.30" height="7.00" fill="#F6FBD0" />
<rect x="349.00" y="665.20" width="8.30" height="7.00" fill="#FFF6B1" />
<rect x="359.30" y="665.20" width="7.50" height="7.00" fill="#F8807A" />
<text x="46.60" y="671.80" font-size="8.5" text-anchor="end" fill="#231F20" class="ns">P1T3</text>
<line x1="50.20" y1="651.20" x2="50.20" y2="672.20" stroke="#A2A2A2" stroke-width="0.9"/>
<line x1="58.50" y1="651.20" x2="58.50" y2="672.20" stroke="#A2A2A2" stroke-width="0.9"/>
<line x1="66.80" y1="651.20" x2="66.80" y2="672.20" stroke="#A2A2A2" stroke-width="0.9"/>
<line x1="75.10" y1="651.20" x2="75.10" y2="672.20" stroke="#A2A2A2" stroke-width="0.9"/>
<line x1="83.40" y1="651.20" x2="83.40" y2="672.20" stroke="#A2A2A2" stroke-width="0.9"/>
<line x1="91.70" y1="651.20" x2="91.70" y2="672.20" stroke="#A2A2A2" stroke-width="0.9"/>
<line x1="100.00" y1="651.20" x2="100.00" y2="672.20" stroke="#A2A2A2" stroke-width="0.9"/>
<line x1="108.30" y1="651.20" x2="108.30" y2="672.20" stroke="#A2A2A2" stroke-width="0.9"/>
<line x1="116.60" y1="651.20" x2="116.60" y2="672.20" stroke="#A2A2A2" stroke-width="0.9"/>
<line x1="124.90" y1="651.20" x2="124.90" y2="672.20" stroke="#A2A2A2" stroke-width="0.9"/>
<line x1="133.20" y1="651.20" x2="133.20" y2="672.20" stroke="#A2A2A2" stroke-width="0.9"/>
<line x1="141.50" y1="651.20" x2="141.50" y2="672.20" stroke="#A2A2A2" stroke-width="0.9"/>
<line x1="149.80" y1="651.20" x2="149.80" y2="672.20" stroke="#A2A2A2" stroke-width="0.9"/>
<line x1="158.10" y1="651.20" x2="158.10" y2="672.20" stroke="#A2A2A2" stroke-width="0.9"/>
<line x1="166.40" y1="651.20" x2="166.40" y2="672.20" stroke="#A2A2A2" stroke-width="0.9"/>
<line x1="174.70" y1="651.20" x2="174.70" y2="672.20" stroke="#A2A2A2" stroke-width="0.9"/>
<line x1="183.00" y1="651.20" x2="183.00" y2="672.20" stroke="#A2A2A2" stroke-width="0.9"/>
<line x1="191.30" y1="651.20" x2="191.30" y2="672.20" stroke="#A2A2A2" stroke-width="0.9"/>
<line x1="199.60" y1="651.20" x2="199.60" y2="672.20" stroke="#A2A2A2" stroke-width="0.9"/>
<line x1="207.90" y1="651.20" x2="207.90" y2="672.20" stroke="#A2A2A2" stroke-width="0.9"/>
<line x1="216.20" y1="651.20" x2="216.20" y2="672.20" stroke="#A2A2A2" stroke-width="0.9"/>
<line x1="224.50" y1="651.20" x2="224.50" y2="672.20" stroke="#A2A2A2" stroke-width="0.9"/>
<line x1="232.80" y1="651.20" x2="232.80" y2="672.20" stroke="#A2A2A2" stroke-width="0.9"/>
<line x1="241.10" y1="651.20" x2="241.10" y2="672.20" stroke="#A2A2A2" stroke-width="0.9"/>
<line x1="249.40" y1="651.20" x2="249.40" y2="672.20" stroke="#A2A2A2" stroke-width="0.9"/>
<line x1="257.70" y1="651.20" x2="257.70" y2="672.20" stroke="#A2A2A2" stroke-width="0.9"/>
<line x1="266.00" y1="651.20" x2="266.00" y2="672.20" stroke="#A2A2A2" stroke-width="0.9"/>
<line x1="274.30" y1="651.20" x2="274.30" y2="672.20" stroke="#A2A2A2" stroke-width="0.9"/>
<line x1="282.60" y1="651.20" x2="282.60" y2="672.20" stroke="#A2A2A2" stroke-width="0.9"/>
<line x1="290.90" y1="651.20" x2="290.90" y2="672.20" stroke="#A2A2A2" stroke-width="0.9"/>
<line x1="299.20" y1="651.20" x2="299.20" y2="672.20" stroke="#A2A2A2" stroke-width="0.9"/>
<line x1="307.50" y1="651.20" x2="307.50" y2="672.20" stroke="#A2A2A2" stroke-width="0.9"/>
<line x1="315.80" y1="651.20" x2="315.80" y2="672.20" stroke="#A2A2A2" stroke-width="0.9"/>
<line x1="324.10" y1="651.20" x2="324.10" y2="672.20" stroke="#A2A2A2" stroke-width="0.9"/>
<line x1="332.40" y1="651.20" x2="332.40" y2="672.20" stroke="#A2A2A2" stroke-width="0.9"/>
<line x1="340.70" y1="651.20" x2="340.70" y2="672.20" stroke="#A2A2A2" stroke-width="0.9"/>
<line x1="349.00" y1="651.20" x2="349.00" y2="672.20" stroke="#A2A2A2" stroke-width="0.9"/>
<line x1="357.30" y1="651.20" x2="357.30" y2="672.20" stroke="#A2A2A2" stroke-width="0.9"/>
<line x1="50.20" y1="651.20" x2="357.30" y2="651.20" stroke="#A2A2A2" stroke-width="0.9"/>
<line x1="359.3" y1="651.20" x2="366.8" y2="651.20" stroke="#A2A2A2" stroke-width="0.9"/>
<line x1="50.20" y1="658.20" x2="357.30" y2="658.20" stroke="#A2A2A2" stroke-width="0.9"/>
<line x1="359.3" y1="658.20" x2="366.8" y2="658.20" stroke="#A2A2A2" stroke-width="0.9"/>
<line x1="50.20" y1="665.20" x2="357.30" y2="665.20" stroke="#A2A2A2" stroke-width="0.9"/>
<line x1="359.3" y1="665.20" x2="366.8" y2="665.20" stroke="#A2A2A2" stroke-width="0.9"/>
<line x1="50.20" y1="672.20" x2="357.30" y2="672.20" stroke="#A2A2A2" stroke-width="0.9"/>
<line x1="359.3" y1="672.20" x2="366.8" y2="672.20" stroke="#A2A2A2" stroke-width="0.9"/>
<line x1="359.3" y1="651.20" x2="359.3" y2="672.20" stroke="#A2A2A2" stroke-width="0.9"/>
<line x1="366.8" y1="651.20" x2="366.8" y2="672.20" stroke="#A2A2A2" stroke-width="0.9"/>
<rect x="50.20" y="674.90" width="8.30" height="7.00" fill="#FEE99E" />
<rect x="58.50" y="674.90" width="8.30" height="7.00" fill="#F6FBD0" />
<rect x="66.80" y="674.90" width="8.30" height="7.00" fill="#E6553B" />
<rect x="75.10" y="674.90" width="8.30" height="7.00" fill="#FC9E64" />
<rect x="83.40" y="674.90" width="8.30" height="7.00" fill="#FC8D59" />
<rect x="91.70" y="674.90" width="8.30" height="7.00" fill="#FDC780" />
<rect x="100.00" y="674.90" width="8.30" height="7.00" fill="#FDAE6F" />
<rect x="108.30" y="674.90" width="8.30" height="7.00" fill="#FDBF7A" />
<rect x="116.60" y="674.90" width="8.30" height="7.00" fill="#FDA66A" />
<rect x="124.90" y="674.90" width="8.30" height="7.00" fill="#FC9E64" />
<rect x="133.20" y="674.90" width="8.30" height="7.00" fill="#FECF85" />
<rect x="141.50" y="674.90" width="8.30" height="7.00" fill="#FEE090" />
<rect x="149.80" y="674.90" width="8.30" height="7.00" fill="#FED88A" />
<rect x="158.10" y="674.90" width="8.30" height="7.00" fill="#FDC780" />
<rect x="166.40" y="674.90" width="8.30" height="7.00" fill="#DE4331" />
<rect x="174.70" y="674.90" width="8.30" height="7.00" fill="#FDBF7A" />
<rect x="183.00" y="674.90" width="8.30" height="7.00" fill="#FC9E64" />
<rect x="191.30" y="674.90" width="8.30" height="7.00" fill="#FDA66A" />
<rect x="199.60" y="674.90" width="8.30" height="7.00" fill="#FEE395" />
<rect x="207.90" y="674.90" width="8.30" height="7.00" fill="#FDAE6F" />
<rect x="216.20" y="674.90" width="8.30" height="7.00" fill="#FDC780" />
<rect x="224.50" y="674.90" width="8.30" height="7.00" fill="#FEE395" />
<rect x="232.80" y="674.90" width="8.30" height="7.00" fill="#FFF6B1" />
<rect x="241.10" y="674.90" width="8.30" height="7.00" fill="#FEE090" />
<rect x="249.40" y="674.90" width="8.30" height="7.00" fill="#FDBF7A" />
<rect x="257.70" y="674.90" width="8.30" height="7.00" fill="#F3FAD6" />
<rect x="266.00" y="674.90" width="8.30" height="7.00" fill="#FEECA3" />
<rect x="274.30" y="674.90" width="8.30" height="7.00" fill="#FEE699" />
<rect x="282.60" y="674.90" width="8.30" height="7.00" fill="#FEE699" />
<rect x="290.90" y="674.90" width="8.30" height="7.00" fill="#F3FAD6" />
<rect x="299.20" y="674.90" width="8.30" height="7.00" fill="#FDAE6F" />
<rect x="307.50" y="674.90" width="8.30" height="7.00" fill="#FDBF7A" />
<rect x="315.80" y="674.90" width="8.30" height="7.00" fill="#FDA66A" />
<rect x="324.10" y="674.90" width="8.30" height="7.00" fill="#FECF85" />
<rect x="332.40" y="674.90" width="8.30" height="7.00" fill="#F6FBD0" />
<rect x="340.70" y="674.90" width="8.30" height="7.00" fill="#FECF85" />
<rect x="349.00" y="674.90" width="8.30" height="7.00" fill="#FDAE6F" />
<rect x="359.30" y="674.90" width="7.50" height="7.00" fill="#7FAEF8" />
<text x="46.60" y="681.50" font-size="8.5" text-anchor="end" fill="#231F20" class="ns">P2T1</text>
<rect x="50.20" y="681.90" width="8.30" height="7.00" fill="#FFF9B6" />
<rect x="58.50" y="681.90" width="8.30" height="7.00" fill="#ECF8E1" />
<rect x="66.80" y="681.90" width="8.30" height="7.00" fill="#FDA66A" />
<rect x="75.10" y="681.90" width="8.30" height="7.00" fill="#FC955E" />
<rect x="83.40" y="681.90" width="8.30" height="7.00" fill="#F88454" />
<rect x="91.70" y="681.90" width="8.30" height="7.00" fill="#FDB674" />
<rect x="100.00" y="681.90" width="8.30" height="7.00" fill="#FDB674" />
<rect x="108.30" y="681.90" width="8.30" height="7.00" fill="#FDC780" />
<rect x="116.60" y="681.90" width="8.30" height="7.00" fill="#FED88A" />
<rect x="124.90" y="681.90" width="8.30" height="7.00" fill="#FDBF7A" />
<rect x="133.20" y="681.90" width="8.30" height="7.00" fill="#FFF9B6" />
<rect x="141.50" y="681.90" width="8.30" height="7.00" fill="#FDAE6F" />
<rect x="149.80" y="681.90" width="8.30" height="7.00" fill="#FEE090" />
<rect x="158.10" y="681.90" width="8.30" height="7.00" fill="#FDAE6F" />
<rect x="166.40" y="681.90" width="8.30" height="7.00" fill="#FEE395" />
<rect x="174.70" y="681.90" width="8.30" height="7.00" fill="#FDAE6F" />
<rect x="183.00" y="681.90" width="8.30" height="7.00" fill="#FED88A" />
<rect x="191.30" y="681.90" width="8.30" height="7.00" fill="#EA5E40" />
<rect x="199.60" y="681.90" width="8.30" height="7.00" fill="#FEE090" />
<rect x="207.90" y="681.90" width="8.30" height="7.00" fill="#FDAE6F" />
<rect x="216.20" y="681.90" width="8.30" height="7.00" fill="#FDB674" />
<rect x="224.50" y="681.90" width="8.30" height="7.00" fill="#FED88A" />
<rect x="232.80" y="681.90" width="8.30" height="7.00" fill="#E3F4F2" />
<rect x="241.10" y="681.90" width="8.30" height="7.00" fill="#FDAE6F" />
<rect x="249.40" y="681.90" width="8.30" height="7.00" fill="#FFF6B1" />
<rect x="257.70" y="681.90" width="8.30" height="7.00" fill="#F3FAD6" />
<rect x="266.00" y="681.90" width="8.30" height="7.00" fill="#FECF85" />
<rect x="274.30" y="681.90" width="8.30" height="7.00" fill="#FFF9B6" />
<rect x="282.60" y="681.90" width="8.30" height="7.00" fill="#FED88A" />
<rect x="290.90" y="681.90" width="8.30" height="7.00" fill="#F0F9DC" />
<rect x="299.20" y="681.90" width="8.30" height="7.00" fill="#FEE395" />
<rect x="307.50" y="681.90" width="8.30" height="7.00" fill="#FED88A" />
<rect x="315.80" y="681.90" width="8.30" height="7.00" fill="#FEE395" />
<rect x="324.10" y="681.90" width="8.30" height="7.00" fill="#F3FAD6" />
<rect x="332.40" y="681.90" width="8.30" height="7.00" fill="#E7F6EC" />
<rect x="340.70" y="681.90" width="8.30" height="7.00" fill="#FECF85" />
<rect x="349.00" y="681.90" width="8.30" height="7.00" fill="#FED88A" />
<rect x="359.30" y="681.90" width="7.50" height="7.00" fill="#00CC55" />
<text x="46.60" y="688.50" font-size="8.5" text-anchor="end" fill="#231F20" class="ns">P2T2</text>
<rect x="50.20" y="688.90" width="8.30" height="7.00" fill="#FED88A" />
<rect x="58.50" y="688.90" width="8.30" height="7.00" fill="#F3FAD6" />
<rect x="66.80" y="688.90" width="8.30" height="7.00" fill="#FEE699" />
<rect x="75.10" y="688.90" width="8.30" height="7.00" fill="#FFF9B6" />
<rect x="83.40" y="688.90" width="8.30" height="7.00" fill="#FEE395" />
<rect x="91.70" y="688.90" width="8.30" height="7.00" fill="#FDBF7A" />
<rect x="100.00" y="688.90" width="8.30" height="7.00" fill="#FEE395" />
<rect x="108.30" y="688.90" width="8.30" height="7.00" fill="#F6FBD0" />
<rect x="116.60" y="688.90" width="8.30" height="7.00" fill="#FFFCBA" />
<rect x="124.90" y="688.90" width="8.30" height="7.00" fill="#F6FBD0" />
<rect x="133.20" y="688.90" width="8.30" height="7.00" fill="#FFFCBA" />
<rect x="141.50" y="688.90" width="8.30" height="7.00" fill="#FEE090" />
<rect x="149.80" y="688.90" width="8.30" height="7.00" fill="#F3FAD6" />
<rect x="158.10" y="688.90" width="8.30" height="7.00" fill="#FFF9B6" />
<rect x="166.40" y="688.90" width="8.30" height="7.00" fill="#F9FDCA" />
<rect x="174.70" y="688.90" width="8.30" height="7.00" fill="#FFF6B1" />
<rect x="183.00" y="688.90" width="8.30" height="7.00" fill="#FEECA3" />
<rect x="191.30" y="688.90" width="8.30" height="7.00" fill="#FFF9B6" />
<rect x="199.60" y="688.90" width="8.30" height="7.00" fill="#FEF0A8" />
<rect x="207.90" y="688.90" width="8.30" height="7.00" fill="#F3FAD6" />
<rect x="216.20" y="688.90" width="8.30" height="7.00" fill="#F3FAD6" />
<rect x="224.50" y="688.90" width="8.30" height="7.00" fill="#FFF9B6" />
<rect x="232.80" y="688.90" width="8.30" height="7.00" fill="#FFFCBA" />
<rect x="241.10" y="688.90" width="8.30" height="7.00" fill="#F9FDCA" />
<rect x="249.40" y="688.90" width="8.30" height="7.00" fill="#FEE090" />
<rect x="257.70" y="688.90" width="8.30" height="7.00" fill="#F0F9DC" />
<rect x="266.00" y="688.90" width="8.30" height="7.00" fill="#FFF6B1" />
<rect x="274.30" y="688.90" width="8.30" height="7.00" fill="#FEF0A8" />
<rect x="282.60" y="688.90" width="8.30" height="7.00" fill="#FEE699" />
<rect x="290.90" y="688.90" width="8.30" height="7.00" fill="#F3FAD6" />
<rect x="299.20" y="688.90" width="8.30" height="7.00" fill="#FFF6B1" />
<rect x="307.50" y="688.90" width="8.30" height="7.00" fill="#FFF3AC" />
<rect x="315.80" y="688.90" width="8.30" height="7.00" fill="#FEF0A8" />
<rect x="324.10" y="688.90" width="8.30" height="7.00" fill="#FFF9B6" />
<rect x="332.40" y="688.90" width="8.30" height="7.00" fill="#F6FBD0" />
<rect x="340.70" y="688.90" width="8.30" height="7.00" fill="#FEF0A8" />
<rect x="349.00" y="688.90" width="8.30" height="7.00" fill="#FFF6B1" />
<rect x="359.30" y="688.90" width="7.50" height="7.00" fill="#00CC55" />
<text x="46.60" y="695.50" font-size="8.5" text-anchor="end" fill="#231F20" class="ns">P2T3</text>
<line x1="50.20" y1="674.90" x2="50.20" y2="695.90" stroke="#A2A2A2" stroke-width="0.9"/>
<line x1="58.50" y1="674.90" x2="58.50" y2="695.90" stroke="#A2A2A2" stroke-width="0.9"/>
<line x1="66.80" y1="674.90" x2="66.80" y2="695.90" stroke="#A2A2A2" stroke-width="0.9"/>
<line x1="75.10" y1="674.90" x2="75.10" y2="695.90" stroke="#A2A2A2" stroke-width="0.9"/>
<line x1="83.40" y1="674.90" x2="83.40" y2="695.90" stroke="#A2A2A2" stroke-width="0.9"/>
<line x1="91.70" y1="674.90" x2="91.70" y2="695.90" stroke="#A2A2A2" stroke-width="0.9"/>
<line x1="100.00" y1="674.90" x2="100.00" y2="695.90" stroke="#A2A2A2" stroke-width="0.9"/>
<line x1="108.30" y1="674.90" x2="108.30" y2="695.90" stroke="#A2A2A2" stroke-width="0.9"/>
<line x1="116.60" y1="674.90" x2="116.60" y2="695.90" stroke="#A2A2A2" stroke-width="0.9"/>
<line x1="124.90" y1="674.90" x2="124.90" y2="695.90" stroke="#A2A2A2" stroke-width="0.9"/>
<line x1="133.20" y1="674.90" x2="133.20" y2="695.90" stroke="#A2A2A2" stroke-width="0.9"/>
<line x1="141.50" y1="674.90" x2="141.50" y2="695.90" stroke="#A2A2A2" stroke-width="0.9"/>
<line x1="149.80" y1="674.90" x2="149.80" y2="695.90" stroke="#A2A2A2" stroke-width="0.9"/>
<line x1="158.10" y1="674.90" x2="158.10" y2="695.90" stroke="#A2A2A2" stroke-width="0.9"/>
<line x1="166.40" y1="674.90" x2="166.40" y2="695.90" stroke="#A2A2A2" stroke-width="0.9"/>
<line x1="174.70" y1="674.90" x2="174.70" y2="695.90" stroke="#A2A2A2" stroke-width="0.9"/>
<line x1="183.00" y1="674.90" x2="183.00" y2="695.90" stroke="#A2A2A2" stroke-width="0.9"/>
<line x1="191.30" y1="674.90" x2="191.30" y2="695.90" stroke="#A2A2A2" stroke-width="0.9"/>
<line x1="199.60" y1="674.90" x2="199.60" y2="695.90" stroke="#A2A2A2" stroke-width="0.9"/>
<line x1="207.90" y1="674.90" x2="207.90" y2="695.90" stroke="#A2A2A2" stroke-width="0.9"/>
<line x1="216.20" y1="674.90" x2="216.20" y2="695.90" stroke="#A2A2A2" stroke-width="0.9"/>
<line x1="224.50" y1="674.90" x2="224.50" y2="695.90" stroke="#A2A2A2" stroke-width="0.9"/>
<line x1="232.80" y1="674.90" x2="232.80" y2="695.90" stroke="#A2A2A2" stroke-width="0.9"/>
<line x1="241.10" y1="674.90" x2="241.10" y2="695.90" stroke="#A2A2A2" stroke-width="0.9"/>
<line x1="249.40" y1="674.90" x2="249.40" y2="695.90" stroke="#A2A2A2" stroke-width="0.9"/>
<line x1="257.70" y1="674.90" x2="257.70" y2="695.90" stroke="#A2A2A2" stroke-width="0.9"/>
<line x1="266.00" y1="674.90" x2="266.00" y2="695.90" stroke="#A2A2A2" stroke-width="0.9"/>
<line x1="274.30" y1="674.90" x2="274.30" y2="695.90" stroke="#A2A2A2" stroke-width="0.9"/>
<line x1="282.60" y1="674.90" x2="282.60" y2="695.90" stroke="#A2A2A2" stroke-width="0.9"/>
<line x1="290.90" y1="674.90" x2="290.90" y2="695.90" stroke="#A2A2A2" stroke-width="0.9"/>
<line x1="299.20" y1="674.90" x2="299.20" y2="695.90" stroke="#A2A2A2" stroke-width="0.9"/>
<line x1="307.50" y1="674.90" x2="307.50" y2="695.90" stroke="#A2A2A2" stroke-width="0.9"/>
<line x1="315.80" y1="674.90" x2="315.80" y2="695.90" stroke="#A2A2A2" stroke-width="0.9"/>
<line x1="324.10" y1="674.90" x2="324.10" y2="695.90" stroke="#A2A2A2" stroke-width="0.9"/>
<line x1="332.40" y1="674.90" x2="332.40" y2="695.90" stroke="#A2A2A2" stroke-width="0.9"/>
<line x1="340.70" y1="674.90" x2="340.70" y2="695.90" stroke="#A2A2A2" stroke-width="0.9"/>
<line x1="349.00" y1="674.90" x2="349.00" y2="695.90" stroke="#A2A2A2" stroke-width="0.9"/>
<line x1="357.30" y1="674.90" x2="357.30" y2="695.90" stroke="#A2A2A2" stroke-width="0.9"/>
<line x1="50.20" y1="674.90" x2="357.30" y2="674.90" stroke="#A2A2A2" stroke-width="0.9"/>
<line x1="359.3" y1="674.90" x2="366.8" y2="674.90" stroke="#A2A2A2" stroke-width="0.9"/>
<line x1="50.20" y1="681.90" x2="357.30" y2="681.90" stroke="#A2A2A2" stroke-width="0.9"/>
<line x1="359.3" y1="681.90" x2="366.8" y2="681.90" stroke="#A2A2A2" stroke-width="0.9"/>
<line x1="50.20" y1="688.90" x2="357.30" y2="688.90" stroke="#A2A2A2" stroke-width="0.9"/>
<line x1="359.3" y1="688.90" x2="366.8" y2="688.90" stroke="#A2A2A2" stroke-width="0.9"/>
<line x1="50.20" y1="695.90" x2="357.30" y2="695.90" stroke="#A2A2A2" stroke-width="0.9"/>
<line x1="359.3" y1="695.90" x2="366.8" y2="695.90" stroke="#A2A2A2" stroke-width="0.9"/>
<line x1="359.3" y1="674.90" x2="359.3" y2="695.90" stroke="#A2A2A2" stroke-width="0.9"/>
<line x1="366.8" y1="674.90" x2="366.8" y2="695.90" stroke="#A2A2A2" stroke-width="0.9"/>
<rect x="50.20" y="698.60" width="8.30" height="7.00" fill="#F0F9DC" />
<rect x="58.50" y="698.60" width="8.30" height="7.00" fill="#F0F9DC" />
<rect x="66.80" y="698.60" width="8.30" height="7.00" fill="#BCDBEB" />
<rect x="75.10" y="698.60" width="8.30" height="7.00" fill="#DFF3F8" />
<rect x="83.40" y="698.60" width="8.30" height="7.00" fill="#BCDBEB" />
<rect x="91.70" y="698.60" width="8.30" height="7.00" fill="#BCDBEB" />
<rect x="100.00" y="698.60" width="8.30" height="7.00" fill="#90BEDA" />
<rect x="108.30" y="698.60" width="8.30" height="7.00" fill="#CEE7F1" />
<rect x="116.60" y="698.60" width="8.30" height="7.00" fill="#B3D5E8" />
<rect x="124.90" y="698.60" width="8.30" height="7.00" fill="#DFF3F8" />
<rect x="133.20" y="698.60" width="8.30" height="7.00" fill="#DFF3F8" />
<rect x="141.50" y="698.60" width="8.30" height="7.00" fill="#E3F4F2" />
<rect x="149.80" y="698.60" width="8.30" height="7.00" fill="#F0F9DC" />
<rect x="158.10" y="698.60" width="8.30" height="7.00" fill="#F0F9DC" />
<rect x="166.40" y="698.60" width="8.30" height="7.00" fill="#FFFFBF" />
<rect x="174.70" y="698.60" width="8.30" height="7.00" fill="#ECF8E1" />
<rect x="183.00" y="698.60" width="8.30" height="7.00" fill="#F6FBD0" />
<rect x="191.30" y="698.60" width="8.30" height="7.00" fill="#DFF3F8" />
<rect x="199.60" y="698.60" width="8.30" height="7.00" fill="#B3D5E8" />
<rect x="207.90" y="698.60" width="8.30" height="7.00" fill="#DFF3F8" />
<rect x="216.20" y="698.60" width="8.30" height="7.00" fill="#D7EDF5" />
<rect x="224.50" y="698.60" width="8.30" height="7.00" fill="#F3FAD6" />
<rect x="232.80" y="698.60" width="8.30" height="7.00" fill="#F9FDCA" />
<rect x="241.10" y="698.60" width="8.30" height="7.00" fill="#F0F9DC" />
<rect x="249.40" y="698.60" width="8.30" height="7.00" fill="#F0F9DC" />
<rect x="257.70" y="698.60" width="8.30" height="7.00" fill="#F0F9DC" />
<rect x="266.00" y="698.60" width="8.30" height="7.00" fill="#F3FAD6" />
<rect x="274.30" y="698.60" width="8.30" height="7.00" fill="#FFF9B6" />
<rect x="282.60" y="698.60" width="8.30" height="7.00" fill="#FFF6B1" />
<rect x="290.90" y="698.60" width="8.30" height="7.00" fill="#F3FAD6" />
<rect x="299.20" y="698.60" width="8.30" height="7.00" fill="#FFF3AC" />
<rect x="307.50" y="698.60" width="8.30" height="7.00" fill="#ECF8E1" />
<rect x="315.80" y="698.60" width="8.30" height="7.00" fill="#C5E1EE" />
<rect x="324.10" y="698.60" width="8.30" height="7.00" fill="#F6FBD0" />
<rect x="332.40" y="698.60" width="8.30" height="7.00" fill="#F3FAD6" />
<rect x="340.70" y="698.60" width="8.30" height="7.00" fill="#E3F4F2" />
<rect x="349.00" y="698.60" width="8.30" height="7.00" fill="#ECF8E1" />
<rect x="359.30" y="698.60" width="7.50" height="7.00" fill="#00CC55" />
<text x="46.60" y="705.20" font-size="8.5" text-anchor="end" fill="#231F20" class="ns">P3T1</text>
<rect x="50.20" y="705.60" width="8.30" height="7.00" fill="#FECF85" />
<rect x="58.50" y="705.60" width="8.30" height="7.00" fill="#E3F4F2" />
<rect x="66.80" y="705.60" width="8.30" height="7.00" fill="#FFF9B6" />
<rect x="75.10" y="705.60" width="8.30" height="7.00" fill="#FDC780" />
<rect x="83.40" y="705.60" width="8.30" height="7.00" fill="#FED88A" />
<rect x="91.70" y="705.60" width="8.30" height="7.00" fill="#FFF3AC" />
<rect x="100.00" y="705.60" width="8.30" height="7.00" fill="#FEE090" />
<rect x="108.30" y="705.60" width="8.30" height="7.00" fill="#FDC780" />
<rect x="116.60" y="705.60" width="8.30" height="7.00" fill="#FEE090" />
<rect x="124.90" y="705.60" width="8.30" height="7.00" fill="#FFF9B6" />
<rect x="133.20" y="705.60" width="8.30" height="7.00" fill="#D7EDF5" />
<rect x="141.50" y="705.60" width="8.30" height="7.00" fill="#F3FAD6" />
<rect x="149.80" y="705.60" width="8.30" height="7.00" fill="#FEE090" />
<rect x="158.10" y="705.60" width="8.30" height="7.00" fill="#F0F9DC" />
<rect x="166.40" y="705.60" width="8.30" height="7.00" fill="#F0F9DC" />
<rect x="174.70" y="705.60" width="8.30" height="7.00" fill="#FFF9B6" />
<rect x="183.00" y="705.60" width="8.30" height="7.00" fill="#F6FBD0" />
<rect x="191.30" y="705.60" width="8.30" height="7.00" fill="#FFF9B6" />
<rect x="199.60" y="705.60" width="8.30" height="7.00" fill="#FEECA3" />
<rect x="207.90" y="705.60" width="8.30" height="7.00" fill="#FFF9B6" />
<rect x="216.20" y="705.60" width="8.30" height="7.00" fill="#FEF0A8" />
<rect x="224.50" y="705.60" width="8.30" height="7.00" fill="#FFF9B6" />
<rect x="232.80" y="705.60" width="8.30" height="7.00" fill="#FFFCBA" />
<rect x="241.10" y="705.60" width="8.30" height="7.00" fill="#FFF9B6" />
<rect x="249.40" y="705.60" width="8.30" height="7.00" fill="#FFF9B6" />
<rect x="257.70" y="705.60" width="8.30" height="7.00" fill="#F0F9DC" />
<rect x="266.00" y="705.60" width="8.30" height="7.00" fill="#F3FAD6" />
<rect x="274.30" y="705.60" width="8.30" height="7.00" fill="#F0F9DC" />
<rect x="282.60" y="705.60" width="8.30" height="7.00" fill="#E7F6EC" />
<rect x="290.90" y="705.60" width="8.30" height="7.00" fill="#F3FAD6" />
<rect x="299.20" y="705.60" width="8.30" height="7.00" fill="#ECF8E1" />
<rect x="307.50" y="705.60" width="8.30" height="7.00" fill="#FEE699" />
<rect x="315.80" y="705.60" width="8.30" height="7.00" fill="#FEF0A8" />
<rect x="324.10" y="705.60" width="8.30" height="7.00" fill="#F3FAD6" />
<rect x="332.40" y="705.60" width="8.30" height="7.00" fill="#F3FAD6" />
<rect x="340.70" y="705.60" width="8.30" height="7.00" fill="#FEE99E" />
<rect x="349.00" y="705.60" width="8.30" height="7.00" fill="#FFF6B1" />
<rect x="359.30" y="705.60" width="7.50" height="7.00" fill="#7FAEF8" />
<text x="46.60" y="712.20" font-size="8.5" text-anchor="end" fill="#231F20" class="ns">P3T2</text>
<rect x="50.20" y="712.60" width="8.30" height="7.00" fill="#FDC780" />
<rect x="58.50" y="712.60" width="8.30" height="7.00" fill="#F3FAD6" />
<rect x="66.80" y="712.60" width="8.30" height="7.00" fill="#FFF9B6" />
<rect x="75.10" y="712.60" width="8.30" height="7.00" fill="#FDAE6F" />
<rect x="83.40" y="712.60" width="8.30" height="7.00" fill="#FDB674" />
<rect x="91.70" y="712.60" width="8.30" height="7.00" fill="#FEE395" />
<rect x="100.00" y="712.60" width="8.30" height="7.00" fill="#FEE090" />
<rect x="108.30" y="712.60" width="8.30" height="7.00" fill="#FC9E64" />
<rect x="116.60" y="712.60" width="8.30" height="7.00" fill="#FEE395" />
<rect x="124.90" y="712.60" width="8.30" height="7.00" fill="#FFF3AC" />
<rect x="133.20" y="712.60" width="8.30" height="7.00" fill="#ECF8E1" />
<rect x="141.50" y="712.60" width="8.30" height="7.00" fill="#FFF6B1" />
<rect x="149.80" y="712.60" width="8.30" height="7.00" fill="#FEE090" />
<rect x="158.10" y="712.60" width="8.30" height="7.00" fill="#FFF9B6" />
<rect x="166.40" y="712.60" width="8.30" height="7.00" fill="#F6FBD0" />
<rect x="174.70" y="712.60" width="8.30" height="7.00" fill="#FEE699" />
<rect x="183.00" y="712.60" width="8.30" height="7.00" fill="#FEE395" />
<rect x="191.30" y="712.60" width="8.30" height="7.00" fill="#FEECA3" />
<rect x="199.60" y="712.60" width="8.30" height="7.00" fill="#FEE699" />
<rect x="207.90" y="712.60" width="8.30" height="7.00" fill="#FEE699" />
<rect x="216.20" y="712.60" width="8.30" height="7.00" fill="#FEECA3" />
<rect x="224.50" y="712.60" width="8.30" height="7.00" fill="#FEECA3" />
<rect x="232.80" y="712.60" width="8.30" height="7.00" fill="#FEF0A8" />
<rect x="241.10" y="712.60" width="8.30" height="7.00" fill="#FFF6B1" />
<rect x="249.40" y="712.60" width="8.30" height="7.00" fill="#FEF0A8" />
<rect x="257.70" y="712.60" width="8.30" height="7.00" fill="#F6FBD0" />
<rect x="266.00" y="712.60" width="8.30" height="7.00" fill="#FEE699" />
<rect x="274.30" y="712.60" width="8.30" height="7.00" fill="#F3FAD6" />
<rect x="282.60" y="712.60" width="8.30" height="7.00" fill="#FFF6B1" />
<rect x="290.90" y="712.60" width="8.30" height="7.00" fill="#F6FBD0" />
<rect x="299.20" y="712.60" width="8.30" height="7.00" fill="#FFF6B1" />
<rect x="307.50" y="712.60" width="8.30" height="7.00" fill="#FED88A" />
<rect x="315.80" y="712.60" width="8.30" height="7.00" fill="#FEE699" />
<rect x="324.10" y="712.60" width="8.30" height="7.00" fill="#FFF9B6" />
<rect x="332.40" y="712.60" width="8.30" height="7.00" fill="#FFF3AC" />
<rect x="340.70" y="712.60" width="8.30" height="7.00" fill="#FEECA3" />
<rect x="349.00" y="712.60" width="8.30" height="7.00" fill="#FEF0A8" />
<rect x="359.30" y="712.60" width="7.50" height="7.00" fill="#7FAEF8" />
<text x="46.60" y="719.20" font-size="8.5" text-anchor="end" fill="#231F20" class="ns">P3T3</text>
<line x1="50.20" y1="698.60" x2="50.20" y2="719.60" stroke="#A2A2A2" stroke-width="0.9"/>
<line x1="58.50" y1="698.60" x2="58.50" y2="719.60" stroke="#A2A2A2" stroke-width="0.9"/>
<line x1="66.80" y1="698.60" x2="66.80" y2="719.60" stroke="#A2A2A2" stroke-width="0.9"/>
<line x1="75.10" y1="698.60" x2="75.10" y2="719.60" stroke="#A2A2A2" stroke-width="0.9"/>
<line x1="83.40" y1="698.60" x2="83.40" y2="719.60" stroke="#A2A2A2" stroke-width="0.9"/>
<line x1="91.70" y1="698.60" x2="91.70" y2="719.60" stroke="#A2A2A2" stroke-width="0.9"/>
<line x1="100.00" y1="698.60" x2="100.00" y2="719.60" stroke="#A2A2A2" stroke-width="0.9"/>
<line x1="108.30" y1="698.60" x2="108.30" y2="719.60" stroke="#A2A2A2" stroke-width="0.9"/>
<line x1="116.60" y1="698.60" x2="116.60" y2="719.60" stroke="#A2A2A2" stroke-width="0.9"/>
<line x1="124.90" y1="698.60" x2="124.90" y2="719.60" stroke="#A2A2A2" stroke-width="0.9"/>
<line x1="133.20" y1="698.60" x2="133.20" y2="719.60" stroke="#A2A2A2" stroke-width="0.9"/>
<line x1="141.50" y1="698.60" x2="141.50" y2="719.60" stroke="#A2A2A2" stroke-width="0.9"/>
<line x1="149.80" y1="698.60" x2="149.80" y2="719.60" stroke="#A2A2A2" stroke-width="0.9"/>
<line x1="158.10" y1="698.60" x2="158.10" y2="719.60" stroke="#A2A2A2" stroke-width="0.9"/>
<line x1="166.40" y1="698.60" x2="166.40" y2="719.60" stroke="#A2A2A2" stroke-width="0.9"/>
<line x1="174.70" y1="698.60" x2="174.70" y2="719.60" stroke="#A2A2A2" stroke-width="0.9"/>
<line x1="183.00" y1="698.60" x2="183.00" y2="719.60" stroke="#A2A2A2" stroke-width="0.9"/>
<line x1="191.30" y1="698.60" x2="191.30" y2="719.60" stroke="#A2A2A2" stroke-width="0.9"/>
<line x1="199.60" y1="698.60" x2="199.60" y2="719.60" stroke="#A2A2A2" stroke-width="0.9"/>
<line x1="207.90" y1="698.60" x2="207.90" y2="719.60" stroke="#A2A2A2" stroke-width="0.9"/>
<line x1="216.20" y1="698.60" x2="216.20" y2="719.60" stroke="#A2A2A2" stroke-width="0.9"/>
<line x1="224.50" y1="698.60" x2="224.50" y2="719.60" stroke="#A2A2A2" stroke-width="0.9"/>
<line x1="232.80" y1="698.60" x2="232.80" y2="719.60" stroke="#A2A2A2" stroke-width="0.9"/>
<line x1="241.10" y1="698.60" x2="241.10" y2="719.60" stroke="#A2A2A2" stroke-width="0.9"/>
<line x1="249.40" y1="698.60" x2="249.40" y2="719.60" stroke="#A2A2A2" stroke-width="0.9"/>
<line x1="257.70" y1="698.60" x2="257.70" y2="719.60" stroke="#A2A2A2" stroke-width="0.9"/>
<line x1="266.00" y1="698.60" x2="266.00" y2="719.60" stroke="#A2A2A2" stroke-width="0.9"/>
<line x1="274.30" y1="698.60" x2="274.30" y2="719.60" stroke="#A2A2A2" stroke-width="0.9"/>
<line x1="282.60" y1="698.60" x2="282.60" y2="719.60" stroke="#A2A2A2" stroke-width="0.9"/>
<line x1="290.90" y1="698.60" x2="290.90" y2="719.60" stroke="#A2A2A2" stroke-width="0.9"/>
<line x1="299.20" y1="698.60" x2="299.20" y2="719.60" stroke="#A2A2A2" stroke-width="0.9"/>
<line x1="307.50" y1="698.60" x2="307.50" y2="719.60" stroke="#A2A2A2" stroke-width="0.9"/>
<line x1="315.80" y1="698.60" x2="315.80" y2="719.60" stroke="#A2A2A2" stroke-width="0.9"/>
<line x1="324.10" y1="698.60" x2="324.10" y2="719.60" stroke="#A2A2A2" stroke-width="0.9"/>
<line x1="332.40" y1="698.60" x2="332.40" y2="719.60" stroke="#A2A2A2" stroke-width="0.9"/>
<line x1="340.70" y1="698.60" x2="340.70" y2="719.60" stroke="#A2A2A2" stroke-width="0.9"/>
<line x1="349.00" y1="698.60" x2="349.00" y2="719.60" stroke="#A2A2A2" stroke-width="0.9"/>
<line x1="357.30" y1="698.60" x2="357.30" y2="719.60" stroke="#A2A2A2" stroke-width="0.9"/>
<line x1="50.20" y1="698.60" x2="357.30" y2="698.60" stroke="#A2A2A2" stroke-width="0.9"/>
<line x1="359.3" y1="698.60" x2="366.8" y2="698.60" stroke="#A2A2A2" stroke-width="0.9"/>
<line x1="50.20" y1="705.60" x2="357.30" y2="705.60" stroke="#A2A2A2" stroke-width="0.9"/>
<line x1="359.3" y1="705.60" x2="366.8" y2="705.60" stroke="#A2A2A2" stroke-width="0.9"/>
<line x1="50.20" y1="712.60" x2="357.30" y2="712.60" stroke="#A2A2A2" stroke-width="0.9"/>
<line x1="359.3" y1="712.60" x2="366.8" y2="712.60" stroke="#A2A2A2" stroke-width="0.9"/>
<line x1="50.20" y1="719.60" x2="357.30" y2="719.60" stroke="#A2A2A2" stroke-width="0.9"/>
<line x1="359.3" y1="719.60" x2="366.8" y2="719.60" stroke="#A2A2A2" stroke-width="0.9"/>
<line x1="359.3" y1="698.60" x2="359.3" y2="719.60" stroke="#A2A2A2" stroke-width="0.9"/>
<line x1="366.8" y1="698.60" x2="366.8" y2="719.60" stroke="#A2A2A2" stroke-width="0.9"/>
<rect x="50.20" y="722.30" width="8.30" height="7.00" fill="#A1CAE1" />
<rect x="58.50" y="722.30" width="8.30" height="7.00" fill="#C5E1EE" />
<rect x="66.80" y="722.30" width="8.30" height="7.00" fill="#CEE7F1" />
<rect x="75.10" y="722.30" width="8.30" height="7.00" fill="#E3F4F2" />
<rect x="83.40" y="722.30" width="8.30" height="7.00" fill="#F0F9DC" />
<rect x="91.70" y="722.30" width="8.30" height="7.00" fill="#C5E1EE" />
<rect x="100.00" y="722.30" width="8.30" height="7.00" fill="#A1CAE1" />
<rect x="108.30" y="722.30" width="8.30" height="7.00" fill="#F3FAD6" />
<rect x="116.60" y="722.30" width="8.30" height="7.00" fill="#E3F4F2" />
<rect x="124.90" y="722.30" width="8.30" height="7.00" fill="#D7EDF5" />
<rect x="133.20" y="722.30" width="8.30" height="7.00" fill="#E3F4F2" />
<rect x="141.50" y="722.30" width="8.30" height="7.00" fill="#F0F9DC" />
<rect x="149.80" y="722.30" width="8.30" height="7.00" fill="#F3FAD6" />
<rect x="158.10" y="722.30" width="8.30" height="7.00" fill="#F6FBD0" />
<rect x="166.40" y="722.30" width="8.30" height="7.00" fill="#FEE699" />
<rect x="174.70" y="722.30" width="8.30" height="7.00" fill="#F6FBD0" />
<rect x="183.00" y="722.30" width="8.30" height="7.00" fill="#FEE395" />
<rect x="191.30" y="722.30" width="8.30" height="7.00" fill="#F3FAD6" />
<rect x="199.60" y="722.30" width="8.30" height="7.00" fill="#F3FAD6" />
<rect x="207.90" y="722.30" width="8.30" height="7.00" fill="#E3F4F2" />
<rect x="216.20" y="722.30" width="8.30" height="7.00" fill="#CEE7F1" />
<rect x="224.50" y="722.30" width="8.30" height="7.00" fill="#F3FAD6" />
<rect x="232.80" y="722.30" width="8.30" height="7.00" fill="#ECF8E1" />
<rect x="241.10" y="722.30" width="8.30" height="7.00" fill="#ECF8E1" />
<rect x="249.40" y="722.30" width="8.30" height="7.00" fill="#E3F4F2" />
<rect x="257.70" y="722.30" width="8.30" height="7.00" fill="#ECF8E1" />
<rect x="266.00" y="722.30" width="8.30" height="7.00" fill="#E7F6EC" />
<rect x="274.30" y="722.30" width="8.30" height="7.00" fill="#E3F4F2" />
<rect x="282.60" y="722.30" width="8.30" height="7.00" fill="#FECF85" />
<rect x="290.90" y="722.30" width="8.30" height="7.00" fill="#F3FAD6" />
<rect x="299.20" y="722.30" width="8.30" height="7.00" fill="#FEE99E" />
<rect x="307.50" y="722.30" width="8.30" height="7.00" fill="#F6FBD0" />
<rect x="315.80" y="722.30" width="8.30" height="7.00" fill="#CEE7F1" />
<rect x="324.10" y="722.30" width="8.30" height="7.00" fill="#D7EDF5" />
<rect x="332.40" y="722.30" width="8.30" height="7.00" fill="#F0F9DC" />
<rect x="340.70" y="722.30" width="8.30" height="7.00" fill="#FCFEC5" />
<rect x="349.00" y="722.30" width="8.30" height="7.00" fill="#F6FBD0" />
<rect x="359.30" y="722.30" width="7.50" height="7.00" fill="#00CC55" />
<text x="46.60" y="728.90" font-size="8.5" text-anchor="end" fill="#231F20" class="ns">P4T1</text>
<rect x="50.20" y="729.30" width="8.30" height="7.00" fill="#FEE699" />
<rect x="58.50" y="729.30" width="8.30" height="7.00" fill="#E3F4F2" />
<rect x="66.80" y="729.30" width="8.30" height="7.00" fill="#E7F6EC" />
<rect x="75.10" y="729.30" width="8.30" height="7.00" fill="#ECF8E1" />
<rect x="83.40" y="729.30" width="8.30" height="7.00" fill="#FEECA3" />
<rect x="91.70" y="729.30" width="8.30" height="7.00" fill="#F88454" />
<rect x="100.00" y="729.30" width="8.30" height="7.00" fill="#FDBF7A" />
<rect x="108.30" y="729.30" width="8.30" height="7.00" fill="#F3FAD6" />
<rect x="116.60" y="729.30" width="8.30" height="7.00" fill="#F0F9DC" />
<rect x="124.90" y="729.30" width="8.30" height="7.00" fill="#E3F4F2" />
<rect x="133.20" y="729.30" width="8.30" height="7.00" fill="#E7F6EC" />
<rect x="141.50" y="729.30" width="8.30" height="7.00" fill="#FEECA3" />
<rect x="149.80" y="729.30" width="8.30" height="7.00" fill="#F3FAD6" />
<rect x="158.10" y="729.30" width="8.30" height="7.00" fill="#E3F4F2" />
<rect x="166.40" y="729.30" width="8.30" height="7.00" fill="#F3FAD6" />
<rect x="174.70" y="729.30" width="8.30" height="7.00" fill="#D7EDF5" />
<rect x="183.00" y="729.30" width="8.30" height="7.00" fill="#FEECA3" />
<rect x="191.30" y="729.30" width="8.30" height="7.00" fill="#FFF9B6" />
<rect x="199.60" y="729.30" width="8.30" height="7.00" fill="#ECF8E1" />
<rect x="207.90" y="729.30" width="8.30" height="7.00" fill="#F3FAD6" />
<rect x="216.20" y="729.30" width="8.30" height="7.00" fill="#E7F6EC" />
<rect x="224.50" y="729.30" width="8.30" height="7.00" fill="#E3F4F2" />
<rect x="232.80" y="729.30" width="8.30" height="7.00" fill="#F6FBD0" />
<rect x="241.10" y="729.30" width="8.30" height="7.00" fill="#F3FAD6" />
<rect x="249.40" y="729.30" width="8.30" height="7.00" fill="#FEECA3" />
<rect x="257.70" y="729.30" width="8.30" height="7.00" fill="#ECF8E1" />
<rect x="266.00" y="729.30" width="8.30" height="7.00" fill="#FEF0A8" />
<rect x="274.30" y="729.30" width="8.30" height="7.00" fill="#ECF8E1" />
<rect x="282.60" y="729.30" width="8.30" height="7.00" fill="#FFF9B6" />
<rect x="290.90" y="729.30" width="8.30" height="7.00" fill="#F3FAD6" />
<rect x="299.20" y="729.30" width="8.30" height="7.00" fill="#F3FAD6" />
<rect x="307.50" y="729.30" width="8.30" height="7.00" fill="#E3F4F2" />
<rect x="315.80" y="729.30" width="8.30" height="7.00" fill="#FFF3AC" />
<rect x="324.10" y="729.30" width="8.30" height="7.00" fill="#DFF3F8" />
<rect x="332.40" y="729.30" width="8.30" height="7.00" fill="#E3F4F2" />
<rect x="340.70" y="729.30" width="8.30" height="7.00" fill="#DFF3F8" />
<rect x="349.00" y="729.30" width="8.30" height="7.00" fill="#F3FAD6" />
<rect x="359.30" y="729.30" width="7.50" height="7.00" fill="#7FAEF8" />
<text x="46.60" y="735.90" font-size="8.5" text-anchor="end" fill="#231F20" class="ns">P4T2</text>
<rect x="50.20" y="736.30" width="8.30" height="7.00" fill="#FEE699" />
<rect x="58.50" y="736.30" width="8.30" height="7.00" fill="#FEE99E" />
<rect x="66.80" y="736.30" width="8.30" height="7.00" fill="#FFF6B1" />
<rect x="75.10" y="736.30" width="8.30" height="7.00" fill="#ECF8E1" />
<rect x="83.40" y="736.30" width="8.30" height="7.00" fill="#F6FBD0" />
<rect x="91.70" y="736.30" width="8.30" height="7.00" fill="#FFF9B6" />
<rect x="100.00" y="736.30" width="8.30" height="7.00" fill="#F9FDCA" />
<rect x="108.30" y="736.30" width="8.30" height="7.00" fill="#ECF8E1" />
<rect x="116.60" y="736.30" width="8.30" height="7.00" fill="#F6FBD0" />
<rect x="124.90" y="736.30" width="8.30" height="7.00" fill="#F0F9DC" />
<rect x="133.20" y="736.30" width="8.30" height="7.00" fill="#FEE395" />
<rect x="141.50" y="736.30" width="8.30" height="7.00" fill="#FFF9B6" />
<rect x="149.80" y="736.30" width="8.30" height="7.00" fill="#F3FAD6" />
<rect x="158.10" y="736.30" width="8.30" height="7.00" fill="#F3FAD6" />
<rect x="166.40" y="736.30" width="8.30" height="7.00" fill="#F6FBD0" />
<rect x="174.70" y="736.30" width="8.30" height="7.00" fill="#F3FAD6" />
<rect x="183.00" y="736.30" width="8.30" height="7.00" fill="#FCFEC5" />
<rect x="191.30" y="736.30" width="8.30" height="7.00" fill="#F3FAD6" />
<rect x="199.60" y="736.30" width="8.30" height="7.00" fill="#FEF0A8" />
<rect x="207.90" y="736.30" width="8.30" height="7.00" fill="#ECF8E1" />
<rect x="216.20" y="736.30" width="8.30" height="7.00" fill="#E3F4F2" />
<rect x="224.50" y="736.30" width="8.30" height="7.00" fill="#F3FAD6" />
<rect x="232.80" y="736.30" width="8.30" height="7.00" fill="#FEE99E" />
<rect x="241.10" y="736.30" width="8.30" height="7.00" fill="#E3F4F2" />
<rect x="249.40" y="736.30" width="8.30" height="7.00" fill="#FEE99E" />
<rect x="257.70" y="736.30" width="8.30" height="7.00" fill="#FEECA3" />
<rect x="266.00" y="736.30" width="8.30" height="7.00" fill="#F6FBD0" />
<rect x="274.30" y="736.30" width="8.30" height="7.00" fill="#FFF3AC" />
<rect x="282.60" y="736.30" width="8.30" height="7.00" fill="#FEECA3" />
<rect x="290.90" y="736.30" width="8.30" height="7.00" fill="#FEF0A8" />
<rect x="299.20" y="736.30" width="8.30" height="7.00" fill="#FFF3AC" />
<rect x="307.50" y="736.30" width="8.30" height="7.00" fill="#F9FDCA" />
<rect x="315.80" y="736.30" width="8.30" height="7.00" fill="#FFF9B6" />
<rect x="324.10" y="736.30" width="8.30" height="7.00" fill="#F9FDCA" />
<rect x="332.40" y="736.30" width="8.30" height="7.00" fill="#F9FDCA" />
<rect x="340.70" y="736.30" width="8.30" height="7.00" fill="#FFF9B6" />
<rect x="349.00" y="736.30" width="8.30" height="7.00" fill="#FFF9B6" />
<rect x="359.30" y="736.30" width="7.50" height="7.00" fill="#7FAEF8" />
<text x="46.60" y="742.90" font-size="8.5" text-anchor="end" fill="#231F20" class="ns">P4T3</text>
<line x1="50.20" y1="722.30" x2="50.20" y2="743.30" stroke="#A2A2A2" stroke-width="0.9"/>
<line x1="58.50" y1="722.30" x2="58.50" y2="743.30" stroke="#A2A2A2" stroke-width="0.9"/>
<line x1="66.80" y1="722.30" x2="66.80" y2="743.30" stroke="#A2A2A2" stroke-width="0.9"/>
<line x1="75.10" y1="722.30" x2="75.10" y2="743.30" stroke="#A2A2A2" stroke-width="0.9"/>
<line x1="83.40" y1="722.30" x2="83.40" y2="743.30" stroke="#A2A2A2" stroke-width="0.9"/>
<line x1="91.70" y1="722.30" x2="91.70" y2="743.30" stroke="#A2A2A2" stroke-width="0.9"/>
<line x1="100.00" y1="722.30" x2="100.00" y2="743.30" stroke="#A2A2A2" stroke-width="0.9"/>
<line x1="108.30" y1="722.30" x2="108.30" y2="743.30" stroke="#A2A2A2" stroke-width="0.9"/>
<line x1="116.60" y1="722.30" x2="116.60" y2="743.30" stroke="#A2A2A2" stroke-width="0.9"/>
<line x1="124.90" y1="722.30" x2="124.90" y2="743.30" stroke="#A2A2A2" stroke-width="0.9"/>
<line x1="133.20" y1="722.30" x2="133.20" y2="743.30" stroke="#A2A2A2" stroke-width="0.9"/>
<line x1="141.50" y1="722.30" x2="141.50" y2="743.30" stroke="#A2A2A2" stroke-width="0.9"/>
<line x1="149.80" y1="722.30" x2="149.80" y2="743.30" stroke="#A2A2A2" stroke-width="0.9"/>
<line x1="158.10" y1="722.30" x2="158.10" y2="743.30" stroke="#A2A2A2" stroke-width="0.9"/>
<line x1="166.40" y1="722.30" x2="166.40" y2="743.30" stroke="#A2A2A2" stroke-width="0.9"/>
<line x1="174.70" y1="722.30" x2="174.70" y2="743.30" stroke="#A2A2A2" stroke-width="0.9"/>
<line x1="183.00" y1="722.30" x2="183.00" y2="743.30" stroke="#A2A2A2" stroke-width="0.9"/>
<line x1="191.30" y1="722.30" x2="191.30" y2="743.30" stroke="#A2A2A2" stroke-width="0.9"/>
<line x1="199.60" y1="722.30" x2="199.60" y2="743.30" stroke="#A2A2A2" stroke-width="0.9"/>
<line x1="207.90" y1="722.30" x2="207.90" y2="743.30" stroke="#A2A2A2" stroke-width="0.9"/>
<line x1="216.20" y1="722.30" x2="216.20" y2="743.30" stroke="#A2A2A2" stroke-width="0.9"/>
<line x1="224.50" y1="722.30" x2="224.50" y2="743.30" stroke="#A2A2A2" stroke-width="0.9"/>
<line x1="232.80" y1="722.30" x2="232.80" y2="743.30" stroke="#A2A2A2" stroke-width="0.9"/>
<line x1="241.10" y1="722.30" x2="241.10" y2="743.30" stroke="#A2A2A2" stroke-width="0.9"/>
<line x1="249.40" y1="722.30" x2="249.40" y2="743.30" stroke="#A2A2A2" stroke-width="0.9"/>
<line x1="257.70" y1="722.30" x2="257.70" y2="743.30" stroke="#A2A2A2" stroke-width="0.9"/>
<line x1="266.00" y1="722.30" x2="266.00" y2="743.30" stroke="#A2A2A2" stroke-width="0.9"/>
<line x1="274.30" y1="722.30" x2="274.30" y2="743.30" stroke="#A2A2A2" stroke-width="0.9"/>
<line x1="282.60" y1="722.30" x2="282.60" y2="743.30" stroke="#A2A2A2" stroke-width="0.9"/>
<line x1="290.90" y1="722.30" x2="290.90" y2="743.30" stroke="#A2A2A2" stroke-width="0.9"/>
<line x1="299.20" y1="722.30" x2="299.20" y2="743.30" stroke="#A2A2A2" stroke-width="0.9"/>
<line x1="307.50" y1="722.30" x2="307.50" y2="743.30" stroke="#A2A2A2" stroke-width="0.9"/>
<line x1="315.80" y1="722.30" x2="315.80" y2="743.30" stroke="#A2A2A2" stroke-width="0.9"/>
<line x1="324.10" y1="722.30" x2="324.10" y2="743.30" stroke="#A2A2A2" stroke-width="0.9"/>
<line x1="332.40" y1="722.30" x2="332.40" y2="743.30" stroke="#A2A2A2" stroke-width="0.9"/>
<line x1="340.70" y1="722.30" x2="340.70" y2="743.30" stroke="#A2A2A2" stroke-width="0.9"/>
<line x1="349.00" y1="722.30" x2="349.00" y2="743.30" stroke="#A2A2A2" stroke-width="0.9"/>
<line x1="357.30" y1="722.30" x2="357.30" y2="743.30" stroke="#A2A2A2" stroke-width="0.9"/>
<line x1="50.20" y1="722.30" x2="357.30" y2="722.30" stroke="#A2A2A2" stroke-width="0.9"/>
<line x1="359.3" y1="722.30" x2="366.8" y2="722.30" stroke="#A2A2A2" stroke-width="0.9"/>
<line x1="50.20" y1="729.30" x2="357.30" y2="729.30" stroke="#A2A2A2" stroke-width="0.9"/>
<line x1="359.3" y1="729.30" x2="366.8" y2="729.30" stroke="#A2A2A2" stroke-width="0.9"/>
<line x1="50.20" y1="736.30" x2="357.30" y2="736.30" stroke="#A2A2A2" stroke-width="0.9"/>
<line x1="359.3" y1="736.30" x2="366.8" y2="736.30" stroke="#A2A2A2" stroke-width="0.9"/>
<line x1="50.20" y1="743.30" x2="357.30" y2="743.30" stroke="#A2A2A2" stroke-width="0.9"/>
<line x1="359.3" y1="743.30" x2="366.8" y2="743.30" stroke="#A2A2A2" stroke-width="0.9"/>
<line x1="359.3" y1="722.30" x2="359.3" y2="743.30" stroke="#A2A2A2" stroke-width="0.9"/>
<line x1="366.8" y1="722.30" x2="366.8" y2="743.30" stroke="#A2A2A2" stroke-width="0.9"/>
<rect x="50.20" y="746.00" width="8.30" height="7.00" fill="#FEECA3" />
<rect x="58.50" y="746.00" width="8.30" height="7.00" fill="#F3FAD6" />
<rect x="66.80" y="746.00" width="8.30" height="7.00" fill="#FEE090" />
<rect x="75.10" y="746.00" width="8.30" height="7.00" fill="#FFF6B1" />
<rect x="83.40" y="746.00" width="8.30" height="7.00" fill="#F9FDCA" />
<rect x="91.70" y="746.00" width="8.30" height="7.00" fill="#F3FAD6" />
<rect x="100.00" y="746.00" width="8.30" height="7.00" fill="#FFF9B6" />
<rect x="108.30" y="746.00" width="8.30" height="7.00" fill="#FEECA3" />
<rect x="116.60" y="746.00" width="8.30" height="7.00" fill="#FEE99E" />
<rect x="124.90" y="746.00" width="8.30" height="7.00" fill="#FEE395" />
<rect x="133.20" y="746.00" width="8.30" height="7.00" fill="#FFF9B6" />
<rect x="141.50" y="746.00" width="8.30" height="7.00" fill="#F6FBD0" />
<rect x="149.80" y="746.00" width="8.30" height="7.00" fill="#FEE395" />
<rect x="158.10" y="746.00" width="8.30" height="7.00" fill="#F9FDCA" />
<rect x="166.40" y="746.00" width="8.30" height="7.00" fill="#F3FAD6" />
<rect x="174.70" y="746.00" width="8.30" height="7.00" fill="#FEE699" />
<rect x="183.00" y="746.00" width="8.30" height="7.00" fill="#FFF9B6" />
<rect x="191.30" y="746.00" width="8.30" height="7.00" fill="#F3FAD6" />
<rect x="199.60" y="746.00" width="8.30" height="7.00" fill="#FFF3AC" />
<rect x="207.90" y="746.00" width="8.30" height="7.00" fill="#FEE395" />
<rect x="216.20" y="746.00" width="8.30" height="7.00" fill="#FFF6B1" />
<rect x="224.50" y="746.00" width="8.30" height="7.00" fill="#FEE395" />
<rect x="232.80" y="746.00" width="8.30" height="7.00" fill="#D7EDF5" />
<rect x="241.10" y="746.00" width="8.30" height="7.00" fill="#FEECA3" />
<rect x="249.40" y="746.00" width="8.30" height="7.00" fill="#FFF3AC" />
<rect x="257.70" y="746.00" width="8.30" height="7.00" fill="#FEF0A8" />
<rect x="266.00" y="746.00" width="8.30" height="7.00" fill="#FFF3AC" />
<rect x="274.30" y="746.00" width="8.30" height="7.00" fill="#FEE99E" />
<rect x="282.60" y="746.00" width="8.30" height="7.00" fill="#D7EDF5" />
<rect x="290.90" y="746.00" width="8.30" height="7.00" fill="#FFF6B1" />
<rect x="299.20" y="746.00" width="8.30" height="7.00" fill="#FEECA3" />
<rect x="307.50" y="746.00" width="8.30" height="7.00" fill="#F6FBD0" />
<rect x="315.80" y="746.00" width="8.30" height="7.00" fill="#FEECA3" />
<rect x="324.10" y="746.00" width="8.30" height="7.00" fill="#FEF0A8" />
<rect x="332.40" y="746.00" width="8.30" height="7.00" fill="#F3FAD6" />
<rect x="340.70" y="746.00" width="8.30" height="7.00" fill="#FFF3AC" />
<rect x="349.00" y="746.00" width="8.30" height="7.00" fill="#FEECA3" />
<rect x="359.30" y="746.00" width="7.50" height="7.00" fill="#00CC55" />
<text x="46.60" y="752.60" font-size="8.5" text-anchor="end" fill="#231F20" class="ns">P5T1</text>
<rect x="50.20" y="753.00" width="8.30" height="7.00" fill="#ECF8E1" />
<rect x="58.50" y="753.00" width="8.30" height="7.00" fill="#F3FAD6" />
<rect x="66.80" y="753.00" width="8.30" height="7.00" fill="#F3FAD6" />
<rect x="75.10" y="753.00" width="8.30" height="7.00" fill="#F3FAD6" />
<rect x="83.40" y="753.00" width="8.30" height="7.00" fill="#F0F9DC" />
<rect x="91.70" y="753.00" width="8.30" height="7.00" fill="#FFFCBA" />
<rect x="100.00" y="753.00" width="8.30" height="7.00" fill="#F3FAD6" />
<rect x="108.30" y="753.00" width="8.30" height="7.00" fill="#F3FAD6" />
<rect x="116.60" y="753.00" width="8.30" height="7.00" fill="#F0F9DC" />
<rect x="124.90" y="753.00" width="8.30" height="7.00" fill="#FFF9B6" />
<rect x="133.20" y="753.00" width="8.30" height="7.00" fill="#FEE99E" />
<rect x="141.50" y="753.00" width="8.30" height="7.00" fill="#F6FBD0" />
<rect x="149.80" y="753.00" width="8.30" height="7.00" fill="#DFF3F8" />
<rect x="158.10" y="753.00" width="8.30" height="7.00" fill="#FFF9B6" />
<rect x="166.40" y="753.00" width="8.30" height="7.00" fill="#F3FAD6" />
<rect x="174.70" y="753.00" width="8.30" height="7.00" fill="#FFF9B6" />
<rect x="183.00" y="753.00" width="8.30" height="7.00" fill="#F6FBD0" />
<rect x="191.30" y="753.00" width="8.30" height="7.00" fill="#F3FAD6" />
<rect x="199.60" y="753.00" width="8.30" height="7.00" fill="#ECF8E1" />
<rect x="207.90" y="753.00" width="8.30" height="7.00" fill="#FFF9B6" />
<rect x="216.20" y="753.00" width="8.30" height="7.00" fill="#F6FBD0" />
<rect x="224.50" y="753.00" width="8.30" height="7.00" fill="#FEE99E" />
<rect x="232.80" y="753.00" width="8.30" height="7.00" fill="#ECF8E1" />
<rect x="241.10" y="753.00" width="8.30" height="7.00" fill="#FFF3AC" />
<rect x="249.40" y="753.00" width="8.30" height="7.00" fill="#FFF9B6" />
<rect x="257.70" y="753.00" width="8.30" height="7.00" fill="#ECF8E1" />
<rect x="266.00" y="753.00" width="8.30" height="7.00" fill="#FFF3AC" />
<rect x="274.30" y="753.00" width="8.30" height="7.00" fill="#FED88A" />
<rect x="282.60" y="753.00" width="8.30" height="7.00" fill="#FFF6B1" />
<rect x="290.90" y="753.00" width="8.30" height="7.00" fill="#F3FAD6" />
<rect x="299.20" y="753.00" width="8.30" height="7.00" fill="#ECF8E1" />
<rect x="307.50" y="753.00" width="8.30" height="7.00" fill="#DFF3F8" />
<rect x="315.80" y="753.00" width="8.30" height="7.00" fill="#F3FAD6" />
<rect x="324.10" y="753.00" width="8.30" height="7.00" fill="#D7EDF5" />
<rect x="332.40" y="753.00" width="8.30" height="7.00" fill="#E7F6EC" />
<rect x="340.70" y="753.00" width="8.30" height="7.00" fill="#E7F6EC" />
<rect x="349.00" y="753.00" width="8.30" height="7.00" fill="#F3FAD6" />
<rect x="359.30" y="753.00" width="7.50" height="7.00" fill="#F8807A" />
<text x="46.60" y="759.60" font-size="8.5" text-anchor="end" fill="#231F20" class="ns">P5T2</text>
<line x1="50.20" y1="746.00" x2="50.20" y2="760.00" stroke="#A2A2A2" stroke-width="0.9"/>
<line x1="58.50" y1="746.00" x2="58.50" y2="760.00" stroke="#A2A2A2" stroke-width="0.9"/>
<line x1="66.80" y1="746.00" x2="66.80" y2="760.00" stroke="#A2A2A2" stroke-width="0.9"/>
<line x1="75.10" y1="746.00" x2="75.10" y2="760.00" stroke="#A2A2A2" stroke-width="0.9"/>
<line x1="83.40" y1="746.00" x2="83.40" y2="760.00" stroke="#A2A2A2" stroke-width="0.9"/>
<line x1="91.70" y1="746.00" x2="91.70" y2="760.00" stroke="#A2A2A2" stroke-width="0.9"/>
<line x1="100.00" y1="746.00" x2="100.00" y2="760.00" stroke="#A2A2A2" stroke-width="0.9"/>
<line x1="108.30" y1="746.00" x2="108.30" y2="760.00" stroke="#A2A2A2" stroke-width="0.9"/>
<line x1="116.60" y1="746.00" x2="116.60" y2="760.00" stroke="#A2A2A2" stroke-width="0.9"/>
<line x1="124.90" y1="746.00" x2="124.90" y2="760.00" stroke="#A2A2A2" stroke-width="0.9"/>
<line x1="133.20" y1="746.00" x2="133.20" y2="760.00" stroke="#A2A2A2" stroke-width="0.9"/>
<line x1="141.50" y1="746.00" x2="141.50" y2="760.00" stroke="#A2A2A2" stroke-width="0.9"/>
<line x1="149.80" y1="746.00" x2="149.80" y2="760.00" stroke="#A2A2A2" stroke-width="0.9"/>
<line x1="158.10" y1="746.00" x2="158.10" y2="760.00" stroke="#A2A2A2" stroke-width="0.9"/>
<line x1="166.40" y1="746.00" x2="166.40" y2="760.00" stroke="#A2A2A2" stroke-width="0.9"/>
<line x1="174.70" y1="746.00" x2="174.70" y2="760.00" stroke="#A2A2A2" stroke-width="0.9"/>
<line x1="183.00" y1="746.00" x2="183.00" y2="760.00" stroke="#A2A2A2" stroke-width="0.9"/>
<line x1="191.30" y1="746.00" x2="191.30" y2="760.00" stroke="#A2A2A2" stroke-width="0.9"/>
<line x1="199.60" y1="746.00" x2="199.60" y2="760.00" stroke="#A2A2A2" stroke-width="0.9"/>
<line x1="207.90" y1="746.00" x2="207.90" y2="760.00" stroke="#A2A2A2" stroke-width="0.9"/>
<line x1="216.20" y1="746.00" x2="216.20" y2="760.00" stroke="#A2A2A2" stroke-width="0.9"/>
<line x1="224.50" y1="746.00" x2="224.50" y2="760.00" stroke="#A2A2A2" stroke-width="0.9"/>
<line x1="232.80" y1="746.00" x2="232.80" y2="760.00" stroke="#A2A2A2" stroke-width="0.9"/>
<line x1="241.10" y1="746.00" x2="241.10" y2="760.00" stroke="#A2A2A2" stroke-width="0.9"/>
<line x1="249.40" y1="746.00" x2="249.40" y2="760.00" stroke="#A2A2A2" stroke-width="0.9"/>
<line x1="257.70" y1="746.00" x2="257.70" y2="760.00" stroke="#A2A2A2" stroke-width="0.9"/>
<line x1="266.00" y1="746.00" x2="266.00" y2="760.00" stroke="#A2A2A2" stroke-width="0.9"/>
<line x1="274.30" y1="746.00" x2="274.30" y2="760.00" stroke="#A2A2A2" stroke-width="0.9"/>
<line x1="282.60" y1="746.00" x2="282.60" y2="760.00" stroke="#A2A2A2" stroke-width="0.9"/>
<line x1="290.90" y1="746.00" x2="290.90" y2="760.00" stroke="#A2A2A2" stroke-width="0.9"/>
<line x1="299.20" y1="746.00" x2="299.20" y2="760.00" stroke="#A2A2A2" stroke-width="0.9"/>
<line x1="307.50" y1="746.00" x2="307.50" y2="760.00" stroke="#A2A2A2" stroke-width="0.9"/>
<line x1="315.80" y1="746.00" x2="315.80" y2="760.00" stroke="#A2A2A2" stroke-width="0.9"/>
<line x1="324.10" y1="746.00" x2="324.10" y2="760.00" stroke="#A2A2A2" stroke-width="0.9"/>
<line x1="332.40" y1="746.00" x2="332.40" y2="760.00" stroke="#A2A2A2" stroke-width="0.9"/>
<line x1="340.70" y1="746.00" x2="340.70" y2="760.00" stroke="#A2A2A2" stroke-width="0.9"/>
<line x1="349.00" y1="746.00" x2="349.00" y2="760.00" stroke="#A2A2A2" stroke-width="0.9"/>
<line x1="357.30" y1="746.00" x2="357.30" y2="760.00" stroke="#A2A2A2" stroke-width="0.9"/>
<line x1="50.20" y1="746.00" x2="357.30" y2="746.00" stroke="#A2A2A2" stroke-width="0.9"/>
<line x1="359.3" y1="746.00" x2="366.8" y2="746.00" stroke="#A2A2A2" stroke-width="0.9"/>
<line x1="50.20" y1="753.00" x2="357.30" y2="753.00" stroke="#A2A2A2" stroke-width="0.9"/>
<line x1="359.3" y1="753.00" x2="366.8" y2="753.00" stroke="#A2A2A2" stroke-width="0.9"/>
<line x1="50.20" y1="760.00" x2="357.30" y2="760.00" stroke="#A2A2A2" stroke-width="0.9"/>
<line x1="359.3" y1="760.00" x2="366.8" y2="760.00" stroke="#A2A2A2" stroke-width="0.9"/>
<line x1="359.3" y1="746.00" x2="359.3" y2="760.00" stroke="#A2A2A2" stroke-width="0.9"/>
<line x1="366.8" y1="746.00" x2="366.8" y2="760.00" stroke="#A2A2A2" stroke-width="0.9"/>
<rect x="50.20" y="762.70" width="8.30" height="7.00" fill="#FECF85" />
<rect x="58.50" y="762.70" width="8.30" height="7.00" fill="#FDBF7A" />
<rect x="66.80" y="762.70" width="8.30" height="7.00" fill="#FEE395" />
<rect x="75.10" y="762.70" width="8.30" height="7.00" fill="#FEE090" />
<rect x="83.40" y="762.70" width="8.30" height="7.00" fill="#FEE99E" />
<rect x="91.70" y="762.70" width="8.30" height="7.00" fill="#F3FAD6" />
<rect x="100.00" y="762.70" width="8.30" height="7.00" fill="#FFF6B1" />
<rect x="108.30" y="762.70" width="8.30" height="7.00" fill="#FEE699" />
<rect x="116.60" y="762.70" width="8.30" height="7.00" fill="#FEE699" />
<rect x="124.90" y="762.70" width="8.30" height="7.00" fill="#FDC780" />
<rect x="133.20" y="762.70" width="8.30" height="7.00" fill="#FEE99E" />
<rect x="141.50" y="762.70" width="8.30" height="7.00" fill="#FEECA3" />
<rect x="149.80" y="762.70" width="8.30" height="7.00" fill="#FEE699" />
<rect x="158.10" y="762.70" width="8.30" height="7.00" fill="#FDAE6F" />
<rect x="166.40" y="762.70" width="8.30" height="7.00" fill="#FEE699" />
<rect x="174.70" y="762.70" width="8.30" height="7.00" fill="#FED88A" />
<rect x="183.00" y="762.70" width="8.30" height="7.00" fill="#FEE395" />
<rect x="191.30" y="762.70" width="8.30" height="7.00" fill="#FECF85" />
<rect x="199.60" y="762.70" width="8.30" height="7.00" fill="#FED88A" />
<rect x="207.90" y="762.70" width="8.30" height="7.00" fill="#FDC780" />
<rect x="216.20" y="762.70" width="8.30" height="7.00" fill="#FDC780" />
<rect x="224.50" y="762.70" width="8.30" height="7.00" fill="#FEE395" />
<rect x="232.80" y="762.70" width="8.30" height="7.00" fill="#FFF6B1" />
<rect x="241.10" y="762.70" width="8.30" height="7.00" fill="#FC955E" />
<rect x="249.40" y="762.70" width="8.30" height="7.00" fill="#FDB674" />
<rect x="257.70" y="762.70" width="8.30" height="7.00" fill="#FDC780" />
<rect x="266.00" y="762.70" width="8.30" height="7.00" fill="#FDB674" />
<rect x="274.30" y="762.70" width="8.30" height="7.00" fill="#FECF85" />
<rect x="282.60" y="762.70" width="8.30" height="7.00" fill="#FECF85" />
<rect x="290.90" y="762.70" width="8.30" height="7.00" fill="#FEE090" />
<rect x="299.20" y="762.70" width="8.30" height="7.00" fill="#FDBF7A" />
<rect x="307.50" y="762.70" width="8.30" height="7.00" fill="#FED88A" />
<rect x="315.80" y="762.70" width="8.30" height="7.00" fill="#FDB674" />
<rect x="324.10" y="762.70" width="8.30" height="7.00" fill="#FECF85" />
<rect x="332.40" y="762.70" width="8.30" height="7.00" fill="#FECF85" />
<rect x="340.70" y="762.70" width="8.30" height="7.00" fill="#FDB674" />
<rect x="349.00" y="762.70" width="8.30" height="7.00" fill="#FEE090" />
<rect x="359.30" y="762.70" width="7.50" height="7.00" fill="#F8807A" />
<text x="46.60" y="769.30" font-size="8.5" text-anchor="end" fill="#231F20" class="ns">P6T1</text>
<rect x="50.20" y="769.70" width="8.30" height="7.00" fill="#FEE699" />
<rect x="58.50" y="769.70" width="8.30" height="7.00" fill="#F6FBD0" />
<rect x="66.80" y="769.70" width="8.30" height="7.00" fill="#FEE699" />
<rect x="75.10" y="769.70" width="8.30" height="7.00" fill="#FED88A" />
<rect x="83.40" y="769.70" width="8.30" height="7.00" fill="#FEE99E" />
<rect x="91.70" y="769.70" width="8.30" height="7.00" fill="#F3FAD6" />
<rect x="100.00" y="769.70" width="8.30" height="7.00" fill="#FFF6B1" />
<rect x="108.30" y="769.70" width="8.30" height="7.00" fill="#FEE090" />
<rect x="116.60" y="769.70" width="8.30" height="7.00" fill="#FEE395" />
<rect x="124.90" y="769.70" width="8.30" height="7.00" fill="#FDAE6F" />
<rect x="133.20" y="769.70" width="8.30" height="7.00" fill="#FFF3AC" />
<rect x="141.50" y="769.70" width="8.30" height="7.00" fill="#FEECA3" />
<rect x="149.80" y="769.70" width="8.30" height="7.00" fill="#FEE090" />
<rect x="158.10" y="769.70" width="8.30" height="7.00" fill="#FC955E" />
<rect x="166.40" y="769.70" width="8.30" height="7.00" fill="#FFF6B1" />
<rect x="174.70" y="769.70" width="8.30" height="7.00" fill="#FDA66A" />
<rect x="183.00" y="769.70" width="8.30" height="7.00" fill="#FFF6B1" />
<rect x="191.30" y="769.70" width="8.30" height="7.00" fill="#FC8D59" />
<rect x="199.60" y="769.70" width="8.30" height="7.00" fill="#FEF0A8" />
<rect x="207.90" y="769.70" width="8.30" height="7.00" fill="#FC8D59" />
<rect x="216.20" y="769.70" width="8.30" height="7.00" fill="#FC955E" />
<rect x="224.50" y="769.70" width="8.30" height="7.00" fill="#FC9E64" />
<rect x="232.80" y="769.70" width="8.30" height="7.00" fill="#FFFCBA" />
<rect x="241.10" y="769.70" width="8.30" height="7.00" fill="#F88454" />
<rect x="249.40" y="769.70" width="8.30" height="7.00" fill="#FEE090" />
<rect x="257.70" y="769.70" width="8.30" height="7.00" fill="#FFF6B1" />
<rect x="266.00" y="769.70" width="8.30" height="7.00" fill="#FEE090" />
<rect x="274.30" y="769.70" width="8.30" height="7.00" fill="#FEF0A8" />
<rect x="282.60" y="769.70" width="8.30" height="7.00" fill="#FEE699" />
<rect x="290.90" y="769.70" width="8.30" height="7.00" fill="#F9FDCA" />
<rect x="299.20" y="769.70" width="8.30" height="7.00" fill="#FEE699" />
<rect x="307.50" y="769.70" width="8.30" height="7.00" fill="#FEE699" />
<rect x="315.80" y="769.70" width="8.30" height="7.00" fill="#FEF0A8" />
<rect x="324.10" y="769.70" width="8.30" height="7.00" fill="#FDBF7A" />
<rect x="332.40" y="769.70" width="8.30" height="7.00" fill="#FFFCBA" />
<rect x="340.70" y="769.70" width="8.30" height="7.00" fill="#FEE699" />
<rect x="349.00" y="769.70" width="8.30" height="7.00" fill="#FDB674" />
<rect x="359.30" y="769.70" width="7.50" height="7.00" fill="#00CC55" />
<text x="46.60" y="776.30" font-size="8.5" text-anchor="end" fill="#231F20" class="ns">P6T2</text>
<rect x="50.20" y="776.70" width="8.30" height="7.00" fill="#FEE699" />
<rect x="58.50" y="776.70" width="8.30" height="7.00" fill="#FDC780" />
<rect x="66.80" y="776.70" width="8.30" height="7.00" fill="#FFF3AC" />
<rect x="75.10" y="776.70" width="8.30" height="7.00" fill="#FFF9B6" />
<rect x="83.40" y="776.70" width="8.30" height="7.00" fill="#FFF6B1" />
<rect x="91.70" y="776.70" width="8.30" height="7.00" fill="#E3F4F2" />
<rect x="100.00" y="776.70" width="8.30" height="7.00" fill="#FFF9B6" />
<rect x="108.30" y="776.70" width="8.30" height="7.00" fill="#FFF9B6" />
<rect x="116.60" y="776.70" width="8.30" height="7.00" fill="#FFF3AC" />
<rect x="124.90" y="776.70" width="8.30" height="7.00" fill="#FEE99E" />
<rect x="133.20" y="776.70" width="8.30" height="7.00" fill="#FEECA3" />
<rect x="141.50" y="776.70" width="8.30" height="7.00" fill="#FFF6B1" />
<rect x="149.80" y="776.70" width="8.30" height="7.00" fill="#FEE699" />
<rect x="158.10" y="776.70" width="8.30" height="7.00" fill="#FFF3AC" />
<rect x="166.40" y="776.70" width="8.30" height="7.00" fill="#FEF0A8" />
<rect x="174.70" y="776.70" width="8.30" height="7.00" fill="#FFF3AC" />
<rect x="183.00" y="776.70" width="8.30" height="7.00" fill="#FEE090" />
<rect x="191.30" y="776.70" width="8.30" height="7.00" fill="#FFF3AC" />
<rect x="199.60" y="776.70" width="8.30" height="7.00" fill="#FFF3AC" />
<rect x="207.90" y="776.70" width="8.30" height="7.00" fill="#FEECA3" />
<rect x="216.20" y="776.70" width="8.30" height="7.00" fill="#FFF3AC" />
<rect x="224.50" y="776.70" width="8.30" height="7.00" fill="#FFF6B1" />
<rect x="232.80" y="776.70" width="8.30" height="7.00" fill="#FEECA3" />
<rect x="241.10" y="776.70" width="8.30" height="7.00" fill="#FFF3AC" />
<rect x="249.40" y="776.70" width="8.30" height="7.00" fill="#FEE395" />
<rect x="257.70" y="776.70" width="8.30" height="7.00" fill="#FDC780" />
<rect x="266.00" y="776.70" width="8.30" height="7.00" fill="#F6FBD0" />
<rect x="274.30" y="776.70" width="8.30" height="7.00" fill="#FC955E" />
<rect x="282.60" y="776.70" width="8.30" height="7.00" fill="#FFF9B6" />
<rect x="290.90" y="776.70" width="8.30" height="7.00" fill="#FEE395" />
<rect x="299.20" y="776.70" width="8.30" height="7.00" fill="#FFF6B1" />
<rect x="307.50" y="776.70" width="8.30" height="7.00" fill="#FECF85" />
<rect x="315.80" y="776.70" width="8.30" height="7.00" fill="#FEE699" />
<rect x="324.10" y="776.70" width="8.30" height="7.00" fill="#FDBF7A" />
<rect x="332.40" y="776.70" width="8.30" height="7.00" fill="#FDB674" />
<rect x="340.70" y="776.70" width="8.30" height="7.00" fill="#FEE395" />
<rect x="349.00" y="776.70" width="8.30" height="7.00" fill="#FEE395" />
<rect x="359.30" y="776.70" width="7.50" height="7.00" fill="#F8807A" />
<text x="46.60" y="783.30" font-size="8.5" text-anchor="end" fill="#231F20" class="ns">P6T3</text>
<line x1="50.20" y1="762.70" x2="50.20" y2="783.70" stroke="#A2A2A2" stroke-width="0.9"/>
<line x1="58.50" y1="762.70" x2="58.50" y2="783.70" stroke="#A2A2A2" stroke-width="0.9"/>
<line x1="66.80" y1="762.70" x2="66.80" y2="783.70" stroke="#A2A2A2" stroke-width="0.9"/>
<line x1="75.10" y1="762.70" x2="75.10" y2="783.70" stroke="#A2A2A2" stroke-width="0.9"/>
<line x1="83.40" y1="762.70" x2="83.40" y2="783.70" stroke="#A2A2A2" stroke-width="0.9"/>
<line x1="91.70" y1="762.70" x2="91.70" y2="783.70" stroke="#A2A2A2" stroke-width="0.9"/>
<line x1="100.00" y1="762.70" x2="100.00" y2="783.70" stroke="#A2A2A2" stroke-width="0.9"/>
<line x1="108.30" y1="762.70" x2="108.30" y2="783.70" stroke="#A2A2A2" stroke-width="0.9"/>
<line x1="116.60" y1="762.70" x2="116.60" y2="783.70" stroke="#A2A2A2" stroke-width="0.9"/>
<line x1="124.90" y1="762.70" x2="124.90" y2="783.70" stroke="#A2A2A2" stroke-width="0.9"/>
<line x1="133.20" y1="762.70" x2="133.20" y2="783.70" stroke="#A2A2A2" stroke-width="0.9"/>
<line x1="141.50" y1="762.70" x2="141.50" y2="783.70" stroke="#A2A2A2" stroke-width="0.9"/>
<line x1="149.80" y1="762.70" x2="149.80" y2="783.70" stroke="#A2A2A2" stroke-width="0.9"/>
<line x1="158.10" y1="762.70" x2="158.10" y2="783.70" stroke="#A2A2A2" stroke-width="0.9"/>
<line x1="166.40" y1="762.70" x2="166.40" y2="783.70" stroke="#A2A2A2" stroke-width="0.9"/>
<line x1="174.70" y1="762.70" x2="174.70" y2="783.70" stroke="#A2A2A2" stroke-width="0.9"/>
<line x1="183.00" y1="762.70" x2="183.00" y2="783.70" stroke="#A2A2A2" stroke-width="0.9"/>
<line x1="191.30" y1="762.70" x2="191.30" y2="783.70" stroke="#A2A2A2" stroke-width="0.9"/>
<line x1="199.60" y1="762.70" x2="199.60" y2="783.70" stroke="#A2A2A2" stroke-width="0.9"/>
<line x1="207.90" y1="762.70" x2="207.90" y2="783.70" stroke="#A2A2A2" stroke-width="0.9"/>
<line x1="216.20" y1="762.70" x2="216.20" y2="783.70" stroke="#A2A2A2" stroke-width="0.9"/>
<line x1="224.50" y1="762.70" x2="224.50" y2="783.70" stroke="#A2A2A2" stroke-width="0.9"/>
<line x1="232.80" y1="762.70" x2="232.80" y2="783.70" stroke="#A2A2A2" stroke-width="0.9"/>
<line x1="241.10" y1="762.70" x2="241.10" y2="783.70" stroke="#A2A2A2" stroke-width="0.9"/>
<line x1="249.40" y1="762.70" x2="249.40" y2="783.70" stroke="#A2A2A2" stroke-width="0.9"/>
<line x1="257.70" y1="762.70" x2="257.70" y2="783.70" stroke="#A2A2A2" stroke-width="0.9"/>
<line x1="266.00" y1="762.70" x2="266.00" y2="783.70" stroke="#A2A2A2" stroke-width="0.9"/>
<line x1="274.30" y1="762.70" x2="274.30" y2="783.70" stroke="#A2A2A2" stroke-width="0.9"/>
<line x1="282.60" y1="762.70" x2="282.60" y2="783.70" stroke="#A2A2A2" stroke-width="0.9"/>
<line x1="290.90" y1="762.70" x2="290.90" y2="783.70" stroke="#A2A2A2" stroke-width="0.9"/>
<line x1="299.20" y1="762.70" x2="299.20" y2="783.70" stroke="#A2A2A2" stroke-width="0.9"/>
<line x1="307.50" y1="762.70" x2="307.50" y2="783.70" stroke="#A2A2A2" stroke-width="0.9"/>
<line x1="315.80" y1="762.70" x2="315.80" y2="783.70" stroke="#A2A2A2" stroke-width="0.9"/>
<line x1="324.10" y1="762.70" x2="324.10" y2="783.70" stroke="#A2A2A2" stroke-width="0.9"/>
<line x1="332.40" y1="762.70" x2="332.40" y2="783.70" stroke="#A2A2A2" stroke-width="0.9"/>
<line x1="340.70" y1="762.70" x2="340.70" y2="783.70" stroke="#A2A2A2" stroke-width="0.9"/>
<line x1="349.00" y1="762.70" x2="349.00" y2="783.70" stroke="#A2A2A2" stroke-width="0.9"/>
<line x1="357.30" y1="762.70" x2="357.30" y2="783.70" stroke="#A2A2A2" stroke-width="0.9"/>
<line x1="50.20" y1="762.70" x2="357.30" y2="762.70" stroke="#A2A2A2" stroke-width="0.9"/>
<line x1="359.3" y1="762.70" x2="366.8" y2="762.70" stroke="#A2A2A2" stroke-width="0.9"/>
<line x1="50.20" y1="769.70" x2="357.30" y2="769.70" stroke="#A2A2A2" stroke-width="0.9"/>
<line x1="359.3" y1="769.70" x2="366.8" y2="769.70" stroke="#A2A2A2" stroke-width="0.9"/>
<line x1="50.20" y1="776.70" x2="357.30" y2="776.70" stroke="#A2A2A2" stroke-width="0.9"/>
<line x1="359.3" y1="776.70" x2="366.8" y2="776.70" stroke="#A2A2A2" stroke-width="0.9"/>
<line x1="50.20" y1="783.70" x2="357.30" y2="783.70" stroke="#A2A2A2" stroke-width="0.9"/>
<line x1="359.3" y1="783.70" x2="366.8" y2="783.70" stroke="#A2A2A2" stroke-width="0.9"/>
<line x1="359.3" y1="762.70" x2="359.3" y2="783.70" stroke="#A2A2A2" stroke-width="0.9"/>
<line x1="366.8" y1="762.70" x2="366.8" y2="783.70" stroke="#A2A2A2" stroke-width="0.9"/>
<rect x="50.20" y="786.40" width="8.30" height="7.00" fill="#FFF6B1" />
<rect x="58.50" y="786.40" width="8.30" height="7.00" fill="#FEE699" />
<rect x="66.80" y="786.40" width="8.30" height="7.00" fill="#F3FAD6" />
<rect x="75.10" y="786.40" width="8.30" height="7.00" fill="#F0F9DC" />
<rect x="83.40" y="786.40" width="8.30" height="7.00" fill="#E3F4F2" />
<rect x="91.70" y="786.40" width="8.30" height="7.00" fill="#F3FAD6" />
<rect x="100.00" y="786.40" width="8.30" height="7.00" fill="#F3FAD6" />
<rect x="108.30" y="786.40" width="8.30" height="7.00" fill="#CEE7F1" />
<rect x="116.60" y="786.40" width="8.30" height="7.00" fill="#ECF8E1" />
<rect x="124.90" y="786.40" width="8.30" height="7.00" fill="#E3F4F2" />
<rect x="133.20" y="786.40" width="8.30" height="7.00" fill="#FFF9B6" />
<rect x="141.50" y="786.40" width="8.30" height="7.00" fill="#ECF8E1" />
<rect x="149.80" y="786.40" width="8.30" height="7.00" fill="#E3F4F2" />
<rect x="158.10" y="786.40" width="8.30" height="7.00" fill="#F0F9DC" />
<rect x="166.40" y="786.40" width="8.30" height="7.00" fill="#FEE99E" />
<rect x="174.70" y="786.40" width="8.30" height="7.00" fill="#E3F4F2" />
<rect x="183.00" y="786.40" width="8.30" height="7.00" fill="#D7EDF5" />
<rect x="191.30" y="786.40" width="8.30" height="7.00" fill="#F3FAD6" />
<rect x="199.60" y="786.40" width="8.30" height="7.00" fill="#E3F4F2" />
<rect x="207.90" y="786.40" width="8.30" height="7.00" fill="#E3F4F2" />
<rect x="216.20" y="786.40" width="8.30" height="7.00" fill="#F3FAD6" />
<rect x="224.50" y="786.40" width="8.30" height="7.00" fill="#CEE7F1" />
<rect x="232.80" y="786.40" width="8.30" height="7.00" fill="#F6FBD0" />
<rect x="241.10" y="786.40" width="8.30" height="7.00" fill="#F3FAD6" />
<rect x="249.40" y="786.40" width="8.30" height="7.00" fill="#FFF9B6" />
<rect x="257.70" y="786.40" width="8.30" height="7.00" fill="#FFF3AC" />
<rect x="266.00" y="786.40" width="8.30" height="7.00" fill="#D7EDF5" />
<rect x="274.30" y="786.40" width="8.30" height="7.00" fill="#FEE699" />
<rect x="282.60" y="786.40" width="8.30" height="7.00" fill="#ECF8E1" />
<rect x="290.90" y="786.40" width="8.30" height="7.00" fill="#FFFCBA" />
<rect x="299.20" y="786.40" width="8.30" height="7.00" fill="#FFF6B1" />
<rect x="307.50" y="786.40" width="8.30" height="7.00" fill="#ECF8E1" />
<rect x="315.80" y="786.40" width="8.30" height="7.00" fill="#F3FAD6" />
<rect x="324.10" y="786.40" width="8.30" height="7.00" fill="#F3FAD6" />
<rect x="332.40" y="786.40" width="8.30" height="7.00" fill="#F6FBD0" />
<rect x="340.70" y="786.40" width="8.30" height="7.00" fill="#FFF9B6" />
<rect x="349.00" y="786.40" width="8.30" height="7.00" fill="#F6FBD0" />
<rect x="359.30" y="786.40" width="7.50" height="7.00" fill="#F8807A" />
<text x="46.60" y="793.00" font-size="8.5" text-anchor="end" fill="#231F20" class="ns">P7T1</text>
<rect x="50.20" y="793.40" width="8.30" height="7.00" fill="#FEE395" />
<rect x="58.50" y="793.40" width="8.30" height="7.00" fill="#FFF3AC" />
<rect x="66.80" y="793.40" width="8.30" height="7.00" fill="#FC955E" />
<rect x="75.10" y="793.40" width="8.30" height="7.00" fill="#FFF6B1" />
<rect x="83.40" y="793.40" width="8.30" height="7.00" fill="#FEE99E" />
<rect x="91.70" y="793.40" width="8.30" height="7.00" fill="#FEE699" />
<rect x="100.00" y="793.40" width="8.30" height="7.00" fill="#FEE699" />
<rect x="108.30" y="793.40" width="8.30" height="7.00" fill="#FEE395" />
<rect x="116.60" y="793.40" width="8.30" height="7.00" fill="#FEE699" />
<rect x="124.90" y="793.40" width="8.30" height="7.00" fill="#FEE699" />
<rect x="133.20" y="793.40" width="8.30" height="7.00" fill="#FEE699" />
<rect x="141.50" y="793.40" width="8.30" height="7.00" fill="#FEE395" />
<rect x="149.80" y="793.40" width="8.30" height="7.00" fill="#FEE699" />
<rect x="158.10" y="793.40" width="8.30" height="7.00" fill="#FFF6B1" />
<rect x="166.40" y="793.40" width="8.30" height="7.00" fill="#FDAE6F" />
<rect x="174.70" y="793.40" width="8.30" height="7.00" fill="#FEECA3" />
<rect x="183.00" y="793.40" width="8.30" height="7.00" fill="#FDAE6F" />
<rect x="191.30" y="793.40" width="8.30" height="7.00" fill="#FEE99E" />
<rect x="199.60" y="793.40" width="8.30" height="7.00" fill="#FEE99E" />
<rect x="207.90" y="793.40" width="8.30" height="7.00" fill="#FEF0A8" />
<rect x="216.20" y="793.40" width="8.30" height="7.00" fill="#FFF3AC" />
<rect x="224.50" y="793.40" width="8.30" height="7.00" fill="#FFF9B6" />
<rect x="232.80" y="793.40" width="8.30" height="7.00" fill="#F9FDCA" />
<rect x="241.10" y="793.40" width="8.30" height="7.00" fill="#F9FDCA" />
<rect x="249.40" y="793.40" width="8.30" height="7.00" fill="#FEE699" />
<rect x="257.70" y="793.40" width="8.30" height="7.00" fill="#FEE699" />
<rect x="266.00" y="793.40" width="8.30" height="7.00" fill="#FFF9B6" />
<rect x="274.30" y="793.40" width="8.30" height="7.00" fill="#F3FAD6" />
<rect x="282.60" y="793.40" width="8.30" height="7.00" fill="#FEECA3" />
<rect x="290.90" y="793.40" width="8.30" height="7.00" fill="#FFF6B1" />
<rect x="299.20" y="793.40" width="8.30" height="7.00" fill="#FDA66A" />
<rect x="307.50" y="793.40" width="8.30" height="7.00" fill="#FECF85" />
<rect x="315.80" y="793.40" width="8.30" height="7.00" fill="#FFF9B6" />
<rect x="324.10" y="793.40" width="8.30" height="7.00" fill="#FEECA3" />
<rect x="332.40" y="793.40" width="8.30" height="7.00" fill="#FFF3AC" />
<rect x="340.70" y="793.40" width="8.30" height="7.00" fill="#FFF6B1" />
<rect x="349.00" y="793.40" width="8.30" height="7.00" fill="#FEECA3" />
<rect x="359.30" y="793.40" width="7.50" height="7.00" fill="#F8807A" />
<text x="46.60" y="800.00" font-size="8.5" text-anchor="end" fill="#231F20" class="ns">P7T2</text>
<line x1="50.20" y1="786.40" x2="50.20" y2="800.40" stroke="#A2A2A2" stroke-width="0.9"/>
<line x1="58.50" y1="786.40" x2="58.50" y2="800.40" stroke="#A2A2A2" stroke-width="0.9"/>
<line x1="66.80" y1="786.40" x2="66.80" y2="800.40" stroke="#A2A2A2" stroke-width="0.9"/>
<line x1="75.10" y1="786.40" x2="75.10" y2="800.40" stroke="#A2A2A2" stroke-width="0.9"/>
<line x1="83.40" y1="786.40" x2="83.40" y2="800.40" stroke="#A2A2A2" stroke-width="0.9"/>
<line x1="91.70" y1="786.40" x2="91.70" y2="800.40" stroke="#A2A2A2" stroke-width="0.9"/>
<line x1="100.00" y1="786.40" x2="100.00" y2="800.40" stroke="#A2A2A2" stroke-width="0.9"/>
<line x1="108.30" y1="786.40" x2="108.30" y2="800.40" stroke="#A2A2A2" stroke-width="0.9"/>
<line x1="116.60" y1="786.40" x2="116.60" y2="800.40" stroke="#A2A2A2" stroke-width="0.9"/>
<line x1="124.90" y1="786.40" x2="124.90" y2="800.40" stroke="#A2A2A2" stroke-width="0.9"/>
<line x1="133.20" y1="786.40" x2="133.20" y2="800.40" stroke="#A2A2A2" stroke-width="0.9"/>
<line x1="141.50" y1="786.40" x2="141.50" y2="800.40" stroke="#A2A2A2" stroke-width="0.9"/>
<line x1="149.80" y1="786.40" x2="149.80" y2="800.40" stroke="#A2A2A2" stroke-width="0.9"/>
<line x1="158.10" y1="786.40" x2="158.10" y2="800.40" stroke="#A2A2A2" stroke-width="0.9"/>
<line x1="166.40" y1="786.40" x2="166.40" y2="800.40" stroke="#A2A2A2" stroke-width="0.9"/>
<line x1="174.70" y1="786.40" x2="174.70" y2="800.40" stroke="#A2A2A2" stroke-width="0.9"/>
<line x1="183.00" y1="786.40" x2="183.00" y2="800.40" stroke="#A2A2A2" stroke-width="0.9"/>
<line x1="191.30" y1="786.40" x2="191.30" y2="800.40" stroke="#A2A2A2" stroke-width="0.9"/>
<line x1="199.60" y1="786.40" x2="199.60" y2="800.40" stroke="#A2A2A2" stroke-width="0.9"/>
<line x1="207.90" y1="786.40" x2="207.90" y2="800.40" stroke="#A2A2A2" stroke-width="0.9"/>
<line x1="216.20" y1="786.40" x2="216.20" y2="800.40" stroke="#A2A2A2" stroke-width="0.9"/>
<line x1="224.50" y1="786.40" x2="224.50" y2="800.40" stroke="#A2A2A2" stroke-width="0.9"/>
<line x1="232.80" y1="786.40" x2="232.80" y2="800.40" stroke="#A2A2A2" stroke-width="0.9"/>
<line x1="241.10" y1="786.40" x2="241.10" y2="800.40" stroke="#A2A2A2" stroke-width="0.9"/>
<line x1="249.40" y1="786.40" x2="249.40" y2="800.40" stroke="#A2A2A2" stroke-width="0.9"/>
<line x1="257.70" y1="786.40" x2="257.70" y2="800.40" stroke="#A2A2A2" stroke-width="0.9"/>
<line x1="266.00" y1="786.40" x2="266.00" y2="800.40" stroke="#A2A2A2" stroke-width="0.9"/>
<line x1="274.30" y1="786.40" x2="274.30" y2="800.40" stroke="#A2A2A2" stroke-width="0.9"/>
<line x1="282.60" y1="786.40" x2="282.60" y2="800.40" stroke="#A2A2A2" stroke-width="0.9"/>
<line x1="290.90" y1="786.40" x2="290.90" y2="800.40" stroke="#A2A2A2" stroke-width="0.9"/>
<line x1="299.20" y1="786.40" x2="299.20" y2="800.40" stroke="#A2A2A2" stroke-width="0.9"/>
<line x1="307.50" y1="786.40" x2="307.50" y2="800.40" stroke="#A2A2A2" stroke-width="0.9"/>
<line x1="315.80" y1="786.40" x2="315.80" y2="800.40" stroke="#A2A2A2" stroke-width="0.9"/>
<line x1="324.10" y1="786.40" x2="324.10" y2="800.40" stroke="#A2A2A2" stroke-width="0.9"/>
<line x1="332.40" y1="786.40" x2="332.40" y2="800.40" stroke="#A2A2A2" stroke-width="0.9"/>
<line x1="340.70" y1="786.40" x2="340.70" y2="800.40" stroke="#A2A2A2" stroke-width="0.9"/>
<line x1="349.00" y1="786.40" x2="349.00" y2="800.40" stroke="#A2A2A2" stroke-width="0.9"/>
<line x1="357.30" y1="786.40" x2="357.30" y2="800.40" stroke="#A2A2A2" stroke-width="0.9"/>
<line x1="50.20" y1="786.40" x2="357.30" y2="786.40" stroke="#A2A2A2" stroke-width="0.9"/>
<line x1="359.3" y1="786.40" x2="366.8" y2="786.40" stroke="#A2A2A2" stroke-width="0.9"/>
<line x1="50.20" y1="793.40" x2="357.30" y2="793.40" stroke="#A2A2A2" stroke-width="0.9"/>
<line x1="359.3" y1="793.40" x2="366.8" y2="793.40" stroke="#A2A2A2" stroke-width="0.9"/>
<line x1="50.20" y1="800.40" x2="357.30" y2="800.40" stroke="#A2A2A2" stroke-width="0.9"/>
<line x1="359.3" y1="800.40" x2="366.8" y2="800.40" stroke="#A2A2A2" stroke-width="0.9"/>
<line x1="359.3" y1="786.40" x2="359.3" y2="800.40" stroke="#A2A2A2" stroke-width="0.9"/>
<line x1="366.8" y1="786.40" x2="366.8" y2="800.40" stroke="#A2A2A2" stroke-width="0.9"/>
<rect x="50.20" y="803.10" width="8.30" height="7.00" fill="#D7EDF5" />
<rect x="58.50" y="803.10" width="8.30" height="7.00" fill="#DFF3F8" />
<rect x="66.80" y="803.10" width="8.30" height="7.00" fill="#C5E1EE" />
<rect x="75.10" y="803.10" width="8.30" height="7.00" fill="#F6FBD0" />
<rect x="83.40" y="803.10" width="8.30" height="7.00" fill="#F6FBD0" />
<rect x="91.70" y="803.10" width="8.30" height="7.00" fill="#F6FBD0" />
<rect x="100.00" y="803.10" width="8.30" height="7.00" fill="#F3FAD6" />
<rect x="108.30" y="803.10" width="8.30" height="7.00" fill="#F6FBD0" />
<rect x="116.60" y="803.10" width="8.30" height="7.00" fill="#E3F4F2" />
<rect x="124.90" y="803.10" width="8.30" height="7.00" fill="#E3F4F2" />
<rect x="133.20" y="803.10" width="8.30" height="7.00" fill="#FFF6B1" />
<rect x="141.50" y="803.10" width="8.30" height="7.00" fill="#F3FAD6" />
<rect x="149.80" y="803.10" width="8.30" height="7.00" fill="#F3FAD6" />
<rect x="158.10" y="803.10" width="8.30" height="7.00" fill="#F6FBD0" />
<rect x="166.40" y="803.10" width="8.30" height="7.00" fill="#FFF6B1" />
<rect x="174.70" y="803.10" width="8.30" height="7.00" fill="#F0F9DC" />
<rect x="183.00" y="803.10" width="8.30" height="7.00" fill="#F6FBD0" />
<rect x="191.30" y="803.10" width="8.30" height="7.00" fill="#F3FAD6" />
<rect x="199.60" y="803.10" width="8.30" height="7.00" fill="#FFF9B6" />
<rect x="207.90" y="803.10" width="8.30" height="7.00" fill="#F0F9DC" />
<rect x="216.20" y="803.10" width="8.30" height="7.00" fill="#F3FAD6" />
<rect x="224.50" y="803.10" width="8.30" height="7.00" fill="#F0F9DC" />
<rect x="232.80" y="803.10" width="8.30" height="7.00" fill="#FFF9B6" />
<rect x="241.10" y="803.10" width="8.30" height="7.00" fill="#FEE99E" />
<rect x="249.40" y="803.10" width="8.30" height="7.00" fill="#F0F9DC" />
<rect x="257.70" y="803.10" width="8.30" height="7.00" fill="#F0F9DC" />
<rect x="266.00" y="803.10" width="8.30" height="7.00" fill="#F3FAD6" />
<rect x="274.30" y="803.10" width="8.30" height="7.00" fill="#FFF9B6" />
<rect x="282.60" y="803.10" width="8.30" height="7.00" fill="#F0F9DC" />
<rect x="290.90" y="803.10" width="8.30" height="7.00" fill="#FFFCBA" />
<rect x="299.20" y="803.10" width="8.30" height="7.00" fill="#DFF3F8" />
<rect x="307.50" y="803.10" width="8.30" height="7.00" fill="#E3F4F2" />
<rect x="315.80" y="803.10" width="8.30" height="7.00" fill="#FFF9B6" />
<rect x="324.10" y="803.10" width="8.30" height="7.00" fill="#CEE7F1" />
<rect x="332.40" y="803.10" width="8.30" height="7.00" fill="#F0F9DC" />
<rect x="340.70" y="803.10" width="8.30" height="7.00" fill="#F3FAD6" />
<rect x="349.00" y="803.10" width="8.30" height="7.00" fill="#E3F4F2" />
<rect x="359.30" y="803.10" width="7.50" height="7.00" fill="#F8807A" />
<text x="46.60" y="809.70" font-size="8.5" text-anchor="end" fill="#231F20" class="ns">P8T1</text>
<rect x="50.20" y="810.10" width="8.30" height="7.00" fill="#E3F4F2" />
<rect x="58.50" y="810.10" width="8.30" height="7.00" fill="#FC955E" />
<rect x="66.80" y="810.10" width="8.30" height="7.00" fill="#FFF9B6" />
<rect x="75.10" y="810.10" width="8.30" height="7.00" fill="#FEE699" />
<rect x="83.40" y="810.10" width="8.30" height="7.00" fill="#FEE99E" />
<rect x="91.70" y="810.10" width="8.30" height="7.00" fill="#FEE99E" />
<rect x="100.00" y="810.10" width="8.30" height="7.00" fill="#FEE699" />
<rect x="108.30" y="810.10" width="8.30" height="7.00" fill="#FEE395" />
<rect x="116.60" y="810.10" width="8.30" height="7.00" fill="#FEE699" />
<rect x="124.90" y="810.10" width="8.30" height="7.00" fill="#FEF0A8" />
<rect x="133.20" y="810.10" width="8.30" height="7.00" fill="#FC9E64" />
<rect x="141.50" y="810.10" width="8.30" height="7.00" fill="#FEE699" />
<rect x="149.80" y="810.10" width="8.30" height="7.00" fill="#FEE090" />
<rect x="158.10" y="810.10" width="8.30" height="7.00" fill="#FEE395" />
<rect x="166.40" y="810.10" width="8.30" height="7.00" fill="#FEE090" />
<rect x="174.70" y="810.10" width="8.30" height="7.00" fill="#FFF9B6" />
<rect x="183.00" y="810.10" width="8.30" height="7.00" fill="#FFF9B6" />
<rect x="191.30" y="810.10" width="8.30" height="7.00" fill="#FFF6B1" />
<rect x="199.60" y="810.10" width="8.30" height="7.00" fill="#F88454" />
<rect x="207.90" y="810.10" width="8.30" height="7.00" fill="#F6FBD0" />
<rect x="216.20" y="810.10" width="8.30" height="7.00" fill="#FEF0A8" />
<rect x="224.50" y="810.10" width="8.30" height="7.00" fill="#FFF6B1" />
<rect x="232.80" y="810.10" width="8.30" height="7.00" fill="#DE4331" />
<rect x="241.10" y="810.10" width="8.30" height="7.00" fill="#F3FAD6" />
<rect x="249.40" y="810.10" width="8.30" height="7.00" fill="#E3F4F2" />
<rect x="257.70" y="810.10" width="8.30" height="7.00" fill="#FDB674" />
<rect x="266.00" y="810.10" width="8.30" height="7.00" fill="#F6FBD0" />
<rect x="274.30" y="810.10" width="8.30" height="7.00" fill="#FEE090" />
<rect x="282.60" y="810.10" width="8.30" height="7.00" fill="#FFF9B6" />
<rect x="290.90" y="810.10" width="8.30" height="7.00" fill="#D73027" />
<rect x="299.20" y="810.10" width="8.30" height="7.00" fill="#F9FDCA" />
<rect x="307.50" y="810.10" width="8.30" height="7.00" fill="#FED88A" />
<rect x="315.80" y="810.10" width="8.30" height="7.00" fill="#FFF9B6" />
<rect x="324.10" y="810.10" width="8.30" height="7.00" fill="#FDAE6F" />
<rect x="332.40" y="810.10" width="8.30" height="7.00" fill="#DB392C" />
<rect x="340.70" y="810.10" width="8.30" height="7.00" fill="#FEE699" />
<rect x="349.00" y="810.10" width="8.30" height="7.00" fill="#FEE99E" />
<rect x="359.30" y="810.10" width="7.50" height="7.00" fill="#F8807A" />
<text x="46.60" y="816.70" font-size="8.5" text-anchor="end" fill="#231F20" class="ns">P8T2</text>
<rect x="50.20" y="817.10" width="8.30" height="7.00" fill="#FEECA3" />
<rect x="58.50" y="817.10" width="8.30" height="7.00" fill="#FDC780" />
<rect x="66.80" y="817.10" width="8.30" height="7.00" fill="#FEECA3" />
<rect x="75.10" y="817.10" width="8.30" height="7.00" fill="#FEECA3" />
<rect x="83.40" y="817.10" width="8.30" height="7.00" fill="#FEE99E" />
<rect x="91.70" y="817.10" width="8.30" height="7.00" fill="#E3F4F2" />
<rect x="100.00" y="817.10" width="8.30" height="7.00" fill="#FFF6B1" />
<rect x="108.30" y="817.10" width="8.30" height="7.00" fill="#FEE699" />
<rect x="116.60" y="817.10" width="8.30" height="7.00" fill="#FEECA3" />
<rect x="124.90" y="817.10" width="8.30" height="7.00" fill="#FEECA3" />
<rect x="133.20" y="817.10" width="8.30" height="7.00" fill="#FDB674" />
<rect x="141.50" y="817.10" width="8.30" height="7.00" fill="#FFF6B1" />
<rect x="149.80" y="817.10" width="8.30" height="7.00" fill="#FEE699" />
<rect x="158.10" y="817.10" width="8.30" height="7.00" fill="#FFFCBA" />
<rect x="166.40" y="817.10" width="8.30" height="7.00" fill="#FEE395" />
<rect x="174.70" y="817.10" width="8.30" height="7.00" fill="#F9FDCA" />
<rect x="183.00" y="817.10" width="8.30" height="7.00" fill="#E3F4F2" />
<rect x="191.30" y="817.10" width="8.30" height="7.00" fill="#FFF9B6" />
<rect x="199.60" y="817.10" width="8.30" height="7.00" fill="#FFFCBA" />
<rect x="207.90" y="817.10" width="8.30" height="7.00" fill="#F6FBD0" />
<rect x="216.20" y="817.10" width="8.30" height="7.00" fill="#F6FBD0" />
<rect x="224.50" y="817.10" width="8.30" height="7.00" fill="#ECF8E1" />
<rect x="232.80" y="817.10" width="8.30" height="7.00" fill="#FDAE6F" />
<rect x="241.10" y="817.10" width="8.30" height="7.00" fill="#F3FAD6" />
<rect x="249.40" y="817.10" width="8.30" height="7.00" fill="#F6FBD0" />
<rect x="257.70" y="817.10" width="8.30" height="7.00" fill="#FDAE6F" />
<rect x="266.00" y="817.10" width="8.30" height="7.00" fill="#F6FBD0" />
<rect x="274.30" y="817.10" width="8.30" height="7.00" fill="#FEE395" />
<rect x="282.60" y="817.10" width="8.30" height="7.00" fill="#DFF3F8" />
<rect x="290.90" y="817.10" width="8.30" height="7.00" fill="#FDB674" />
<rect x="299.20" y="817.10" width="8.30" height="7.00" fill="#FFF6B1" />
<rect x="307.50" y="817.10" width="8.30" height="7.00" fill="#FEECA3" />
<rect x="315.80" y="817.10" width="8.30" height="7.00" fill="#FFF6B1" />
<rect x="324.10" y="817.10" width="8.30" height="7.00" fill="#FEE99E" />
<rect x="332.40" y="817.10" width="8.30" height="7.00" fill="#FEE699" />
<rect x="340.70" y="817.10" width="8.30" height="7.00" fill="#FFF6B1" />
<rect x="349.00" y="817.10" width="8.30" height="7.00" fill="#FFF3AC" />
<rect x="359.30" y="817.10" width="7.50" height="7.00" fill="#F8807A" />
<text x="46.60" y="823.70" font-size="8.5" text-anchor="end" fill="#231F20" class="ns">P8T3</text>
<line x1="50.20" y1="803.10" x2="50.20" y2="824.10" stroke="#A2A2A2" stroke-width="0.9"/>
<line x1="58.50" y1="803.10" x2="58.50" y2="824.10" stroke="#A2A2A2" stroke-width="0.9"/>
<line x1="66.80" y1="803.10" x2="66.80" y2="824.10" stroke="#A2A2A2" stroke-width="0.9"/>
<line x1="75.10" y1="803.10" x2="75.10" y2="824.10" stroke="#A2A2A2" stroke-width="0.9"/>
<line x1="83.40" y1="803.10" x2="83.40" y2="824.10" stroke="#A2A2A2" stroke-width="0.9"/>
<line x1="91.70" y1="803.10" x2="91.70" y2="824.10" stroke="#A2A2A2" stroke-width="0.9"/>
<line x1="100.00" y1="803.10" x2="100.00" y2="824.10" stroke="#A2A2A2" stroke-width="0.9"/>
<line x1="108.30" y1="803.10" x2="108.30" y2="824.10" stroke="#A2A2A2" stroke-width="0.9"/>
<line x1="116.60" y1="803.10" x2="116.60" y2="824.10" stroke="#A2A2A2" stroke-width="0.9"/>
<line x1="124.90" y1="803.10" x2="124.90" y2="824.10" stroke="#A2A2A2" stroke-width="0.9"/>
<line x1="133.20" y1="803.10" x2="133.20" y2="824.10" stroke="#A2A2A2" stroke-width="0.9"/>
<line x1="141.50" y1="803.10" x2="141.50" y2="824.10" stroke="#A2A2A2" stroke-width="0.9"/>
<line x1="149.80" y1="803.10" x2="149.80" y2="824.10" stroke="#A2A2A2" stroke-width="0.9"/>
<line x1="158.10" y1="803.10" x2="158.10" y2="824.10" stroke="#A2A2A2" stroke-width="0.9"/>
<line x1="166.40" y1="803.10" x2="166.40" y2="824.10" stroke="#A2A2A2" stroke-width="0.9"/>
<line x1="174.70" y1="803.10" x2="174.70" y2="824.10" stroke="#A2A2A2" stroke-width="0.9"/>
<line x1="183.00" y1="803.10" x2="183.00" y2="824.10" stroke="#A2A2A2" stroke-width="0.9"/>
<line x1="191.30" y1="803.10" x2="191.30" y2="824.10" stroke="#A2A2A2" stroke-width="0.9"/>
<line x1="199.60" y1="803.10" x2="199.60" y2="824.10" stroke="#A2A2A2" stroke-width="0.9"/>
<line x1="207.90" y1="803.10" x2="207.90" y2="824.10" stroke="#A2A2A2" stroke-width="0.9"/>
<line x1="216.20" y1="803.10" x2="216.20" y2="824.10" stroke="#A2A2A2" stroke-width="0.9"/>
<line x1="224.50" y1="803.10" x2="224.50" y2="824.10" stroke="#A2A2A2" stroke-width="0.9"/>
<line x1="232.80" y1="803.10" x2="232.80" y2="824.10" stroke="#A2A2A2" stroke-width="0.9"/>
<line x1="241.10" y1="803.10" x2="241.10" y2="824.10" stroke="#A2A2A2" stroke-width="0.9"/>
<line x1="249.40" y1="803.10" x2="249.40" y2="824.10" stroke="#A2A2A2" stroke-width="0.9"/>
<line x1="257.70" y1="803.10" x2="257.70" y2="824.10" stroke="#A2A2A2" stroke-width="0.9"/>
<line x1="266.00" y1="803.10" x2="266.00" y2="824.10" stroke="#A2A2A2" stroke-width="0.9"/>
<line x1="274.30" y1="803.10" x2="274.30" y2="824.10" stroke="#A2A2A2" stroke-width="0.9"/>
<line x1="282.60" y1="803.10" x2="282.60" y2="824.10" stroke="#A2A2A2" stroke-width="0.9"/>
<line x1="290.90" y1="803.10" x2="290.90" y2="824.10" stroke="#A2A2A2" stroke-width="0.9"/>
<line x1="299.20" y1="803.10" x2="299.20" y2="824.10" stroke="#A2A2A2" stroke-width="0.9"/>
<line x1="307.50" y1="803.10" x2="307.50" y2="824.10" stroke="#A2A2A2" stroke-width="0.9"/>
<line x1="315.80" y1="803.10" x2="315.80" y2="824.10" stroke="#A2A2A2" stroke-width="0.9"/>
<line x1="324.10" y1="803.10" x2="324.10" y2="824.10" stroke="#A2A2A2" stroke-width="0.9"/>
<line x1="332.40" y1="803.10" x2="332.40" y2="824.10" stroke="#A2A2A2" stroke-width="0.9"/>
<line x1="340.70" y1="803.10" x2="340.70" y2="824.10" stroke="#A2A2A2" stroke-width="0.9"/>
<line x1="349.00" y1="803.10" x2="349.00" y2="824.10" stroke="#A2A2A2" stroke-width="0.9"/>
<line x1="357.30" y1="803.10" x2="357.30" y2="824.10" stroke="#A2A2A2" stroke-width="0.9"/>
<line x1="50.20" y1="803.10" x2="357.30" y2="803.10" stroke="#A2A2A2" stroke-width="0.9"/>
<line x1="359.3" y1="803.10" x2="366.8" y2="803.10" stroke="#A2A2A2" stroke-width="0.9"/>
<line x1="50.20" y1="810.10" x2="357.30" y2="810.10" stroke="#A2A2A2" stroke-width="0.9"/>
<line x1="359.3" y1="810.10" x2="366.8" y2="810.10" stroke="#A2A2A2" stroke-width="0.9"/>
<line x1="50.20" y1="817.10" x2="357.30" y2="817.10" stroke="#A2A2A2" stroke-width="0.9"/>
<line x1="359.3" y1="817.10" x2="366.8" y2="817.10" stroke="#A2A2A2" stroke-width="0.9"/>
<line x1="50.20" y1="824.10" x2="357.30" y2="824.10" stroke="#A2A2A2" stroke-width="0.9"/>
<line x1="359.3" y1="824.10" x2="366.8" y2="824.10" stroke="#A2A2A2" stroke-width="0.9"/>
<line x1="359.3" y1="803.10" x2="359.3" y2="824.10" stroke="#A2A2A2" stroke-width="0.9"/>
<line x1="366.8" y1="803.10" x2="366.8" y2="824.10" stroke="#A2A2A2" stroke-width="0.9"/>
<rect x="50.20" y="826.80" width="8.30" height="7.00" fill="#CEE7F1" />
<rect x="58.50" y="826.80" width="8.30" height="7.00" fill="#FC955E" />
<rect x="66.80" y="826.80" width="8.30" height="7.00" fill="#E3F4F2" />
<rect x="75.10" y="826.80" width="8.30" height="7.00" fill="#D7EDF5" />
<rect x="83.40" y="826.80" width="8.30" height="7.00" fill="#BCDBEB" />
<rect x="91.70" y="826.80" width="8.30" height="7.00" fill="#D7EDF5" />
<rect x="100.00" y="826.80" width="8.30" height="7.00" fill="#BCDBEB" />
<rect x="108.30" y="826.80" width="8.30" height="7.00" fill="#D7EDF5" />
<rect x="116.60" y="826.80" width="8.30" height="7.00" fill="#D7EDF5" />
<rect x="124.90" y="826.80" width="8.30" height="7.00" fill="#ECF8E1" />
<rect x="133.20" y="826.80" width="8.30" height="7.00" fill="#F3FAD6" />
<rect x="141.50" y="826.80" width="8.30" height="7.00" fill="#B3D5E8" />
<rect x="149.80" y="826.80" width="8.30" height="7.00" fill="#ECF8E1" />
<rect x="158.10" y="826.80" width="8.30" height="7.00" fill="#D7EDF5" />
<rect x="166.40" y="826.80" width="8.30" height="7.00" fill="#F0F9DC" />
<rect x="174.70" y="826.80" width="8.30" height="7.00" fill="#DFF3F8" />
<rect x="183.00" y="826.80" width="8.30" height="7.00" fill="#F3FAD6" />
<rect x="191.30" y="826.80" width="8.30" height="7.00" fill="#DFF3F8" />
<rect x="199.60" y="826.80" width="8.30" height="7.00" fill="#D7EDF5" />
<rect x="207.90" y="826.80" width="8.30" height="7.00" fill="#E3F4F2" />
<rect x="216.20" y="826.80" width="8.30" height="7.00" fill="#CEE7F1" />
<rect x="224.50" y="826.80" width="8.30" height="7.00" fill="#E3F4F2" />
<rect x="232.80" y="826.80" width="8.30" height="7.00" fill="#FEE99E" />
<rect x="241.10" y="826.80" width="8.30" height="7.00" fill="#ECF8E1" />
<rect x="249.40" y="826.80" width="8.30" height="7.00" fill="#ECF8E1" />
<rect x="257.70" y="826.80" width="8.30" height="7.00" fill="#FEE99E" />
<rect x="266.00" y="826.80" width="8.30" height="7.00" fill="#DFF3F8" />
<rect x="274.30" y="826.80" width="8.30" height="7.00" fill="#F0F9DC" />
<rect x="282.60" y="826.80" width="8.30" height="7.00" fill="#F6FBD0" />
<rect x="290.90" y="826.80" width="8.30" height="7.00" fill="#FEE090" />
<rect x="299.20" y="826.80" width="8.30" height="7.00" fill="#F0F9DC" />
<rect x="307.50" y="826.80" width="8.30" height="7.00" fill="#E3F4F2" />
<rect x="315.80" y="826.80" width="8.30" height="7.00" fill="#DFF3F8" />
<rect x="324.10" y="826.80" width="8.30" height="7.00" fill="#FFF3AC" />
<rect x="332.40" y="826.80" width="8.30" height="7.00" fill="#FED88A" />
<rect x="340.70" y="826.80" width="8.30" height="7.00" fill="#F0F9DC" />
<rect x="349.00" y="826.80" width="8.30" height="7.00" fill="#E3F4F2" />
<rect x="359.30" y="826.80" width="7.50" height="7.00" fill="#F8807A" />
<text x="46.60" y="833.40" font-size="8.5" text-anchor="end" fill="#231F20" class="ns">P9T1</text>
<rect x="50.20" y="833.80" width="8.30" height="7.00" fill="#AAD0E4" />
<rect x="58.50" y="833.80" width="8.30" height="7.00" fill="#ECF8E1" />
<rect x="66.80" y="833.80" width="8.30" height="7.00" fill="#E3F4F2" />
<rect x="75.10" y="833.80" width="8.30" height="7.00" fill="#D7EDF5" />
<rect x="83.40" y="833.80" width="8.30" height="7.00" fill="#E3F4F2" />
<rect x="91.70" y="833.80" width="8.30" height="7.00" fill="#C5E1EE" />
<rect x="100.00" y="833.80" width="8.30" height="7.00" fill="#A1CAE1" />
<rect x="108.30" y="833.80" width="8.30" height="7.00" fill="#D7EDF5" />
<rect x="116.60" y="833.80" width="8.30" height="7.00" fill="#BCDBEB" />
<rect x="124.90" y="833.80" width="8.30" height="7.00" fill="#CEE7F1" />
<rect x="133.20" y="833.80" width="8.30" height="7.00" fill="#BCDBEB" />
<rect x="141.50" y="833.80" width="8.30" height="7.00" fill="#6E9DC9" />
<rect x="149.80" y="833.80" width="8.30" height="7.00" fill="#BCDBEB" />
<rect x="158.10" y="833.80" width="8.30" height="7.00" fill="#E7F6EC" />
<rect x="166.40" y="833.80" width="8.30" height="7.00" fill="#E7F6EC" />
<rect x="174.70" y="833.80" width="8.30" height="7.00" fill="#C5E1EE" />
<rect x="183.00" y="833.80" width="8.30" height="7.00" fill="#C5E1EE" />
<rect x="191.30" y="833.80" width="8.30" height="7.00" fill="#DFF3F8" />
<rect x="199.60" y="833.80" width="8.30" height="7.00" fill="#AAD0E4" />
<rect x="207.90" y="833.80" width="8.30" height="7.00" fill="#F0F9DC" />
<rect x="216.20" y="833.80" width="8.30" height="7.00" fill="#ECF8E1" />
<rect x="224.50" y="833.80" width="8.30" height="7.00" fill="#E3F4F2" />
<rect x="232.80" y="833.80" width="8.30" height="7.00" fill="#CEE7F1" />
<rect x="241.10" y="833.80" width="8.30" height="7.00" fill="#E7F6EC" />
<rect x="249.40" y="833.80" width="8.30" height="7.00" fill="#B3D5E8" />
<rect x="257.70" y="833.80" width="8.30" height="7.00" fill="#F3FAD6" />
<rect x="266.00" y="833.80" width="8.30" height="7.00" fill="#CEE7F1" />
<rect x="274.30" y="833.80" width="8.30" height="7.00" fill="#AAD0E4" />
<rect x="282.60" y="833.80" width="8.30" height="7.00" fill="#A1CAE1" />
<rect x="290.90" y="833.80" width="8.30" height="7.00" fill="#F6FBD0" />
<rect x="299.20" y="833.80" width="8.30" height="7.00" fill="#E3F4F2" />
<rect x="307.50" y="833.80" width="8.30" height="7.00" fill="#CEE7F1" />
<rect x="315.80" y="833.80" width="8.30" height="7.00" fill="#C5E1EE" />
<rect x="324.10" y="833.80" width="8.30" height="7.00" fill="#D7EDF5" />
<rect x="332.40" y="833.80" width="8.30" height="7.00" fill="#F3FAD6" />
<rect x="340.70" y="833.80" width="8.30" height="7.00" fill="#CEE7F1" />
<rect x="349.00" y="833.80" width="8.30" height="7.00" fill="#87B6D6" />
<rect x="359.30" y="833.80" width="7.50" height="7.00" fill="#F8807A" />
<text x="46.60" y="840.40" font-size="8.5" text-anchor="end" fill="#231F20" class="ns">P9T2</text>
<rect x="50.20" y="840.80" width="8.30" height="7.00" fill="#FFF3AC" />
<rect x="58.50" y="840.80" width="8.30" height="7.00" fill="#F3FAD6" />
<rect x="66.80" y="840.80" width="8.30" height="7.00" fill="#FFF6B1" />
<rect x="75.10" y="840.80" width="8.30" height="7.00" fill="#FED88A" />
<rect x="83.40" y="840.80" width="8.30" height="7.00" fill="#FEE699" />
<rect x="91.70" y="840.80" width="8.30" height="7.00" fill="#FFF6B1" />
<rect x="100.00" y="840.80" width="8.30" height="7.00" fill="#FEF0A8" />
<rect x="108.30" y="840.80" width="8.30" height="7.00" fill="#FED88A" />
<rect x="116.60" y="840.80" width="8.30" height="7.00" fill="#FEE99E" />
<rect x="124.90" y="840.80" width="8.30" height="7.00" fill="#FEE699" />
<rect x="133.20" y="840.80" width="8.30" height="7.00" fill="#E7F6EC" />
<rect x="141.50" y="840.80" width="8.30" height="7.00" fill="#FFF6B1" />
<rect x="149.80" y="840.80" width="8.30" height="7.00" fill="#FEE090" />
<rect x="158.10" y="840.80" width="8.30" height="7.00" fill="#FEE395" />
<rect x="166.40" y="840.80" width="8.30" height="7.00" fill="#F3FAD6" />
<rect x="174.70" y="840.80" width="8.30" height="7.00" fill="#FDC780" />
<rect x="183.00" y="840.80" width="8.30" height="7.00" fill="#FEECA3" />
<rect x="191.30" y="840.80" width="8.30" height="7.00" fill="#FED88A" />
<rect x="199.60" y="840.80" width="8.30" height="7.00" fill="#FEF0A8" />
<rect x="207.90" y="840.80" width="8.30" height="7.00" fill="#FEE395" />
<rect x="216.20" y="840.80" width="8.30" height="7.00" fill="#FEE090" />
<rect x="224.50" y="840.80" width="8.30" height="7.00" fill="#FEE090" />
<rect x="232.80" y="840.80" width="8.30" height="7.00" fill="#F6FBD0" />
<rect x="241.10" y="840.80" width="8.30" height="7.00" fill="#FED88A" />
<rect x="249.40" y="840.80" width="8.30" height="7.00" fill="#F3FAD6" />
<rect x="257.70" y="840.80" width="8.30" height="7.00" fill="#F3FAD6" />
<rect x="266.00" y="840.80" width="8.30" height="7.00" fill="#FEE99E" />
<rect x="274.30" y="840.80" width="8.30" height="7.00" fill="#D7EDF5" />
<rect x="282.60" y="840.80" width="8.30" height="7.00" fill="#FEE99E" />
<rect x="290.90" y="840.80" width="8.30" height="7.00" fill="#F3FAD6" />
<rect x="299.20" y="840.80" width="8.30" height="7.00" fill="#FEECA3" />
<rect x="307.50" y="840.80" width="8.30" height="7.00" fill="#FEE99E" />
<rect x="315.80" y="840.80" width="8.30" height="7.00" fill="#FEF0A8" />
<rect x="324.10" y="840.80" width="8.30" height="7.00" fill="#FEE99E" />
<rect x="332.40" y="840.80" width="8.30" height="7.00" fill="#F6FBD0" />
<rect x="340.70" y="840.80" width="8.30" height="7.00" fill="#FEECA3" />
<rect x="349.00" y="840.80" width="8.30" height="7.00" fill="#FEF0A8" />
<rect x="359.30" y="840.80" width="7.50" height="7.00" fill="#F8807A" />
<text x="46.60" y="847.40" font-size="8.5" text-anchor="end" fill="#231F20" class="ns">P9T3</text>
<line x1="50.20" y1="826.80" x2="50.20" y2="847.80" stroke="#A2A2A2" stroke-width="0.9"/>
<line x1="58.50" y1="826.80" x2="58.50" y2="847.80" stroke="#A2A2A2" stroke-width="0.9"/>
<line x1="66.80" y1="826.80" x2="66.80" y2="847.80" stroke="#A2A2A2" stroke-width="0.9"/>
<line x1="75.10" y1="826.80" x2="75.10" y2="847.80" stroke="#A2A2A2" stroke-width="0.9"/>
<line x1="83.40" y1="826.80" x2="83.40" y2="847.80" stroke="#A2A2A2" stroke-width="0.9"/>
<line x1="91.70" y1="826.80" x2="91.70" y2="847.80" stroke="#A2A2A2" stroke-width="0.9"/>
<line x1="100.00" y1="826.80" x2="100.00" y2="847.80" stroke="#A2A2A2" stroke-width="0.9"/>
<line x1="108.30" y1="826.80" x2="108.30" y2="847.80" stroke="#A2A2A2" stroke-width="0.9"/>
<line x1="116.60" y1="826.80" x2="116.60" y2="847.80" stroke="#A2A2A2" stroke-width="0.9"/>
<line x1="124.90" y1="826.80" x2="124.90" y2="847.80" stroke="#A2A2A2" stroke-width="0.9"/>
<line x1="133.20" y1="826.80" x2="133.20" y2="847.80" stroke="#A2A2A2" stroke-width="0.9"/>
<line x1="141.50" y1="826.80" x2="141.50" y2="847.80" stroke="#A2A2A2" stroke-width="0.9"/>
<line x1="149.80" y1="826.80" x2="149.80" y2="847.80" stroke="#A2A2A2" stroke-width="0.9"/>
<line x1="158.10" y1="826.80" x2="158.10" y2="847.80" stroke="#A2A2A2" stroke-width="0.9"/>
<line x1="166.40" y1="826.80" x2="166.40" y2="847.80" stroke="#A2A2A2" stroke-width="0.9"/>
<line x1="174.70" y1="826.80" x2="174.70" y2="847.80" stroke="#A2A2A2" stroke-width="0.9"/>
<line x1="183.00" y1="826.80" x2="183.00" y2="847.80" stroke="#A2A2A2" stroke-width="0.9"/>
<line x1="191.30" y1="826.80" x2="191.30" y2="847.80" stroke="#A2A2A2" stroke-width="0.9"/>
<line x1="199.60" y1="826.80" x2="199.60" y2="847.80" stroke="#A2A2A2" stroke-width="0.9"/>
<line x1="207.90" y1="826.80" x2="207.90" y2="847.80" stroke="#A2A2A2" stroke-width="0.9"/>
<line x1="216.20" y1="826.80" x2="216.20" y2="847.80" stroke="#A2A2A2" stroke-width="0.9"/>
<line x1="224.50" y1="826.80" x2="224.50" y2="847.80" stroke="#A2A2A2" stroke-width="0.9"/>
<line x1="232.80" y1="826.80" x2="232.80" y2="847.80" stroke="#A2A2A2" stroke-width="0.9"/>
<line x1="241.10" y1="826.80" x2="241.10" y2="847.80" stroke="#A2A2A2" stroke-width="0.9"/>
<line x1="249.40" y1="826.80" x2="249.40" y2="847.80" stroke="#A2A2A2" stroke-width="0.9"/>
<line x1="257.70" y1="826.80" x2="257.70" y2="847.80" stroke="#A2A2A2" stroke-width="0.9"/>
<line x1="266.00" y1="826.80" x2="266.00" y2="847.80" stroke="#A2A2A2" stroke-width="0.9"/>
<line x1="274.30" y1="826.80" x2="274.30" y2="847.80" stroke="#A2A2A2" stroke-width="0.9"/>
<line x1="282.60" y1="826.80" x2="282.60" y2="847.80" stroke="#A2A2A2" stroke-width="0.9"/>
<line x1="290.90" y1="826.80" x2="290.90" y2="847.80" stroke="#A2A2A2" stroke-width="0.9"/>
<line x1="299.20" y1="826.80" x2="299.20" y2="847.80" stroke="#A2A2A2" stroke-width="0.9"/>
<line x1="307.50" y1="826.80" x2="307.50" y2="847.80" stroke="#A2A2A2" stroke-width="0.9"/>
<line x1="315.80" y1="826.80" x2="315.80" y2="847.80" stroke="#A2A2A2" stroke-width="0.9"/>
<line x1="324.10" y1="826.80" x2="324.10" y2="847.80" stroke="#A2A2A2" stroke-width="0.9"/>
<line x1="332.40" y1="826.80" x2="332.40" y2="847.80" stroke="#A2A2A2" stroke-width="0.9"/>
<line x1="340.70" y1="826.80" x2="340.70" y2="847.80" stroke="#A2A2A2" stroke-width="0.9"/>
<line x1="349.00" y1="826.80" x2="349.00" y2="847.80" stroke="#A2A2A2" stroke-width="0.9"/>
<line x1="357.30" y1="826.80" x2="357.30" y2="847.80" stroke="#A2A2A2" stroke-width="0.9"/>
<line x1="50.20" y1="826.80" x2="357.30" y2="826.80" stroke="#A2A2A2" stroke-width="0.9"/>
<line x1="359.3" y1="826.80" x2="366.8" y2="826.80" stroke="#A2A2A2" stroke-width="0.9"/>
<line x1="50.20" y1="833.80" x2="357.30" y2="833.80" stroke="#A2A2A2" stroke-width="0.9"/>
<line x1="359.3" y1="833.80" x2="366.8" y2="833.80" stroke="#A2A2A2" stroke-width="0.9"/>
<line x1="50.20" y1="840.80" x2="357.30" y2="840.80" stroke="#A2A2A2" stroke-width="0.9"/>
<line x1="359.3" y1="840.80" x2="366.8" y2="840.80" stroke="#A2A2A2" stroke-width="0.9"/>
<line x1="50.20" y1="847.80" x2="357.30" y2="847.80" stroke="#A2A2A2" stroke-width="0.9"/>
<line x1="359.3" y1="847.80" x2="366.8" y2="847.80" stroke="#A2A2A2" stroke-width="0.9"/>
<line x1="359.3" y1="826.80" x2="359.3" y2="847.80" stroke="#A2A2A2" stroke-width="0.9"/>
<line x1="366.8" y1="826.80" x2="366.8" y2="847.80" stroke="#A2A2A2" stroke-width="0.9"/>
<rect x="50.20" y="850.50" width="8.30" height="7.00" fill="#F3FAD6" />
<rect x="58.50" y="850.50" width="8.30" height="7.00" fill="#FEE99E" />
<rect x="66.80" y="850.50" width="8.30" height="7.00" fill="#FFF6B1" />
<rect x="75.10" y="850.50" width="8.30" height="7.00" fill="#F0F9DC" />
<rect x="83.40" y="850.50" width="8.30" height="7.00" fill="#CEE7F1" />
<rect x="91.70" y="850.50" width="8.30" height="7.00" fill="#F0F9DC" />
<rect x="100.00" y="850.50" width="8.30" height="7.00" fill="#F3FAD6" />
<rect x="108.30" y="850.50" width="8.30" height="7.00" fill="#F6FBD0" />
<rect x="116.60" y="850.50" width="8.30" height="7.00" fill="#FFF9B6" />
<rect x="124.90" y="850.50" width="8.30" height="7.00" fill="#F3FAD6" />
<rect x="133.20" y="850.50" width="8.30" height="7.00" fill="#CEE7F1" />
<rect x="141.50" y="850.50" width="8.30" height="7.00" fill="#E3F4F2" />
<rect x="149.80" y="850.50" width="8.30" height="7.00" fill="#FFF9B6" />
<rect x="158.10" y="850.50" width="8.30" height="7.00" fill="#CEE7F1" />
<rect x="166.40" y="850.50" width="8.30" height="7.00" fill="#D7EDF5" />
<rect x="174.70" y="850.50" width="8.30" height="7.00" fill="#E3F4F2" />
<rect x="183.00" y="850.50" width="8.30" height="7.00" fill="#B3D5E8" />
<rect x="191.30" y="850.50" width="8.30" height="7.00" fill="#F3FAD6" />
<rect x="199.60" y="850.50" width="8.30" height="7.00" fill="#E3F4F2" />
<rect x="207.90" y="850.50" width="8.30" height="7.00" fill="#F0F9DC" />
<rect x="216.20" y="850.50" width="8.30" height="7.00" fill="#F0F9DC" />
<rect x="224.50" y="850.50" width="8.30" height="7.00" fill="#CEE7F1" />
<rect x="232.80" y="850.50" width="8.30" height="7.00" fill="#E3F4F2" />
<rect x="241.10" y="850.50" width="8.30" height="7.00" fill="#F6FBD0" />
<rect x="249.40" y="850.50" width="8.30" height="7.00" fill="#A1CAE1" />
<rect x="257.70" y="850.50" width="8.30" height="7.00" fill="#FDA66A" />
<rect x="266.00" y="850.50" width="8.30" height="7.00" fill="#E3F4F2" />
<rect x="274.30" y="850.50" width="8.30" height="7.00" fill="#CEE7F1" />
<rect x="282.60" y="850.50" width="8.30" height="7.00" fill="#C5E1EE" />
<rect x="290.90" y="850.50" width="8.30" height="7.00" fill="#FEE99E" />
<rect x="299.20" y="850.50" width="8.30" height="7.00" fill="#99C4DE" />
<rect x="307.50" y="850.50" width="8.30" height="7.00" fill="#F0F9DC" />
<rect x="315.80" y="850.50" width="8.30" height="7.00" fill="#CEE7F1" />
<rect x="324.10" y="850.50" width="8.30" height="7.00" fill="#FFF9B6" />
<rect x="332.40" y="850.50" width="8.30" height="7.00" fill="#FEE699" />
<rect x="340.70" y="850.50" width="8.30" height="7.00" fill="#BCDBEB" />
<rect x="349.00" y="850.50" width="8.30" height="7.00" fill="#ECF8E1" />
<rect x="359.30" y="850.50" width="7.50" height="7.00" fill="#F8807A" />
<text x="46.60" y="857.10" font-size="8.5" text-anchor="end" fill="#231F20" class="ns">P10T1</text>
<rect x="50.20" y="857.50" width="8.30" height="7.00" fill="#CEE7F1" />
<rect x="58.50" y="857.50" width="8.30" height="7.00" fill="#FEE699" />
<rect x="66.80" y="857.50" width="8.30" height="7.00" fill="#E3F4F2" />
<rect x="75.10" y="857.50" width="8.30" height="7.00" fill="#F3FAD6" />
<rect x="83.40" y="857.50" width="8.30" height="7.00" fill="#FFF6B1" />
<rect x="91.70" y="857.50" width="8.30" height="7.00" fill="#FEE395" />
<rect x="100.00" y="857.50" width="8.30" height="7.00" fill="#FFF6B1" />
<rect x="108.30" y="857.50" width="8.30" height="7.00" fill="#ECF8E1" />
<rect x="116.60" y="857.50" width="8.30" height="7.00" fill="#E3F4F2" />
<rect x="124.90" y="857.50" width="8.30" height="7.00" fill="#D7EDF5" />
<rect x="133.20" y="857.50" width="8.30" height="7.00" fill="#FFF9B6" />
<rect x="141.50" y="857.50" width="8.30" height="7.00" fill="#FFF3AC" />
<rect x="149.80" y="857.50" width="8.30" height="7.00" fill="#E3F4F2" />
<rect x="158.10" y="857.50" width="8.30" height="7.00" fill="#C5E1EE" />
<rect x="166.40" y="857.50" width="8.30" height="7.00" fill="#FFF9B6" />
<rect x="174.70" y="857.50" width="8.30" height="7.00" fill="#D7EDF5" />
<rect x="183.00" y="857.50" width="8.30" height="7.00" fill="#F0F9DC" />
<rect x="191.30" y="857.50" width="8.30" height="7.00" fill="#FFF9B6" />
<rect x="199.60" y="857.50" width="8.30" height="7.00" fill="#E3F4F2" />
<rect x="207.90" y="857.50" width="8.30" height="7.00" fill="#F0F9DC" />
<rect x="216.20" y="857.50" width="8.30" height="7.00" fill="#D7EDF5" />
<rect x="224.50" y="857.50" width="8.30" height="7.00" fill="#E3F4F2" />
<rect x="232.80" y="857.50" width="8.30" height="7.00" fill="#FEECA3" />
<rect x="241.10" y="857.50" width="8.30" height="7.00" fill="#F6FBD0" />
<rect x="249.40" y="857.50" width="8.30" height="7.00" fill="#FFFCBA" />
<rect x="257.70" y="857.50" width="8.30" height="7.00" fill="#FEE99E" />
<rect x="266.00" y="857.50" width="8.30" height="7.00" fill="#F3FAD6" />
<rect x="274.30" y="857.50" width="8.30" height="7.00" fill="#D7EDF5" />
<rect x="282.60" y="857.50" width="8.30" height="7.00" fill="#F3FAD6" />
<rect x="290.90" y="857.50" width="8.30" height="7.00" fill="#FEECA3" />
<rect x="299.20" y="857.50" width="8.30" height="7.00" fill="#D7EDF5" />
<rect x="307.50" y="857.50" width="8.30" height="7.00" fill="#E3F4F2" />
<rect x="315.80" y="857.50" width="8.30" height="7.00" fill="#DFF3F8" />
<rect x="324.10" y="857.50" width="8.30" height="7.00" fill="#FFF6B1" />
<rect x="332.40" y="857.50" width="8.30" height="7.00" fill="#FEECA3" />
<rect x="340.70" y="857.50" width="8.30" height="7.00" fill="#E3F4F2" />
<rect x="349.00" y="857.50" width="8.30" height="7.00" fill="#D7EDF5" />
<rect x="359.30" y="857.50" width="7.50" height="7.00" fill="#F8807A" />
<text x="46.60" y="864.10" font-size="8.5" text-anchor="end" fill="#231F20" class="ns">P10T2</text>
<line x1="50.20" y1="850.50" x2="50.20" y2="864.50" stroke="#A2A2A2" stroke-width="0.9"/>
<line x1="58.50" y1="850.50" x2="58.50" y2="864.50" stroke="#A2A2A2" stroke-width="0.9"/>
<line x1="66.80" y1="850.50" x2="66.80" y2="864.50" stroke="#A2A2A2" stroke-width="0.9"/>
<line x1="75.10" y1="850.50" x2="75.10" y2="864.50" stroke="#A2A2A2" stroke-width="0.9"/>
<line x1="83.40" y1="850.50" x2="83.40" y2="864.50" stroke="#A2A2A2" stroke-width="0.9"/>
<line x1="91.70" y1="850.50" x2="91.70" y2="864.50" stroke="#A2A2A2" stroke-width="0.9"/>
<line x1="100.00" y1="850.50" x2="100.00" y2="864.50" stroke="#A2A2A2" stroke-width="0.9"/>
<line x1="108.30" y1="850.50" x2="108.30" y2="864.50" stroke="#A2A2A2" stroke-width="0.9"/>
<line x1="116.60" y1="850.50" x2="116.60" y2="864.50" stroke="#A2A2A2" stroke-width="0.9"/>
<line x1="124.90" y1="850.50" x2="124.90" y2="864.50" stroke="#A2A2A2" stroke-width="0.9"/>
<line x1="133.20" y1="850.50" x2="133.20" y2="864.50" stroke="#A2A2A2" stroke-width="0.9"/>
<line x1="141.50" y1="850.50" x2="141.50" y2="864.50" stroke="#A2A2A2" stroke-width="0.9"/>
<line x1="149.80" y1="850.50" x2="149.80" y2="864.50" stroke="#A2A2A2" stroke-width="0.9"/>
<line x1="158.10" y1="850.50" x2="158.10" y2="864.50" stroke="#A2A2A2" stroke-width="0.9"/>
<line x1="166.40" y1="850.50" x2="166.40" y2="864.50" stroke="#A2A2A2" stroke-width="0.9"/>
<line x1="174.70" y1="850.50" x2="174.70" y2="864.50" stroke="#A2A2A2" stroke-width="0.9"/>
<line x1="183.00" y1="850.50" x2="183.00" y2="864.50" stroke="#A2A2A2" stroke-width="0.9"/>
<line x1="191.30" y1="850.50" x2="191.30" y2="864.50" stroke="#A2A2A2" stroke-width="0.9"/>
<line x1="199.60" y1="850.50" x2="199.60" y2="864.50" stroke="#A2A2A2" stroke-width="0.9"/>
<line x1="207.90" y1="850.50" x2="207.90" y2="864.50" stroke="#A2A2A2" stroke-width="0.9"/>
<line x1="216.20" y1="850.50" x2="216.20" y2="864.50" stroke="#A2A2A2" stroke-width="0.9"/>
<line x1="224.50" y1="850.50" x2="224.50" y2="864.50" stroke="#A2A2A2" stroke-width="0.9"/>
<line x1="232.80" y1="850.50" x2="232.80" y2="864.50" stroke="#A2A2A2" stroke-width="0.9"/>
<line x1="241.10" y1="850.50" x2="241.10" y2="864.50" stroke="#A2A2A2" stroke-width="0.9"/>
<line x1="249.40" y1="850.50" x2="249.40" y2="864.50" stroke="#A2A2A2" stroke-width="0.9"/>
<line x1="257.70" y1="850.50" x2="257.70" y2="864.50" stroke="#A2A2A2" stroke-width="0.9"/>
<line x1="266.00" y1="850.50" x2="266.00" y2="864.50" stroke="#A2A2A2" stroke-width="0.9"/>
<line x1="274.30" y1="850.50" x2="274.30" y2="864.50" stroke="#A2A2A2" stroke-width="0.9"/>
<line x1="282.60" y1="850.50" x2="282.60" y2="864.50" stroke="#A2A2A2" stroke-width="0.9"/>
<line x1="290.90" y1="850.50" x2="290.90" y2="864.50" stroke="#A2A2A2" stroke-width="0.9"/>
<line x1="299.20" y1="850.50" x2="299.20" y2="864.50" stroke="#A2A2A2" stroke-width="0.9"/>
<line x1="307.50" y1="850.50" x2="307.50" y2="864.50" stroke="#A2A2A2" stroke-width="0.9"/>
<line x1="315.80" y1="850.50" x2="315.80" y2="864.50" stroke="#A2A2A2" stroke-width="0.9"/>
<line x1="324.10" y1="850.50" x2="324.10" y2="864.50" stroke="#A2A2A2" stroke-width="0.9"/>
<line x1="332.40" y1="850.50" x2="332.40" y2="864.50" stroke="#A2A2A2" stroke-width="0.9"/>
<line x1="340.70" y1="850.50" x2="340.70" y2="864.50" stroke="#A2A2A2" stroke-width="0.9"/>
<line x1="349.00" y1="850.50" x2="349.00" y2="864.50" stroke="#A2A2A2" stroke-width="0.9"/>
<line x1="357.30" y1="850.50" x2="357.30" y2="864.50" stroke="#A2A2A2" stroke-width="0.9"/>
<line x1="50.20" y1="850.50" x2="357.30" y2="850.50" stroke="#A2A2A2" stroke-width="0.9"/>
<line x1="359.3" y1="850.50" x2="366.8" y2="850.50" stroke="#A2A2A2" stroke-width="0.9"/>
<line x1="50.20" y1="857.50" x2="357.30" y2="857.50" stroke="#A2A2A2" stroke-width="0.9"/>
<line x1="359.3" y1="857.50" x2="366.8" y2="857.50" stroke="#A2A2A2" stroke-width="0.9"/>
<line x1="50.20" y1="864.50" x2="357.30" y2="864.50" stroke="#A2A2A2" stroke-width="0.9"/>
<line x1="359.3" y1="864.50" x2="366.8" y2="864.50" stroke="#A2A2A2" stroke-width="0.9"/>
<line x1="359.3" y1="850.50" x2="359.3" y2="864.50" stroke="#A2A2A2" stroke-width="0.9"/>
<line x1="366.8" y1="850.50" x2="366.8" y2="864.50" stroke="#A2A2A2" stroke-width="0.9"/>
<text transform="translate(57.95,871.2) rotate(-55)" font-size="8.0" text-anchor="end" fill="#231F20" class="ns">TOX</text>
<text transform="translate(66.25,871.2) rotate(-55)" font-size="8.0" text-anchor="end" fill="#231F20" class="ns">MS4A1</text>
<text transform="translate(74.55,871.2) rotate(-55)" font-size="8.0" text-anchor="end" fill="#231F20" class="ns">GZMK</text>
<text transform="translate(82.85,871.2) rotate(-55)" font-size="8.0" text-anchor="end" fill="#231F20" class="ns">OASL</text>
<text transform="translate(91.15,871.2) rotate(-55)" font-size="8.0" text-anchor="end" fill="#231F20" class="ns">MX1</text>
<text transform="translate(99.45,871.2) rotate(-55)" font-size="8.0" text-anchor="end" fill="#231F20" class="ns">IFI44L</text>
<text transform="translate(107.75,871.2) rotate(-55)" font-size="8.0" text-anchor="end" fill="#231F20" class="ns">IFI44</text>
<text transform="translate(116.05,871.2) rotate(-55)" font-size="8.0" text-anchor="end" fill="#231F20" class="ns">IFI27</text>
<text transform="translate(124.35,871.2) rotate(-55)" font-size="8.0" text-anchor="end" fill="#231F20" class="ns">IFI6</text>
<text transform="translate(132.65,871.2) rotate(-55)" font-size="8.0" text-anchor="end" fill="#231F20" class="ns">GZMA</text>
<text transform="translate(140.95,871.2) rotate(-55)" font-size="8.0" text-anchor="end" fill="#231F20" class="ns">TIGIT</text>
<text transform="translate(149.25,871.2) rotate(-55)" font-size="8.0" text-anchor="end" fill="#231F20" class="ns">STAT1</text>
<text transform="translate(157.55,871.2) rotate(-55)" font-size="8.0" text-anchor="end" fill="#231F20" class="ns">PSMB10</text>
<text transform="translate(165.85,871.2) rotate(-55)" font-size="8.0" text-anchor="end" fill="#231F20" class="ns">PRF1</text>
<text transform="translate(174.15,871.2) rotate(-55)" font-size="8.0" text-anchor="end" fill="#231F20" class="ns">PDCD1</text>
<text transform="translate(182.45,871.2) rotate(-55)" font-size="8.0" text-anchor="end" fill="#231F20" class="ns">NKG7</text>
<text transform="translate(190.75,871.2) rotate(-55)" font-size="8.0" text-anchor="end" fill="#231F20" class="ns">LAG3</text>
<text transform="translate(199.05,871.2) rotate(-55)" font-size="8.0" text-anchor="end" fill="#231F20" class="ns">IDO1</text>
<text transform="translate(207.35,871.2) rotate(-55)" font-size="8.0" text-anchor="end" fill="#231F20" class="ns">HAVCR2</text>
<text transform="translate(215.65,871.2) rotate(-55)" font-size="8.0" text-anchor="end" fill="#231F20" class="ns">GZMH</text>
<text transform="translate(223.95,871.2) rotate(-55)" font-size="8.0" text-anchor="end" fill="#231F20" class="ns">GZMB</text>
<text transform="translate(232.25,871.2) rotate(-55)" font-size="8.0" text-anchor="end" fill="#231F20" class="ns">GNLY</text>
<text transform="translate(240.55,871.2) rotate(-55)" font-size="8.0" text-anchor="end" fill="#231F20" class="ns">FOXP3</text>
<text transform="translate(248.85,871.2) rotate(-55)" font-size="8.0" text-anchor="end" fill="#231F20" class="ns">FGFBP2</text>
<text transform="translate(257.15,871.2) rotate(-55)" font-size="8.0" text-anchor="end" fill="#231F20" class="ns">CXCR6</text>
<text transform="translate(265.45,871.2) rotate(-55)" font-size="8.0" text-anchor="end" fill="#231F20" class="ns">CXCL13</text>
<text transform="translate(273.75,871.2) rotate(-55)" font-size="8.0" text-anchor="end" fill="#231F20" class="ns">CX3CR1</text>
<text transform="translate(282.05,871.2) rotate(-55)" font-size="8.0" text-anchor="end" fill="#231F20" class="ns">CTLA4</text>
<text transform="translate(290.35,871.2) rotate(-55)" font-size="8.0" text-anchor="end" fill="#231F20" class="ns">CMKLR1</text>
<text transform="translate(298.65,871.2) rotate(-55)" font-size="8.0" text-anchor="end" fill="#231F20" class="ns">CR2</text>
<text transform="translate(306.95,871.2) rotate(-55)" font-size="8.0" text-anchor="end" fill="#231F20" class="ns">CD8A</text>
<text transform="translate(315.25,871.2) rotate(-55)" font-size="8.0" text-anchor="end" fill="#231F20" class="ns">CD4</text>
<text transform="translate(323.55,871.2) rotate(-55)" font-size="8.0" text-anchor="end" fill="#231F20" class="ns">CD274</text>
<text transform="translate(331.85,871.2) rotate(-55)" font-size="8.0" text-anchor="end" fill="#231F20" class="ns">CD27</text>
<text transform="translate(340.15,871.2) rotate(-55)" font-size="8.0" text-anchor="end" fill="#231F20" class="ns">CD19</text>
<text transform="translate(348.45,871.2) rotate(-55)" font-size="8.0" text-anchor="end" fill="#231F20" class="ns">CD163</text>
<text transform="translate(356.75,871.2) rotate(-55)" font-size="8.0" text-anchor="end" fill="#231F20" class="ns">CCL5</text>
<text transform="translate(366.70,871.2) rotate(-55)" font-size="8.0" text-anchor="end" fill="#231F20" class="ns">Muation type</text>
<text x="373.30" y="661.80" font-size="9.0" text-anchor="start" fill="#231F20"  stroke="#231F20" stroke-width="0.15">Expression</text>
<text x="375.00" y="672.70" font-size="9.0" text-anchor="start" fill="#231F20"  stroke="#231F20" stroke-width="0.15">(z-score)</text>
<defs><linearGradient id="hg" x1="0" y1="0" x2="0" y2="1"><stop offset="0" stop-color="#D73027"/><stop offset="0.1667" stop-color="#FC8D59"/><stop offset="0.3333" stop-color="#FEE090"/><stop offset="0.5" stop-color="#FFFFBF"/><stop offset="0.6667" stop-color="#E0F3F8"/><stop offset="0.8333" stop-color="#91BFDB"/><stop offset="1" stop-color="#4575B4"/></linearGradient></defs>
<rect x="388.00" y="678.30" width="6.20" height="87.00" fill="url(#hg)" />
<text x="396.60" y="685.80" font-size="9.0" text-anchor="start" fill="#231F20"  stroke="#231F20" stroke-width="0.15">3</text>
<text x="396.60" y="699.28" font-size="9.0" text-anchor="start" fill="#231F20"  stroke="#231F20" stroke-width="0.15">2</text>
<text x="396.60" y="712.76" font-size="9.0" text-anchor="start" fill="#231F20"  stroke="#231F20" stroke-width="0.15">1</text>
<text x="396.60" y="726.24" font-size="9.0" text-anchor="start" fill="#231F20"  stroke="#231F20" stroke-width="0.15">0</text>
<text x="396.60" y="739.72" font-size="9.0" text-anchor="start" fill="#231F20"  stroke="#231F20" stroke-width="0.15">−1</text>
<text x="396.60" y="753.20" font-size="9.0" text-anchor="start" fill="#231F20"  stroke="#231F20" stroke-width="0.15">−2</text>
<text x="396.60" y="766.68" font-size="9.0" text-anchor="start" fill="#231F20"  stroke="#231F20" stroke-width="0.15">−3</text>
<text x="377.70" y="785.80" font-size="9.0" text-anchor="start" fill="#231F20"  stroke="#231F20" stroke-width="0.15">Muation type</text>
<rect x="378.20" y="790.40" width="8.00" height="7.60" fill="#F8807A" stroke="#A0A0A0" stroke-width="0.7"/>
<text x="388.50" y="797.50" font-size="9.0" text-anchor="start" fill="#231F20"  stroke="#231F20" stroke-width="0.15">EGFR_MT</text>
<rect x="378.20" y="800.65" width="8.00" height="7.60" fill="#7FAEF8" stroke="#A0A0A0" stroke-width="0.7"/>
<text x="388.50" y="807.75" font-size="9.0" text-anchor="start" fill="#231F20"  stroke="#231F20" stroke-width="0.15">KRAS_MT</text>
<rect x="378.20" y="810.90" width="8.00" height="7.60" fill="#00CC55" stroke="#A0A0A0" stroke-width="0.7"/>
<text x="388.50" y="818.00" font-size="9.0" text-anchor="start" fill="#231F20"  stroke="#231F20" stroke-width="0.15">Others</text>
<text x="443.00" y="647.60" font-size="16.5" text-anchor="start" fill="#231F20"  stroke="#231F20" stroke-width="0.15">f</text>
<text transform="translate(486.4,652.2) scale(0.84,1)" font-size="9.0" font-weight="bold" font-style="italic" fill="#000" stroke="#000" stroke-width="0.15">CD274</text>
<path d="M486.1 655.7V741.9H552.1" fill="none" stroke="#111" stroke-width="1.6"/>
<line x1="484.6" y1="740.10" x2="486.1" y2="740.10" stroke="#000" stroke-width="0.8"/>
<text transform="translate(483.60,742.50) scale(1,1.2)" font-size="8.5" text-anchor="end" fill="#231F20" stroke="#231F20" stroke-width="0.15">0</text>
<line x1="484.6" y1="714.55" x2="486.1" y2="714.55" stroke="#000" stroke-width="0.8"/>
<text transform="translate(483.60,716.95) scale(1,1.2)" font-size="8.5" text-anchor="end" fill="#231F20" stroke="#231F20" stroke-width="0.15">1</text>
<line x1="484.6" y1="689.00" x2="486.1" y2="689.00" stroke="#000" stroke-width="0.8"/>
<text transform="translate(483.60,691.40) scale(1,1.2)" font-size="8.5" text-anchor="end" fill="#231F20" stroke="#231F20" stroke-width="0.15">2</text>
<line x1="484.6" y1="663.45" x2="486.1" y2="663.45" stroke="#000" stroke-width="0.8"/>
<text transform="translate(483.60,665.85) scale(1,1.2)" font-size="8.5" text-anchor="end" fill="#231F20" stroke="#231F20" stroke-width="0.15">3</text>
<text transform="translate(473.00,697.60) rotate(-90)" font-size="9.5" text-anchor="middle" fill="#231F20" stroke="#231F20" stroke-width="0.15">log2 (TPM + 1)</text>
<g stroke="#EC7F7D" stroke-width="1.2" fill="none"><rect x="498.30" y="699.22" width="18.40" height="17.37"/><line x1="498.30" y1="703.56" x2="516.70" y2="703.56"/><line x1="507.50" y1="699.22" x2="507.50" y2="687.72"/><line x1="507.50" y1="716.59" x2="507.50" y2="737.55"/></g>
<circle cx="507.50" cy="666.52" r="1.65" fill="#EC7F7D"/>
<line x1="507.50" y1="741.5" x2="507.50" y2="743.1" stroke="#000" stroke-width="0.8"/>
<g stroke="#A4B6E2" stroke-width="1.2" fill="none"><rect x="527.20" y="675.71" width="18.40" height="19.67"/><line x1="527.20" y1="685.42" x2="545.60" y2="685.42"/><line x1="536.40" y1="675.71" x2="536.40" y2="660.13"/><line x1="536.40" y1="695.39" x2="536.40" y2="702.54"/></g>
<line x1="536.40" y1="741.5" x2="536.40" y2="743.1" stroke="#000" stroke-width="0.8"/>
<text x="521.90" y="662.30" font-size="8.5" text-anchor="middle" fill="#222"  stroke="#222" stroke-width="0.15">*</text>
<text transform="translate(513.00,746.90) rotate(-45)" font-size="9.0" text-anchor="end" fill="#231F20" stroke="#231F20" stroke-width="0.15">EGFR_MT</text>
<text transform="translate(541.90,746.90) rotate(-45)" font-size="9.0" text-anchor="end" fill="#231F20" stroke="#231F20" stroke-width="0.15">KRAS_MT</text>
<text transform="translate(597.4,652.9) scale(0.84,1)" font-size="9.0" font-weight="bold" font-style="italic" fill="#000" stroke="#000" stroke-width="0.15">TOX</text>
<path d="M597.0 656.9V743.1H663.6" fill="none" stroke="#111" stroke-width="1.6"/>
<line x1="595.5" y1="712.20" x2="597.0" y2="712.20" stroke="#000" stroke-width="0.8"/>
<text transform="translate(594.60,714.60) scale(1,1.2)" font-size="8.5" text-anchor="end" fill="#231F20" stroke="#231F20" stroke-width="0.15">1</text>
<line x1="595.5" y1="680.10" x2="597.0" y2="680.10" stroke="#000" stroke-width="0.8"/>
<text transform="translate(594.60,682.50) scale(1,1.2)" font-size="8.5" text-anchor="end" fill="#231F20" stroke="#231F20" stroke-width="0.15">2</text>
<text transform="translate(586.90,697.50) rotate(-90)" font-size="9.5" text-anchor="middle" fill="#231F20" stroke="#231F20" stroke-width="0.15">log2 (TPM + 1)</text>
<g stroke="#EC7F7D" stroke-width="1.2" fill="none"><rect x="609.30" y="685.24" width="18.60" height="36.59"/><line x1="609.30" y1="703.21" x2="627.90" y2="703.21"/><line x1="618.60" y1="685.24" x2="618.60" y2="662.77"/><line x1="618.60" y1="721.83" x2="618.60" y2="738.52"/></g>
<line x1="618.60" y1="742.7" x2="618.60" y2="744.3000000000001" stroke="#000" stroke-width="0.8"/>
<g stroke="#A4B6E2" stroke-width="1.2" fill="none"><rect x="638.10" y="664.05" width="18.60" height="13.48"/><line x1="638.10" y1="670.15" x2="656.70" y2="670.15"/><line x1="647.40" y1="664.05" x2="647.40" y2="660.52"/><line x1="647.40" y1="677.53" x2="647.40" y2="682.35"/></g>
<line x1="647.40" y1="742.7" x2="647.40" y2="744.3000000000001" stroke="#000" stroke-width="0.8"/>
<text x="630.80" y="660.10" font-size="8.5" text-anchor="middle" fill="#222"  stroke="#222" stroke-width="0.15">*</text>
<text transform="translate(624.00,747.40) rotate(-45)" font-size="9.0" text-anchor="end" fill="#231F20" stroke="#231F20" stroke-width="0.15">EGFR_MT</text>
<text transform="translate(652.30,747.40) rotate(-45)" font-size="9.0" text-anchor="end" fill="#231F20" stroke="#231F20" stroke-width="0.15">KRAS_MT</text>
<text transform="translate(483.8,791.9) scale(0.84,1)" font-size="9.0" font-weight="bold" font-style="italic" fill="#000" stroke="#000" stroke-width="0.15">IFI44</text>
<path d="M483.8 795.4V882.0H549.0" fill="none" stroke="#111" stroke-width="1.6"/>
<line x1="482.3" y1="867.30" x2="483.8" y2="867.30" stroke="#000" stroke-width="0.8"/>
<text transform="translate(481.80,869.70) scale(1,1.2)" font-size="8.5" text-anchor="end" fill="#231F20" stroke="#231F20" stroke-width="0.15">2</text>
<line x1="482.3" y1="852.45" x2="483.8" y2="852.45" stroke="#000" stroke-width="0.8"/>
<text transform="translate(481.80,854.85) scale(1,1.2)" font-size="8.5" text-anchor="end" fill="#231F20" stroke="#231F20" stroke-width="0.15">3</text>
<line x1="482.3" y1="837.60" x2="483.8" y2="837.60" stroke="#000" stroke-width="0.8"/>
<text transform="translate(481.80,840.00) scale(1,1.2)" font-size="8.5" text-anchor="end" fill="#231F20" stroke="#231F20" stroke-width="0.15">4</text>
<line x1="482.3" y1="822.75" x2="483.8" y2="822.75" stroke="#000" stroke-width="0.8"/>
<text transform="translate(481.80,825.15) scale(1,1.2)" font-size="8.5" text-anchor="end" fill="#231F20" stroke="#231F20" stroke-width="0.15">5</text>
<line x1="482.3" y1="807.90" x2="483.8" y2="807.90" stroke="#000" stroke-width="0.8"/>
<text transform="translate(481.80,810.30) scale(1,1.2)" font-size="8.5" text-anchor="end" fill="#231F20" stroke="#231F20" stroke-width="0.15">6</text>
<text transform="translate(470.40,837.00) rotate(-90)" font-size="9.5" text-anchor="middle" fill="#231F20" stroke="#231F20" stroke-width="0.15">log2 (TPM + 1)</text>
<g stroke="#EC7F7D" stroke-width="1.2" fill="none"><rect x="496.40" y="826.02" width="18.60" height="22.42"/><line x1="496.40" y1="834.63" x2="515.00" y2="834.63"/><line x1="505.70" y1="826.02" x2="505.70" y2="813.84"/><line x1="505.70" y1="848.44" x2="505.70" y2="876.21"/></g>
<line x1="505.70" y1="881.6" x2="505.70" y2="883.2" stroke="#000" stroke-width="0.8"/>
<g stroke="#A4B6E2" stroke-width="1.2" fill="none"><rect x="524.10" y="802.70" width="18.40" height="13.37"/><line x1="524.10" y1="809.38" x2="542.50" y2="809.38"/><line x1="533.30" y1="802.70" x2="533.30" y2="798.99"/><line x1="533.30" y1="816.07" x2="533.30" y2="816.07"/></g>
<circle cx="533.30" cy="838.34" r="1.65" fill="#A4B6E2"/>
<line x1="533.30" y1="881.6" x2="533.30" y2="883.2" stroke="#000" stroke-width="0.8"/>
<text x="518.00" y="798.80" font-size="8.5" text-anchor="middle" fill="#222"  stroke="#222" stroke-width="0.15">*</text>
<text transform="translate(511.20,887.50) rotate(-45)" font-size="9.0" text-anchor="end" fill="#231F20" stroke="#231F20" stroke-width="0.15">EGFR_MT</text>
<text transform="translate(538.40,887.50) rotate(-45)" font-size="9.0" text-anchor="end" fill="#231F20" stroke="#231F20" stroke-width="0.15">KRAS_MT</text>
<text transform="translate(605.3,791.9) scale(0.84,1)" font-size="9.0" font-weight="bold" font-style="italic" fill="#000" stroke="#000" stroke-width="0.15">IFI44L</text>
<path d="M604.3 795.5V882.1H668.6" fill="none" stroke="#111" stroke-width="1.6"/>
<line x1="602.8" y1="862.20" x2="604.3" y2="862.20" stroke="#000" stroke-width="0.8"/>
<text transform="translate(602.20,864.60) scale(1,1.2)" font-size="8.5" text-anchor="end" fill="#231F20" stroke="#231F20" stroke-width="0.15">2</text>
<line x1="602.8" y1="830.50" x2="604.3" y2="830.50" stroke="#000" stroke-width="0.8"/>
<text transform="translate(602.20,832.90) scale(1,1.2)" font-size="8.5" text-anchor="end" fill="#231F20" stroke="#231F20" stroke-width="0.15">4</text>
<line x1="602.8" y1="798.80" x2="604.3" y2="798.80" stroke="#000" stroke-width="0.8"/>
<text transform="translate(602.20,801.20) scale(1,1.2)" font-size="8.5" text-anchor="end" fill="#231F20" stroke="#231F20" stroke-width="0.15">6</text>
<text transform="translate(592.40,838.90) rotate(-90)" font-size="9.5" text-anchor="middle" fill="#231F20" stroke="#231F20" stroke-width="0.15">log2 (TPM + 1)</text>
<g stroke="#EC7F7D" stroke-width="1.2" fill="none"><rect x="617.10" y="846.35" width="18.60" height="24.57"/><line x1="617.10" y1="854.27" x2="635.70" y2="854.27"/><line x1="626.40" y1="846.35" x2="626.40" y2="820.99"/><line x1="626.40" y1="870.92" x2="626.40" y2="877.26"/></g>
<line x1="626.40" y1="881.7" x2="626.40" y2="883.3000000000001" stroke="#000" stroke-width="0.8"/>
<g stroke="#A4B6E2" stroke-width="1.2" fill="none"><rect x="644.95" y="817.82" width="18.70" height="22.98"/><line x1="644.95" y1="831.29" x2="663.65" y2="831.29"/><line x1="654.30" y1="817.82" x2="654.30" y2="798.80"/><line x1="654.30" y1="840.80" x2="654.30" y2="844.76"/></g>
<line x1="654.30" y1="881.7" x2="654.30" y2="883.3000000000001" stroke="#000" stroke-width="0.8"/>
<text x="638.50" y="799.80" font-size="8.5" text-anchor="middle" fill="#222"  stroke="#222" stroke-width="0.15">*</text>
<text transform="translate(632.30,887.80) rotate(-45)" font-size="9.0" text-anchor="end" fill="#231F20" stroke="#231F20" stroke-width="0.15">EGFR_MT</text>
<text transform="translate(659.60,887.80) rotate(-45)" font-size="9.0" text-anchor="end" fill="#231F20" stroke="#231F20" stroke-width="0.15">KRAS_MT</text>
</svg></body></html>
